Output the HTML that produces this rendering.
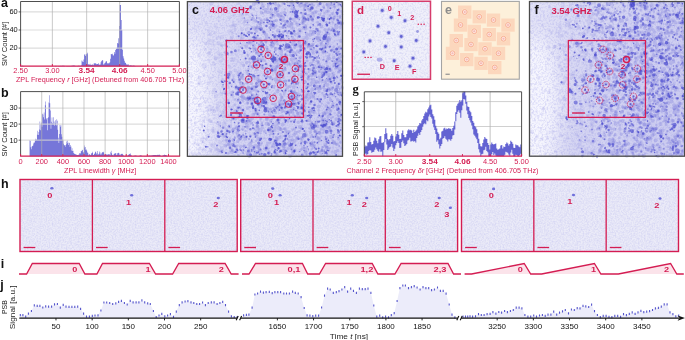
<!DOCTYPE html><html><head><meta charset="utf-8"><style>html,body{margin:0;padding:0;background:#fff;}svg{display:block;will-change:transform;}</style></head><body><svg width="685" height="340" viewBox="0 0 685 340" font-family="Liberation Sans, sans-serif"><rect width="685" height="340" fill="#fff"/><defs><filter id="grain" x="0" y="0" width="100%" height="100%"><feTurbulence type="fractalNoise" baseFrequency="0.65" numOctaves="2" seed="4" result="t"/><feColorMatrix type="matrix" values="0 0 0 0 0.35  0 0 0 0 0.35  0 0 0 0 0.8  0 0 0 -1.6 1.05"/></filter><filter id="sb" x="-5%" y="-5%" width="110%" height="110%"><feGaussianBlur stdDeviation="0.45"/></filter><filter id="sb2" x="-5%" y="-5%" width="110%" height="110%"><feGaussianBlur stdDeviation="0.7"/></filter><filter id="grain2" x="0" y="0" width="100%" height="100%"><feTurbulence type="fractalNoise" baseFrequency="0.55" numOctaves="2" seed="9"/><feColorMatrix type="matrix" values="0 0 0 0 0.32  0 0 0 0 0.32  0 0 0 0 0.8  3.2 0 0 0 -1.35"/></filter></defs><path d="M20.6 66.2v-0.09h0.64v0.09zM21.24 66.2v-0.15h0.64v0.15zM21.87 66.2v-0.38h0.64v0.38zM22.51 66.2v-0.51h0.64v0.51zM23.14 66.2v-0.28h0.64v0.28zM54.9 66.2v-0.1h0.64v0.1zM55.54 66.2v-0.41h0.64v0.41zM56.17 66.2v-0.24h0.64v0.24zM57.44 66.2v-0.06h0.64v0.06zM58.08 66.2v-0.11h0.64v0.11zM58.71 66.2v-0.13h0.64v0.13zM59.35 66.2v-0.21h0.64v0.21zM59.98 66.2v-0.23h0.64v0.23zM60.62 66.2v-0.33h0.64v0.33zM61.25 66.2v-0.27h0.64v0.27zM61.89 66.2v-0.36h0.64v0.36zM62.52 66.2v-0.49h0.64v0.49zM63.16 66.2v-0.57h0.64v0.57zM63.79 66.2v-0.4h0.64v0.4zM64.43 66.2v-0.13h0.64v0.13zM65.7 66.2v-0.05h0.64v0.05zM66.33 66.2v-0.1h0.64v0.1zM66.97 66.2v-0.1h0.64v0.1zM67.6 66.2v-0.16h0.64v0.16zM68.24 66.2v-0.16h0.64v0.16zM68.88 66.2v-0.25h0.64v0.25zM69.51 66.2v-0.25h0.64v0.25zM70.15 66.2v-0.27h0.64v0.27zM70.78 66.2v-0.25h0.64v0.25zM71.42 66.2v-0.44h0.64v0.44zM72.05 66.2v-0.47h0.64v0.47zM72.69 66.2v-0.59h0.64v0.59zM73.32 66.2v-0.75h0.64v0.75zM73.96 66.2v-0.75h0.64v0.75zM74.59 66.2v-0.36h0.64v0.36zM75.23 66.2v-0.15h0.64v0.15zM76.5 66.2v-0.21h0.64v0.21zM77.13 66.2v-0.27h0.64v0.27zM77.77 66.2v-0.42h0.64v0.42zM78.4 66.2v-0.37h0.64v0.37zM79.04 66.2v-0.34h0.64v0.34zM79.67 66.2v-0.29h0.64v0.29zM80.31 66.2v-0.46h0.64v0.46zM80.94 66.2v-0.72h0.64v0.72zM81.58 66.2v-5.61h0.64v5.61zM82.21 66.2v-4.68h0.64v4.68zM82.85 66.2v-4.08h0.64v4.08zM83.48 66.2v-6.69h0.64v6.69zM84.12 66.2v-11.75h0.64v11.75zM84.76 66.2v-11.74h0.64v11.74zM85.39 66.2v-10.09h0.64v10.09zM86.03 66.2v-12.47h0.64v12.47zM86.66 66.2v-11.95h0.64v11.95zM87.3 66.2v-13.33h0.64v13.33zM87.93 66.2v-2.24h0.64v2.24zM88.57 66.2v-1.57h0.64v1.57zM89.2 66.2v-1.64h0.64v1.64zM89.84 66.2v-2.36h0.64v2.36zM90.47 66.2v-1.29h0.64v1.29zM91.11 66.2v-1.46h0.64v1.46zM91.74 66.2v-1.31h0.64v1.31zM92.38 66.2v-2h0.64v2zM93.01 66.2v-1.02h0.64v1.02zM93.65 66.2v-2.81h0.64v2.81zM94.28 66.2v-2.83h0.64v2.83zM94.92 66.2v-2.89h0.64v2.89zM95.55 66.2v-2.68h0.64v2.68zM96.19 66.2v-1.91h0.64v1.91zM96.82 66.2v-2.12h0.64v2.12zM97.46 66.2v-2.29h0.64v2.29zM98.09 66.2v-3h0.64v3zM98.73 66.2v-1.76h0.64v1.76zM99.36 66.2v-1.33h0.64v1.33zM100 66.2v-1.77h0.64v1.77zM100.64 66.2v-4.05h0.64v4.05zM101.27 66.2v-5.25h0.64v5.25zM101.91 66.2v-6.25h0.64v6.25zM102.54 66.2v-5.62h0.64v5.62zM103.18 66.2v-1.61h0.64v1.61zM103.81 66.2v-1.94h0.64v1.94zM104.45 66.2v-3.09h0.64v3.09zM105.08 66.2v-3.67h0.64v3.67zM105.72 66.2v-5.03h0.64v5.03zM106.35 66.2v-4.88h0.64v4.88zM106.99 66.2v-3.03h0.64v3.03zM107.62 66.2v-2.7h0.64v2.7zM108.26 66.2v-2.91h0.64v2.91zM108.89 66.2v-2.9h0.64v2.9zM109.53 66.2v-4.04h0.64v4.04zM110.16 66.2v-7.42h0.64v7.42zM110.8 66.2v-12.15h0.64v12.15zM111.43 66.2v-11.86h0.64v11.86zM112.07 66.2v-12.42h0.64v12.42zM112.7 66.2v-10.89h0.64v10.89zM113.34 66.2v-10.59h0.64v10.59zM113.97 66.2v-14.14h0.64v14.14zM114.61 66.2v-12.53h0.64v12.53zM115.24 66.2v-16.13h0.64v16.13zM115.88 66.2v-17.25h0.64v17.25zM116.52 66.2v-18.38h0.64v18.38zM117.15 66.2v-23.19h0.64v23.19zM117.79 66.2v-22.7h0.64v22.7zM118.42 66.2v-28.05h0.64v28.05zM119.06 66.2v-40.19h0.64v40.19zM119.69 66.2v-61.09h0.64v61.09zM120.33 66.2v-61.09h0.64v61.09zM120.96 66.2v-46.16h0.64v46.16zM121.6 66.2v-36.2h0.64v36.2zM122.23 66.2v-16.51h0.64v16.51zM122.87 66.2v-9.84h0.64v9.84zM123.5 66.2v-7.68h0.64v7.68zM124.14 66.2v-5.39h0.64v5.39zM124.77 66.2v-3.65h0.64v3.65zM125.41 66.2v-3.18h0.64v3.18zM126.04 66.2v-2.04h0.64v2.04zM126.68 66.2v-1.34h0.64v1.34zM127.31 66.2v-1.8h0.64v1.8zM127.95 66.2v-1.95h0.64v1.95zM128.58 66.2v-0.8h0.64v0.8zM129.22 66.2v-0.55h0.64v0.55zM129.85 66.2v-1h0.64v1zM130.49 66.2v-0.68h0.64v0.68zM131.12 66.2v-0.59h0.64v0.59zM131.76 66.2v-0.5h0.64v0.5zM132.4 66.2v-0.55h0.64v0.55zM133.03 66.2v-0.58h0.64v0.58zM133.67 66.2v-0.55h0.64v0.55zM134.3 66.2v-0.45h0.64v0.45zM134.94 66.2v-0.2h0.64v0.2zM140.02 66.2v-0.12h0.64v0.12zM140.65 66.2v-0.37h0.64v0.37zM141.29 66.2v-0.16h0.64v0.16zM150.18 66.2v-0.15h0.64v0.15zM150.82 66.2v-0.32h0.64v0.32zM151.45 66.2v-0.06h0.64v0.06z" fill="#5e5ed2" fill-opacity="0.85" stroke="none"/><line x1="20.6" y1="48.1" x2="179.4" y2="48.1" stroke="#d4d4d4" stroke-width="1.2" stroke-opacity="0.8"/><line x1="20.6" y1="30" x2="179.4" y2="30" stroke="#d4d4d4" stroke-width="1.2" stroke-opacity="0.8"/><line x1="20.6" y1="11.9" x2="179.4" y2="11.9" stroke="#d4d4d4" stroke-width="1.2" stroke-opacity="0.8"/><line x1="52.36" y1="1.5" x2="52.36" y2="66.2" stroke="#b0b0b0" stroke-width="0.8" stroke-opacity="0.85"/><line x1="86.66" y1="1.5" x2="86.66" y2="66.2" stroke="#b0b0b0" stroke-width="0.8" stroke-opacity="0.85"/><line x1="119.69" y1="1.5" x2="119.69" y2="66.2" stroke="#b0b0b0" stroke-width="0.8" stroke-opacity="0.85"/><line x1="147.64" y1="1.5" x2="147.64" y2="66.2" stroke="#b0b0b0" stroke-width="0.8" stroke-opacity="0.85"/><path d="M20.6 66.2V1.5H179.4V66.2" fill="none" stroke="#3a3a3a" stroke-width="0.9"/><line x1="18.6" y1="48.1" x2="20.6" y2="48.1" stroke="#3a3a3a" stroke-width="0.8"/><text x="17.7" y="50.05" font-family="Liberation Sans" font-size="7.3" text-anchor="end" fill="#111" font-weight="normal" textLength="8.27" lengthAdjust="spacingAndGlyphs" >20</text><line x1="18.6" y1="30" x2="20.6" y2="30" stroke="#3a3a3a" stroke-width="0.8"/><text x="17.7" y="31.95" font-family="Liberation Sans" font-size="7.3" text-anchor="end" fill="#111" font-weight="normal" textLength="8.27" lengthAdjust="spacingAndGlyphs" >40</text><line x1="18.6" y1="11.9" x2="20.6" y2="11.9" stroke="#3a3a3a" stroke-width="0.8"/><text x="17.7" y="13.85" font-family="Liberation Sans" font-size="7.3" text-anchor="end" fill="#111" font-weight="normal" textLength="8.27" lengthAdjust="spacingAndGlyphs" >60</text><line x1="20.200000000000003" y1="66.2" x2="179.8" y2="66.2" stroke="#d41c52" stroke-width="1.3"/><line x1="20.6" y1="66.2" x2="20.6" y2="64.0" stroke="#d41c52" stroke-width="0.9"/><text x="20.6" y="73.4" font-family="Liberation Sans" font-size="7.3" text-anchor="middle" fill="#d41c52" font-weight="normal" textLength="14.47" lengthAdjust="spacingAndGlyphs" >2.50</text><line x1="52.36" y1="66.2" x2="52.36" y2="64.0" stroke="#d41c52" stroke-width="0.9"/><text x="52.36" y="73.4" font-family="Liberation Sans" font-size="7.3" text-anchor="middle" fill="#d41c52" font-weight="normal" textLength="14.47" lengthAdjust="spacingAndGlyphs" >3.00</text><line x1="86.66" y1="66.2" x2="86.66" y2="64.0" stroke="#d41c52" stroke-width="0.9"/><text x="86.66" y="73.4" font-family="Liberation Sans" font-size="7.3" text-anchor="middle" fill="#d41c52" font-weight="bold" textLength="16.04" lengthAdjust="spacingAndGlyphs" >3.54</text><line x1="119.69" y1="66.2" x2="119.69" y2="64.0" stroke="#d41c52" stroke-width="0.9"/><text x="119.69" y="73.4" font-family="Liberation Sans" font-size="7.3" text-anchor="middle" fill="#d41c52" font-weight="bold" textLength="16.04" lengthAdjust="spacingAndGlyphs" >4.06</text><line x1="147.64" y1="66.2" x2="147.64" y2="64.0" stroke="#d41c52" stroke-width="0.9"/><text x="147.64" y="73.4" font-family="Liberation Sans" font-size="7.3" text-anchor="middle" fill="#d41c52" font-weight="normal" textLength="14.47" lengthAdjust="spacingAndGlyphs" >4.50</text><line x1="179.4" y1="66.2" x2="179.4" y2="64.0" stroke="#d41c52" stroke-width="0.9"/><text x="179.4" y="73.4" font-family="Liberation Sans" font-size="7.3" text-anchor="middle" fill="#d41c52" font-weight="normal" textLength="14.47" lengthAdjust="spacingAndGlyphs" >5.00</text><text x="100" y="82.1" font-family="Liberation Sans" font-size="7.3" text-anchor="middle" fill="#d41c52" font-weight="normal" textLength="168.12" lengthAdjust="spacingAndGlyphs" >ZPL Frequency <tspan font-style="italic">r</tspan> [GHz] (Detuned from 406.705 THz)</text><text x="6.6" y="43.8" font-family="Liberation Sans" font-size="7.3" text-anchor="middle" fill="#222" font-weight="normal" textLength="44.33" lengthAdjust="spacingAndGlyphs" transform="rotate(-90 6.6 43.8)">SiV Count [#]</text><path d="M29.58 156.2v-16.26h0.53v16.26zM30.11 156.2v-15.43h0.53v15.43zM30.64 156.2v-8.86h0.53v8.86zM31.16 156.2v-7.04h0.53v7.04zM31.69 156.2v-9.74h0.53v9.74zM32.22 156.2v-10.11h0.53v10.11zM32.75 156.2v-10.63h0.53v10.63zM33.28 156.2v-12.72h0.53v12.72zM33.81 156.2v-13.93h0.53v13.93zM34.33 156.2v-13.41h0.53v13.41zM34.86 156.2v-15.7h0.53v15.7zM35.39 156.2v-17.35h0.53v17.35zM35.92 156.2v-16.17h0.53v16.17zM36.45 156.2v-16.84h0.53v16.84zM36.97 156.2v-21.44h0.53v21.44zM37.5 156.2v-25.44h0.53v25.44zM38.03 156.2v-21.28h0.53v21.28zM38.56 156.2v-24.24h0.53v24.24zM39.09 156.2v-26.81h0.53v26.81zM39.62 156.2v-34.7h0.53v34.7zM40.14 156.2v-25.9h0.53v25.9zM40.67 156.2v-32.35h0.53v32.35zM41.2 156.2v-33.67h0.53v33.67zM41.73 156.2v-29.56h0.53v29.56zM42.26 156.2v-42.49h0.53v42.49zM42.78 156.2v-41.79h0.53v41.79zM43.31 156.2v-38.99h0.53v38.99zM43.84 156.2v-43.79h0.53v43.79zM44.37 156.2v-36.71h0.53v36.71zM44.9 156.2v-50.93h0.53v50.93zM45.43 156.2v-54.73h0.53v54.73zM45.95 156.2v-36.65h0.53v36.65zM46.48 156.2v-37.96h0.53v37.96zM47.01 156.2v-25.88h0.53v25.88zM47.54 156.2v-38.13h0.53v38.13zM48.07 156.2v-38.97h0.53v38.97zM48.6 156.2v-53.77h0.53v53.77zM49.12 156.2v-60.99h0.53v60.99zM49.65 156.2v-52.88h0.53v52.88zM50.18 156.2v-45.82h0.53v45.82zM50.71 156.2v-27.48h0.53v27.48zM51.24 156.2v-34.43h0.53v34.43zM51.76 156.2v-38.75h0.53v38.75zM52.29 156.2v-33.06h0.53v33.06zM52.82 156.2v-31.63h0.53v31.63zM53.35 156.2v-38.94h0.53v38.94zM53.88 156.2v-34.75h0.53v34.75zM54.41 156.2v-30.55h0.53v30.55zM54.93 156.2v-32.92h0.53v32.92zM55.46 156.2v-35.92h0.53v35.92zM55.99 156.2v-30.76h0.53v30.76zM56.52 156.2v-36.95h0.53v36.95zM57.05 156.2v-35.34h0.53v35.34zM57.57 156.2v-26.5h0.53v26.5zM58.1 156.2v-18.33h0.53v18.33zM58.63 156.2v-13.31h0.53v13.31zM59.16 156.2v-22.13h0.53v22.13zM59.69 156.2v-31.11h0.53v31.11zM60.22 156.2v-29.57h0.53v29.57zM60.74 156.2v-30.96h0.53v30.96zM61.27 156.2v-21.88h0.53v21.88zM61.8 156.2v-19.46h0.53v19.46zM62.33 156.2v-16.55h0.53v16.55zM62.86 156.2v-16.04h0.53v16.04zM63.39 156.2v-12.43h0.53v12.43zM63.91 156.2v-11.07h0.53v11.07zM64.44 156.2v-11.01h0.53v11.01zM64.97 156.2v-9.54h0.53v9.54zM65.5 156.2v-11.16h0.53v11.16zM66.03 156.2v-14.74h0.53v14.74zM66.55 156.2v-11.99h0.53v11.99zM67.08 156.2v-15.74h0.53v15.74zM67.61 156.2v-13.22h0.53v13.22zM68.14 156.2v-11.24h0.53v11.24zM68.67 156.2v-13.67h0.53v13.67zM69.2 156.2v-13.22h0.53v13.22zM69.72 156.2v-9.31h0.53v9.31zM70.25 156.2v-11.12h0.53v11.12zM70.78 156.2v-9.61h0.53v9.61zM71.31 156.2v-5.81h0.53v5.81zM71.84 156.2v-7.86h0.53v7.86zM72.36 156.2v-5.31h0.53v5.31zM72.89 156.2v-5.46h0.53v5.46zM73.42 156.2v-3.25h0.53v3.25zM73.95 156.2v-2.08h0.53v2.08zM74.48 156.2v-2.66h0.53v2.66zM75.01 156.2v-1.96h0.53v1.96zM75.53 156.2v-1.91h0.53v1.91zM76.06 156.2v-1.59h0.53v1.59zM76.59 156.2v-1.3h0.53v1.3zM77.12 156.2v-1.27h0.53v1.27zM77.65 156.2v-1.3h0.53v1.3zM78.18 156.2v-1.41h0.53v1.41zM78.7 156.2v-1.46h0.53v1.46zM79.23 156.2v-3.1h0.53v3.1zM79.76 156.2v-2.36h0.53v2.36zM80.29 156.2v-2.95h0.53v2.95zM80.82 156.2v-5.08h0.53v5.08zM81.34 156.2v-4.98h0.53v4.98zM81.87 156.2v-6.52h0.53v6.52zM82.4 156.2v-5.96h0.53v5.96zM82.93 156.2v-3.71h0.53v3.71zM83.46 156.2v-4h0.53v4zM83.99 156.2v-10.61h0.53v10.61zM84.51 156.2v-8.58h0.53v8.58zM85.04 156.2v-9.21h0.53v9.21zM85.57 156.2v-6.46h0.53v6.46zM86.1 156.2v-6.58h0.53v6.58zM86.63 156.2v-5.38h0.53v5.38zM87.15 156.2v-3.65h0.53v3.65zM87.68 156.2v-3.38h0.53v3.38zM88.21 156.2v-0.76h0.53v0.76zM88.74 156.2v-1.72h0.53v1.72zM89.27 156.2v-2.13h0.53v2.13zM89.8 156.2v-1.09h0.53v1.09zM90.32 156.2v-1.03h0.53v1.03zM90.85 156.2v-1.93h0.53v1.93zM91.38 156.2v-3.15h0.53v3.15zM91.91 156.2v-3.1h0.53v3.1zM92.44 156.2v-4.46h0.53v4.46zM92.97 156.2v-1.11h0.53v1.11zM93.49 156.2v-1.52h0.53v1.52zM94.02 156.2v-2.22h0.53v2.22zM94.55 156.2v-3.07h0.53v3.07zM95.08 156.2v-4.36h0.53v4.36zM95.61 156.2v-4.35h0.53v4.35zM96.13 156.2v-1.91h0.53v1.91zM96.66 156.2v-3.21h0.53v3.21zM97.19 156.2v-5.22h0.53v5.22zM97.72 156.2v-1.47h0.53v1.47zM98.25 156.2v-1.86h0.53v1.86zM98.78 156.2v-2.44h0.53v2.44zM99.3 156.2v-4.66h0.53v4.66zM99.83 156.2v-3.59h0.53v3.59zM100.36 156.2v-1.68h0.53v1.68zM100.89 156.2v-1.69h0.53v1.69zM101.42 156.2v-3.02h0.53v3.02zM101.94 156.2v-4.29h0.53v4.29zM102.47 156.2v-3.7h0.53v3.7zM103 156.2v-4.55h0.53v4.55zM103.53 156.2v-3.76h0.53v3.76zM104.06 156.2v-1.36h0.53v1.36zM104.59 156.2v-1.15h0.53v1.15zM105.11 156.2v-2.05h0.53v2.05zM105.64 156.2v-2.21h0.53v2.21zM106.17 156.2v-1.8h0.53v1.8zM106.7 156.2v-1.4h0.53v1.4zM107.23 156.2v-1.59h0.53v1.59zM107.76 156.2v-1.69h0.53v1.69zM108.28 156.2v-1.91h0.53v1.91zM108.81 156.2v-2.28h0.53v2.28zM109.34 156.2v-1.76h0.53v1.76zM109.87 156.2v-0.64h0.53v0.64zM110.4 156.2v-4.06h0.53v4.06zM110.92 156.2v-5.53h0.53v5.53zM111.45 156.2v-2.95h0.53v2.95zM111.98 156.2v-1.53h0.53v1.53zM112.51 156.2v-0.98h0.53v0.98zM113.04 156.2v-0.73h0.53v0.73zM113.57 156.2v-1.97h0.53v1.97zM114.09 156.2v-2.74h0.53v2.74zM114.62 156.2v-2.51h0.53v2.51zM115.15 156.2v-2.92h0.53v2.92zM115.68 156.2v-3.15h0.53v3.15zM116.21 156.2v-0.93h0.53v0.93zM116.73 156.2v-1.57h0.53v1.57zM117.26 156.2v-2.84h0.53v2.84zM117.79 156.2v-3.24h0.53v3.24zM118.32 156.2v-3.33h0.53v3.33zM118.85 156.2v-2.92h0.53v2.92zM119.38 156.2v-1.36h0.53v1.36zM119.9 156.2v-0.79h0.53v0.79zM120.43 156.2v-1.89h0.53v1.89zM120.96 156.2v-2.52h0.53v2.52zM121.49 156.2v-2.28h0.53v2.28zM122.02 156.2v-2.48h0.53v2.48zM122.55 156.2v-1.89h0.53v1.89zM123.07 156.2v-1.28h0.53v1.28zM123.6 156.2v-0.28h0.53v0.28zM124.13 156.2v-0.14h0.53v0.14zM124.66 156.2v-0.28h0.53v0.28zM125.19 156.2v-0.53h0.53v0.53zM125.71 156.2v-0.24h0.53v0.24zM126.24 156.2v-0.16h0.53v0.16zM127.3 156.2v-0.41h0.53v0.41zM127.83 156.2v-1.02h0.53v1.02zM128.36 156.2v-1.34h0.53v1.34zM128.88 156.2v-1.89h0.53v1.89zM129.41 156.2v-2.24h0.53v2.24zM129.94 156.2v-3.05h0.53v3.05zM130.47 156.2v-1.81h0.53v1.81zM131 156.2v-1.28h0.53v1.28zM131.52 156.2v-0.31h0.53v0.31zM132.58 156.2v-0.17h0.53v0.17zM133.11 156.2v-0.27h0.53v0.27zM133.64 156.2v-0.46h0.53v0.46zM134.17 156.2v-0.57h0.53v0.57zM134.69 156.2v-0.72h0.53v0.72zM135.22 156.2v-0.73h0.53v0.73zM135.75 156.2v-0.79h0.53v0.79zM136.28 156.2v-0.34h0.53v0.34zM137.34 156.2v-0.12h0.53v0.12zM137.86 156.2v-0.22h0.53v0.22zM138.39 156.2v-0.27h0.53v0.27zM138.92 156.2v-0.39h0.53v0.39zM139.45 156.2v-0.48h0.53v0.48zM139.98 156.2v-0.7h0.53v0.7zM140.5 156.2v-0.88h0.53v0.88zM141.03 156.2v-0.79h0.53v0.79zM141.56 156.2v-0.54h0.53v0.54zM142.09 156.2v-0.09h0.53v0.09zM143.67 156.2v-0.11h0.53v0.11zM144.2 156.2v-0.18h0.53v0.18zM144.73 156.2v-0.17h0.53v0.17zM145.26 156.2v-0.25h0.53v0.25zM145.79 156.2v-0.31h0.53v0.31zM146.31 156.2v-0.3h0.53v0.3zM146.84 156.2v-0.43h0.53v0.43zM147.37 156.2v-0.5h0.53v0.5zM147.9 156.2v-0.4h0.53v0.4zM148.43 156.2v-0.44h0.53v0.44zM148.96 156.2v-0.62h0.53v0.62zM149.48 156.2v-0.62h0.53v0.62zM150.01 156.2v-0.57h0.53v0.57zM150.54 156.2v-0.69h0.53v0.69zM151.07 156.2v-0.75h0.53v0.75zM151.6 156.2v-0.79h0.53v0.79zM152.13 156.2v-0.93h0.53v0.93zM152.65 156.2v-0.93h0.53v0.93zM153.18 156.2v-1.14h0.53v1.14zM153.71 156.2v-1.14h0.53v1.14zM154.24 156.2v-1.11h0.53v1.11zM154.77 156.2v-1.21h0.53v1.21zM155.29 156.2v-1.3h0.53v1.3zM155.82 156.2v-1.26h0.53v1.26zM156.35 156.2v-1.03h0.53v1.03zM156.88 156.2v-1.38h0.53v1.38zM157.41 156.2v-1.3h0.53v1.3zM157.94 156.2v-1.53h0.53v1.53zM158.46 156.2v-1.3h0.53v1.3zM158.99 156.2v-1.37h0.53v1.37zM159.52 156.2v-1.33h0.53v1.33zM160.05 156.2v-1.06h0.53v1.06zM160.58 156.2v-0.21h0.53v0.21zM161.1 156.2v-0.12h0.53v0.12zM161.63 156.2v-0.32h0.53v0.32zM162.16 156.2v-0.47h0.53v0.47zM162.69 156.2v-0.69h0.53v0.69zM163.22 156.2v-0.86h0.53v0.86zM163.75 156.2v-1.08h0.53v1.08zM164.27 156.2v-1.58h0.53v1.58zM164.8 156.2v-1.22h0.53v1.22zM165.33 156.2v-1.29h0.53v1.29zM165.86 156.2v-1.25h0.53v1.25zM166.39 156.2v-0.69h0.53v0.69z" fill="#5e5ed2" fill-opacity="0.85" stroke="none"/><line x1="20.6" y1="140.15" x2="179.7" y2="140.15" stroke="#d4d4d4" stroke-width="1.2" stroke-opacity="0.8"/><line x1="20.6" y1="124.1" x2="179.7" y2="124.1" stroke="#d4d4d4" stroke-width="1.2" stroke-opacity="0.8"/><line x1="20.6" y1="108.05" x2="179.7" y2="108.05" stroke="#d4d4d4" stroke-width="1.2" stroke-opacity="0.8"/><line x1="41.73" y1="91.6" x2="41.73" y2="156.2" stroke="#b0b0b0" stroke-width="0.8" stroke-opacity="0.85"/><line x1="62.86" y1="91.6" x2="62.86" y2="156.2" stroke="#b0b0b0" stroke-width="0.8" stroke-opacity="0.85"/><line x1="83.99" y1="91.6" x2="83.99" y2="156.2" stroke="#b0b0b0" stroke-width="0.8" stroke-opacity="0.85"/><line x1="105.11" y1="91.6" x2="105.11" y2="156.2" stroke="#b0b0b0" stroke-width="0.8" stroke-opacity="0.85"/><line x1="126.24" y1="91.6" x2="126.24" y2="156.2" stroke="#b0b0b0" stroke-width="0.8" stroke-opacity="0.85"/><line x1="147.37" y1="91.6" x2="147.37" y2="156.2" stroke="#b0b0b0" stroke-width="0.8" stroke-opacity="0.85"/><line x1="168.5" y1="91.6" x2="168.5" y2="156.2" stroke="#b0b0b0" stroke-width="0.8" stroke-opacity="0.85"/><path d="M20.6 156.2V91.6H179.7V156.2" fill="none" stroke="#3a3a3a" stroke-width="0.9"/><line x1="18.6" y1="140.15" x2="20.6" y2="140.15" stroke="#3a3a3a" stroke-width="0.8"/><text x="17.7" y="142.55" font-family="Liberation Sans" font-size="7.3" text-anchor="end" fill="#111" font-weight="normal" textLength="8.27" lengthAdjust="spacingAndGlyphs" >10</text><line x1="18.6" y1="124.1" x2="20.6" y2="124.1" stroke="#3a3a3a" stroke-width="0.8"/><text x="17.7" y="126.5" font-family="Liberation Sans" font-size="7.3" text-anchor="end" fill="#111" font-weight="normal" textLength="8.27" lengthAdjust="spacingAndGlyphs" >20</text><line x1="18.6" y1="108.05" x2="20.6" y2="108.05" stroke="#3a3a3a" stroke-width="0.8"/><text x="17.7" y="110.45" font-family="Liberation Sans" font-size="7.3" text-anchor="end" fill="#111" font-weight="normal" textLength="8.27" lengthAdjust="spacingAndGlyphs" >30</text><line x1="20.200000000000003" y1="156.2" x2="180.1" y2="156.2" stroke="#d41c52" stroke-width="1.3"/><line x1="20.6" y1="156.2" x2="20.6" y2="154.0" stroke="#d41c52" stroke-width="0.9"/><text x="20.6" y="163.6" font-family="Liberation Sans" font-size="7.3" text-anchor="middle" fill="#d41c52" font-weight="normal" textLength="4.14" lengthAdjust="spacingAndGlyphs" >0</text><line x1="41.73" y1="156.2" x2="41.73" y2="154.0" stroke="#d41c52" stroke-width="0.9"/><text x="41.73" y="163.6" font-family="Liberation Sans" font-size="7.3" text-anchor="middle" fill="#d41c52" font-weight="normal" textLength="12.41" lengthAdjust="spacingAndGlyphs" >200</text><line x1="62.86" y1="156.2" x2="62.86" y2="154.0" stroke="#d41c52" stroke-width="0.9"/><text x="62.86" y="163.6" font-family="Liberation Sans" font-size="7.3" text-anchor="middle" fill="#d41c52" font-weight="normal" textLength="12.41" lengthAdjust="spacingAndGlyphs" >400</text><line x1="83.99" y1="156.2" x2="83.99" y2="154.0" stroke="#d41c52" stroke-width="0.9"/><text x="83.99" y="163.6" font-family="Liberation Sans" font-size="7.3" text-anchor="middle" fill="#d41c52" font-weight="normal" textLength="12.41" lengthAdjust="spacingAndGlyphs" >600</text><line x1="105.11" y1="156.2" x2="105.11" y2="154.0" stroke="#d41c52" stroke-width="0.9"/><text x="105.11" y="163.6" font-family="Liberation Sans" font-size="7.3" text-anchor="middle" fill="#d41c52" font-weight="normal" textLength="12.41" lengthAdjust="spacingAndGlyphs" >800</text><line x1="126.24" y1="156.2" x2="126.24" y2="154.0" stroke="#d41c52" stroke-width="0.9"/><text x="126.24" y="163.6" font-family="Liberation Sans" font-size="7.3" text-anchor="middle" fill="#d41c52" font-weight="normal" textLength="16.54" lengthAdjust="spacingAndGlyphs" >1000</text><line x1="147.37" y1="156.2" x2="147.37" y2="154.0" stroke="#d41c52" stroke-width="0.9"/><text x="147.37" y="163.6" font-family="Liberation Sans" font-size="7.3" text-anchor="middle" fill="#d41c52" font-weight="normal" textLength="16.54" lengthAdjust="spacingAndGlyphs" >1200</text><line x1="168.5" y1="156.2" x2="168.5" y2="154.0" stroke="#d41c52" stroke-width="0.9"/><text x="168.5" y="163.6" font-family="Liberation Sans" font-size="7.3" text-anchor="middle" fill="#d41c52" font-weight="normal" textLength="16.54" lengthAdjust="spacingAndGlyphs" >1400</text><text x="100.2" y="172.7" font-family="Liberation Sans" font-size="7.3" text-anchor="middle" fill="#d41c52" font-weight="normal" textLength="72.26" lengthAdjust="spacingAndGlyphs" >ZPL Linewidth <tspan font-style="italic">γ</tspan> [MHz]</text><text x="6.6" y="134.4" font-family="Liberation Sans" font-size="7.3" text-anchor="middle" fill="#222" font-weight="normal" textLength="44.33" lengthAdjust="spacingAndGlyphs" transform="rotate(-90 6.6 134.4)">SiV Count [#]</text><line x1="364.3" y1="101.6" x2="521.6" y2="101.6" stroke="#d0d0d0" stroke-width="1"/><line x1="364.3" y1="126.5" x2="521.6" y2="126.5" stroke="#d0d0d0" stroke-width="1"/><line x1="364.3" y1="151.3" x2="521.6" y2="151.3" stroke="#d0d0d0" stroke-width="1"/><line x1="395.76" y1="91.8" x2="395.76" y2="156.2" stroke="#b4b4b4" stroke-width="0.8"/><line x1="429.74" y1="91.8" x2="429.74" y2="156.2" stroke="#b4b4b4" stroke-width="0.8"/><line x1="462.46" y1="91.8" x2="462.46" y2="156.2" stroke="#b4b4b4" stroke-width="0.8"/><line x1="490.14" y1="91.8" x2="490.14" y2="156.2" stroke="#b4b4b4" stroke-width="0.8"/><polygon points="364.3,156.2 364.3,150.72 364.8,150.72 365.8,149.41 366.8,150.48 367.8,148.25 368.8,146.6 369.8,143.68 370.8,146.32 371.8,148.7 372.8,147.96 373.8,146.23 374.8,143.63 375.8,142.91 376.8,145.01 377.8,146.98 378.8,145.54 379.8,142.88 380.8,143.81 381.8,147.18 382.8,149.45 383.8,146.02 384.8,138.01 385.8,133.59 386.8,138.89 387.8,144.5 388.8,144.42 389.8,143.04 390.8,141.1 391.8,139.04 392.8,141.59 393.8,146.16 394.8,144.84 395.8,140.9 396.8,138.51 397.8,136.05 398.8,138.87 399.8,143.54 400.8,143.25 401.8,137.6 402.8,135.48 403.8,139.2 404.8,141.54 405.8,141.3 406.8,138.93 407.8,135.43 408.8,134.62 409.8,134 410.8,135.71 411.8,135.94 412.8,136.78 413.8,135.72 414.8,136.52 415.8,136.6 416.8,133.69 417.8,131.1 418.8,129.21 419.8,128.93 420.8,127.68 421.8,125.21 422.8,122.76 423.8,120.12 424.8,118.38 425.8,118 426.8,116.28 427.8,115.24 428.8,112.04 429.8,110.05 430.8,110.92 431.8,114.02 432.8,118.98 433.8,121.79 434.8,124.92 435.8,129.89 436.8,135.18 437.8,136.23 438.8,139.06 439.8,143.81 440.8,141.9 441.8,137.72 442.8,134.73 443.8,133.34 444.8,132.02 445.8,134.05 446.8,134.18 447.8,135.27 448.8,133.64 449.8,134.07 450.8,134.7 451.8,134.84 452.8,131.76 453.8,130.44 454.8,125.48 455.8,116.86 456.8,109.93 457.8,107.79 458.8,106.29 459.8,106.31 460.8,109.65 461.8,105.22 462.8,99.43 463.8,94.8 464.8,94.8 465.8,99.56 466.8,106.28 467.8,110.47 468.8,112.5 469.8,115.55 470.8,117.35 471.8,120.74 472.8,125.13 473.8,128.65 474.8,130.89 475.8,132.27 476.8,134.24 477.8,138.2 478.8,144.03 479.8,148.14 480.8,151.26 481.8,150.36 482.8,148.4 483.8,144.91 484.8,143.27 485.8,142.59 486.8,144.98 487.8,147.67 488.8,151.89 489.8,153.35 490.8,150.48 491.8,148.33 492.8,148.06 493.8,149.77 494.8,148.7 495.8,149.46 496.8,152.62 497.8,154.99 498.8,155.2 499.8,153.12 500.8,151.62 501.8,150.89 502.8,153.02 503.8,152.92 504.8,150.88 505.8,147.89 506.8,147.31 507.8,148.07 508.8,150.11 509.8,149.91 510.8,146.68 511.8,145.8 512.8,148.82 513.8,152.55 514.8,152.27 515.8,149.56 516.8,150.12 517.8,150.83 518.8,151.71 519.8,151.07 520.8,149.14 521.6,149.14 521.6,156.2" fill="#ededfa"/><path d="M364.8 146.83V154.61M365.8 145.41V153.4M366.8 146.16V154.81M367.8 142.56V153.94M368.8 142.13V151.06M369.8 137.31V150.04M370.8 142.05V150.6M371.8 144.61V152.78M372.8 143.96V151.97M373.8 140.63V151.82M374.8 137.5V149.76M375.8 138.34V147.48M376.8 140.72V149.29M377.8 143.15V150.81M378.8 139.32V151.75M379.8 136.6V149.17M380.8 135.95V151.67M381.8 142.87V151.49M382.8 142.72V156.18M383.8 142V150.04M384.8 133.88V142.13M385.8 128.14V139.04M386.8 133.19V144.6M387.8 138.89V150.11M388.8 140.26V148.57M389.8 139.05V147.03M390.8 135.83V146.38M391.8 133.99V144.08M392.8 135.81V147.38M393.8 141.4V150.92M394.8 141V148.68M395.8 136.52V145.28M396.8 134.05V142.96M397.8 130.96V141.14M398.8 134.66V143.08M399.8 138.98V148.09M400.8 138.72V147.77M401.8 133.29V141.91M402.8 130.54V140.41M403.8 135.1V143.31M404.8 137.17V145.91M405.8 137.37V145.22M406.8 133.95V143.91M407.8 130.42V140.44M408.8 129.36V139.87M409.8 130.19V137.81M410.8 129.83V141.6M411.8 130.61V141.27M412.8 132.9V140.65M413.8 129.7V141.74M414.8 132.01V141.03M415.8 130.71V142.49M416.8 129.39V138M417.8 126.54V135.65M418.8 125.23V133.2M419.8 122.92V134.95M420.8 123.49V131.88M421.8 120.48V129.93M422.8 118.89V126.63M423.8 115.98V124.27M424.8 113.41V123.35M425.8 111.68V124.33M426.8 112.38V120.17M427.8 109.16V121.32M428.8 107.57V116.5M429.8 105.51V114.6M430.8 104.82V117.03M431.8 109.61V118.42M432.8 114.32V123.65M433.8 116.29V127.29M434.8 119.78V130.07M435.8 125.75V134.04M436.8 128.58V141.78M437.8 132.14V140.32M438.8 133.81V144.3M439.8 139.16V148.46M440.8 137.79V146.01M441.8 131.52V143.91M442.8 130.75V138.71M443.8 128.56V138.12M444.8 127.77V136.27M445.8 129.41V138.69M446.8 128.58V139.79M447.8 129.09V141.45M448.8 128.04V139.24M449.8 128.73V139.4M450.8 128.74V140.66M451.8 130.75V138.93M452.8 127.93V135.6M453.8 125.87V135M454.8 121.39V129.57M455.8 112.36V121.36M456.8 105.86V114M457.8 103.77V111.81M458.8 102.42V110.16M459.8 99.92V112.7M460.8 101.65V117.64M461.8 100.32V110.13M462.8 93.34V105.51M463.8 91.8V98.95M464.8 91.8V99.6M465.8 95.39V103.73M466.8 101.96V110.6M467.8 106.57V114.37M468.8 107.06V117.93M469.8 110.73V120.37M470.8 112.25V122.44M471.8 115.95V125.53M472.8 120.96V129.29M473.8 122.81V134.48M474.8 126.09V135.7M475.8 127.15V137.39M476.8 129.14V139.34M477.8 133.32V143.07M478.8 138.74V149.31M479.8 143.72V152.57M480.8 146.14V156.2M481.8 146.49V154.23M482.8 143.01V153.79M483.8 139.62V150.21M484.8 136.9V149.64M485.8 138.47V146.71M486.8 138.88V151.09M487.8 143.09V152.26M488.8 145.05V156.2M489.8 149.41V156.2M490.8 144.48V156.2M491.8 142.44V154.22M492.8 144.08V152.03M493.8 144.52V155.02M494.8 143.98V153.42M495.8 143.39V155.54M496.8 148.58V156.2M497.8 149.69V156.2M498.8 149.32V156.2M499.8 148.39V156.2M500.8 145.5V156.2M501.8 144.97V156.2M502.8 148.42V156.2M503.8 146.43V156.2M504.8 146.92V154.83M505.8 144.03V151.75M506.8 142.42V152.19M507.8 143.51V152.64M508.8 145.61V154.61M509.8 144.12V155.7M510.8 140.78V152.57M511.8 141.96V149.65M512.8 143.82V153.82M513.8 147.71V156.2M514.8 147.9V156.2M515.8 144.41V154.7M516.8 145.3V154.94M517.8 145.3V156.2M518.8 146.56V156.2M519.8 147.26V154.88M520.8 144.56V153.72" stroke="#6262d2" stroke-width="1.05" fill="none"/><path d="M364.3 156.2V91.8H521.6V156.2" fill="none" stroke="#3a3a3a" stroke-width="0.9"/><line x1="362.3" y1="101.6" x2="364.3" y2="101.6" stroke="#3a3a3a" stroke-width="0.8"/><line x1="362.3" y1="126.7" x2="364.3" y2="126.7" stroke="#3a3a3a" stroke-width="0.8"/><line x1="363.90000000000003" y1="156.2" x2="522.0" y2="156.2" stroke="#d41c52" stroke-width="1.3"/><line x1="364.3" y1="156.2" x2="364.3" y2="154.0" stroke="#d41c52" stroke-width="0.9"/><text x="364.3" y="163.8" font-family="Liberation Sans" font-size="7.3" text-anchor="middle" fill="#d41c52" font-weight="normal" textLength="14.47" lengthAdjust="spacingAndGlyphs" >2.50</text><line x1="395.76" y1="156.2" x2="395.76" y2="154.0" stroke="#d41c52" stroke-width="0.9"/><text x="395.76" y="163.8" font-family="Liberation Sans" font-size="7.3" text-anchor="middle" fill="#d41c52" font-weight="normal" textLength="14.47" lengthAdjust="spacingAndGlyphs" >3.00</text><line x1="429.74" y1="156.2" x2="429.74" y2="154.0" stroke="#d41c52" stroke-width="0.9"/><text x="429.74" y="163.8" font-family="Liberation Sans" font-size="7.3" text-anchor="middle" fill="#d41c52" font-weight="bold" textLength="16.04" lengthAdjust="spacingAndGlyphs" >3.54</text><line x1="462.46" y1="156.2" x2="462.46" y2="154.0" stroke="#d41c52" stroke-width="0.9"/><text x="462.46" y="163.8" font-family="Liberation Sans" font-size="7.3" text-anchor="middle" fill="#d41c52" font-weight="bold" textLength="16.04" lengthAdjust="spacingAndGlyphs" >4.06</text><line x1="490.14" y1="156.2" x2="490.14" y2="154.0" stroke="#d41c52" stroke-width="0.9"/><text x="490.14" y="163.8" font-family="Liberation Sans" font-size="7.3" text-anchor="middle" fill="#d41c52" font-weight="normal" textLength="14.47" lengthAdjust="spacingAndGlyphs" >4.50</text><line x1="521.6" y1="156.2" x2="521.6" y2="154.0" stroke="#d41c52" stroke-width="0.9"/><text x="521.6" y="163.8" font-family="Liberation Sans" font-size="7.3" text-anchor="middle" fill="#d41c52" font-weight="normal" textLength="14.47" lengthAdjust="spacingAndGlyphs" >5.00</text><text x="442.5" y="172.9" font-family="Liberation Sans" font-size="7.3" text-anchor="middle" fill="#d41c52" font-weight="normal" textLength="192.06" lengthAdjust="spacingAndGlyphs" >Channel 2 Frequency <tspan font-style="italic">δr</tspan> [GHz] (Detuned from 406.705 THz)</text><text x="357.7" y="129.15" font-family="Liberation Sans" font-size="7.3" text-anchor="middle" fill="#222" font-weight="normal" textLength="53.5" lengthAdjust="spacingAndGlyphs" transform="rotate(-90 357.7 129.15)">PSB Signal [a.u.]</text><defs><linearGradient id="mg11" x1="0" y1="0" x2="1" y2="0.3"><stop offset="0" stop-color="#e4e4f7"/><stop offset="0.45" stop-color="#d6d6f2"/><stop offset="1" stop-color="#cdcdf0"/></linearGradient><clipPath id="cp11"><rect x="187.3" y="1.4" width="155.2" height="154.8"/></clipPath><filter id="bl11" x="-50%" y="-50%" width="200%" height="200%"><feGaussianBlur stdDeviation="9"/></filter></defs><rect x="187.3" y="1.4" width="155.2" height="154.8" fill="url(#mg11)"/><g clip-path="url(#cp11)"><ellipse cx="187.3" cy="106.4" rx="22" ry="72" fill="#fafaff" opacity="0.85" filter="url(#bl11)"/></g><g filter="url(#sb)"><path d="M317.36 0.7h0" stroke="#4c4cce" stroke-width="0.5" stroke-opacity="0.8" stroke-linecap="round" fill="none"/><path d="M335.7 24.54h0M282.94 25.49h0M308.39 149.95h0M339.99 54.63h0M313.23 124.16h0M312.03 122.84h0M300.27 50.16h0M300.9 49.8h0M299.83 49.97h0M257.6 21.84h0M252.54 37.26h0M253.35 37.5h0M252.7 37.8h0M306 103.33h0M334.61 134.58h0M256.31 16.03h0M256.06 15.4h0M253.26 149.54h0M301.93 95.76h0M301.53 96.18h0M323.95 59.63h0M294.22 6.27h0M314.81 108.42h0" stroke="#4c4cce" stroke-width="1" stroke-opacity="0.5" stroke-linecap="round" fill="none"/><path d="M318.47 55.68h0M318.35 56.26h0M330.02 113.49h0M338.67 65.62h0M332.63 61.35h0M247.17 33.28h0M202.74 141.97h0M251.91 80.86h0M272.87 113.23h0M279.69 109.47h0M278.91 110.13h0M293.9 65h0M280.46 151.66h0M304.32 83.34h0M283.85 3.77h0M304.42 27.35h0M294.68 120.67h0M334.91 65.27h0M335.4 64.71h0M234.61 140.58h0M337.02 14.71h0M314.19 60.22h0M279 152.01h0M251.77 141.37h0M254.19 129.21h0M254.13 128.35h0M320.73 40.52h0M327.3 52.32h0M333.79 124.24h0M239.03 122.88h0M238.4 123.51h0M238.94 122.31h0M316.03 32.08h0M314.88 31.24h0" stroke="#4c4cce" stroke-width="1" stroke-opacity="0.6" stroke-linecap="round" fill="none"/><path d="M299.72 65.73h0M307.45 87.23h0M284.14 14.54h0M284.66 14.38h0M252.76 95.27h0M251.3 95.94h0M304.8 63.1h0M271.27 21.04h0M253.24 16.07h0M337.94 21.11h0M337.27 20.09h0M321.53 99.57h0M320.9 99.91h0M240.53 59.73h0M273.29 14.8h0M272.8 15.83h0M310.31 117.2h0M316.42 46.04h0M315.71 46.19h0M285.26 67.81h0M291.14 99.74h0M299.37 19.7h0M275.65 149.43h0M266.67 22.52h0M288.1 134.37h0M323.2 120.06h0M315.38 136.33h0M285.31 24.84h0M271.74 87.77h0M294.95 103.52h0" stroke="#4c4cce" stroke-width="1" stroke-opacity="0.7" stroke-linecap="round" fill="none"/><path d="M338.86 10.37h0M246.72 147.34h0M313.37 110.46h0M313.13 57.16h0M312.9 56.7h0M312.76 56.67h0M312.96 24.33h0M229.13 126.98h0M229.5 126.64h0M326.69 78.42h0M305.76 73.25h0M338.98 51.28h0M255.98 109.86h0M297.26 63.19h0M297.92 3.03h0M297.46 3.23h0M298.28 2.61h0M257.86 96.97h0M256.67 97.72h0M268.25 84.14h0M317.98 142.14h0M317.13 1.53h0M316.59 1.25h0M317.27 51.86h0M317 51.38h0M338.26 107.99h0M310.24 118.29h0M322.77 153.23h0M286.49 113.64h0M337.99 125.75h0M338.16 124.28h0" stroke="#4c4cce" stroke-width="1" stroke-opacity="0.8" stroke-linecap="round" fill="none"/><path d="M252.9 102.84h0M251.71 103.13h0M282.79 91.16h0M281.68 90.31h0M305.33 41.62h0M305.68 41.2h0M285.39 152.79h0M324.97 51.96h0M325.5 50.92h0M307.76 121.01h0" stroke="#4c4cce" stroke-width="1" stroke-opacity="0.9" stroke-linecap="round" fill="none"/><path d="M239.53 130.45h0M329.75 126.98h0M300.11 101.69h0M308.38 148.92h0M265.92 133.16h0M272.45 112.42h0M271.51 111.66h0M272.38 111.05h0M272.47 79.68h0M340.32 53.82h0M339.15 53.99h0M312.36 123.72h0M283.08 104.03h0M291.56 36.47h0M258.6 21.87h0M258.41 22.46h0M294.9 69.56h0M254.69 37.79h0M254.62 37.56h0M330.7 70.95h0M269.23 70.01h0M270.89 44.97h0M313.28 64.99h0M290.63 21.23h0M333.4 135.1h0M309.94 155.15h0M309.22 153.46h0M217.71 121.92h0M316.36 134.68h0M266.93 18.33h0M289.38 114.99h0M300.83 95.27h0M323.03 60.07h0M339.73 88.92h0M293.91 7.4h0M271.27 122.06h0M295.71 45.87h0M287.13 104.12h0M338.06 94.51h0M324.88 153.43h0M341.58 61.98h0M226.09 134.9h0M226.3 133.65h0M226.66 133.77h0M302.47 137.17h0M261.49 125.45h0M227.64 81.44h0M233.31 92.28h0M272.24 85.42h0M272.59 41.52h0M311.85 57.04h0M257.32 75.62h0M265.16 91.56h0M298.2 71.38h0M313.86 108.33h0M315.38 121.65h0M255.64 50.22h0M308.88 52.47h0M270.33 8.88h0" stroke="#4c4cce" stroke-width="1.5" stroke-opacity="0.5" stroke-linecap="round" fill="none"/><path d="M278.16 87.51h0M331.05 30.13h0M270.04 17.81h0M338.11 121.48h0M339.15 121.93h0M338.68 120.68h0M324 7.95h0M316.68 53.12h0M316.48 52.43h0M317.62 52.43h0M331.06 114.81h0M258.36 151.9h0M256.38 152.72h0M294.52 151.48h0M256.17 123.05h0M338.91 64.88h0M337.78 65.4h0M277.67 106.71h0M300.29 50.64h0M300.11 51.34h0M291.47 18.9h0M332.01 60.92h0M245.76 133.81h0M330.47 46.52h0M329.48 46.77h0M329.66 47.34h0M310.97 125.72h0M207.73 146.84h0M282.37 132.11h0M260.34 81.6h0M313.3 41.18h0M231.63 86.42h0M317.01 57.09h0M284.19 118.89h0M338.16 108.78h0M338.96 109.74h0M338.7 108.22h0M311.11 49.23h0M337.35 43.92h0M247.39 22.49h0M274.51 141.23h0M335.52 96.64h0M325 34.84h0M290.06 50.16h0M305.77 18.58h0M305.72 18.97h0M313.12 19.19h0M329.62 23.34h0M328.99 22.91h0M329.65 22.46h0M279.69 110.27h0M324 86.61h0M299.35 65.73h0M300.85 3.25h0M301.75 3.2h0M296.62 55.13h0M294.69 64.19h0M281.19 151.57h0M281.63 151.1h0M312.88 39.52h0M254.84 76.92h0M254.65 76.07h0M254.48 76.38h0M295.3 119.6h0M304.45 69.6h0M304.7 68.81h0M300.99 121.6h0M265.66 87.96h0M314.71 147.83h0M316.38 149.34h0M335.58 65.72h0M251.79 150.99h0M251.74 149.77h0M252.16 123.01h0M304.02 150.56h0M336.87 76.62h0M337.25 77.51h0M337.68 12.65h0M322.37 116.87h0M313.11 59.68h0M243.11 153.01h0M301.53 89.47h0M332.29 124.49h0M279.63 152.1h0M280.24 151.38h0M319.75 17.42h0M251.6 140h0M288.83 38.65h0M310.5 65.84h0M334.72 93.36h0M332.94 87.73h0M342.47 14.5h0M286.9 151.33h0M238.58 77.67h0M320.17 39.97h0M299.34 95.77h0M299.73 151.62h0M220.07 136.28h0M285.75 27.79h0M291.71 92.61h0M259.67 154.16h0M253.08 45.56h0M312.18 73.25h0M278.09 55.64h0M294.9 116.26h0M304.51 63.96h0M233.78 144.49h0M341.27 2.11h0M243.52 88.48h0M253.56 106.61h0M252.87 98.53h0M307.38 146.81h0M253.23 105.41h0M303.97 145.39h0M244.36 18.12h0M262.24 50.86h0M262.48 51.59h0M315.23 33.31h0M339.15 146.1h0M338.96 121.1h0M317.19 46.55h0M243.53 149.9h0M315.65 31.32h0" stroke="#4c4cce" stroke-width="1.5" stroke-opacity="0.6" stroke-linecap="round" fill="none"/><path d="M338.41 32.2h0M339.57 31.76h0M337.33 31.86h0M307.97 86.98h0M251.4 51.83h0M301.94 154.9h0M277.38 40.08h0M319.29 58.09h0M291.98 144.91h0M328.73 150.68h0M307.14 88.2h0M306.18 88.61h0M298.91 60.71h0M242.7 82.96h0M285.87 30.8h0M223.63 89.41h0M238.41 88.75h0M334.38 33.7h0M314.6 93.94h0M314.25 92.79h0M317.98 24.93h0M283.32 75.09h0M282.31 75.4h0M325.77 120.77h0M237.75 150.18h0M220.36 125.92h0M298.33 10.74h0M297.57 11.72h0M331.18 2.77h0M249 139.11h0M292.86 143.2h0M251.74 95.06h0M292.21 98.87h0M299.87 30.88h0M305.33 62.71h0M293.65 109.47h0M287.61 139.05h0M329.37 119.84h0M257.81 132.41h0M258.42 133.08h0M256.94 132.77h0M234.27 152.25h0M327.49 150.6h0M294.22 81.82h0M271.98 21.8h0M272.57 21.97h0M232 109.53h0M252.36 15.3h0M338.17 137.56h0M332.39 94.47h0M310.27 53.67h0M296.14 58.42h0M338.31 20.38h0M217.9 131.88h0M321.19 98.94h0M296.38 12.46h0M295.84 10.5h0M262.23 81.4h0M216.06 91.81h0M254.51 151.81h0M327.8 97.35h0M264.51 76.11h0M272.64 14.8h0M239.26 107.34h0M277.26 150.14h0M309.69 117.17h0M301.21 142.95h0M301.05 143.64h0M316.23 45.44h0M294.62 45.22h0M327.74 142.37h0M338.04 131.04h0M318.85 17.03h0M262.86 56.41h0M290.26 12.08h0M295.88 110.75h0M326.58 123.7h0M296.84 2.51h0M248.57 76.22h0M256.54 94.17h0M290.27 99.06h0M291.11 99.7h0M334.97 35.06h0M219.83 116.21h0M257.8 86.01h0M274.93 150.05h0M274.48 150.69h0M279.87 45.57h0M282.41 46.13h0M304.82 143.2h0M305.17 144.11h0M258.46 75.42h0M321.94 9.74h0M321.51 10.98h0M271.58 154.09h0M331.35 107.22h0M324.17 85.04h0M267.65 22.55h0M288.37 133.4h0M305.48 56.82h0M305.48 32.54h0M323.13 120.71h0M286.23 35.65h0M321.01 69.23h0M315.18 136.9h0M287.44 112.41h0M286.89 111.54h0M331.06 133.17h0M321.53 140.62h0M223.04 84.74h0M271.73 87.21h0M226.39 152.99h0M225.71 152.74h0M225.64 153.34h0M248.13 115.75h0M248.35 116h0M297.34 1.87h0M332.28 101.59h0M309.07 139.58h0M308.52 140.38h0M308.45 140.3h0M313.15 71.29h0M241.11 150.56h0M240.36 43.23h0M284.46 102.91h0M267.65 3.78h0M327.09 150.46h0M285.43 105.91h0M310.83 116.15h0M311.1 117.36h0M311.79 115.83h0M310.23 9.44h0M297.38 87.43h0M341.61 95.8h0M297.6 95.32h0M293.92 103.41h0M269.88 94.8h0M313.69 92.68h0" stroke="#4c4cce" stroke-width="1.5" stroke-opacity="0.7" stroke-linecap="round" fill="none"/><path d="M337.08 66.42h0M338.74 9.16h0M245.7 147.45h0M224.86 75.08h0M314.34 110.17h0M298.79 102.97h0M298.25 102.57h0M313.29 25.03h0M286.13 136.14h0M293.33 80.61h0M229.03 126.05h0M307.38 115.8h0M309.63 115.5h0M243.09 134.92h0M246.93 42.69h0M280.54 73.76h0M306.78 54.06h0M321.63 17.87h0M263.21 45.41h0M263.12 43.81h0M327.24 95.11h0M255.68 110.55h0M245.81 35.16h0M247.21 36.62h0M236.66 110.77h0M236.96 111.61h0M257.71 97.55h0M242.82 13.78h0M318.61 151.08h0M277.54 35.68h0M259.21 110.2h0M240.31 102.15h0M311.57 115.56h0M262.78 125.17h0M250.67 48.78h0M249.25 73.81h0M251.64 74.47h0M267.7 83.28h0M283.47 35.61h0M256.83 98.61h0M287.88 5.5h0M248.42 66.39h0M290.85 31.84h0M315.03 89.45h0M315.17 88.31h0M313.85 47.69h0M290.59 143.31h0M290.27 143.89h0M317.4 142.7h0M315.9 154.68h0M301.44 106.98h0M295.74 145.37h0M272.88 123.41h0M285.72 83.76h0M261.23 138.45h0M259.95 140.61h0M289.52 5.71h0M273.58 133.75h0M223.09 82.46h0M342.05 78.7h0M234.51 122.52h0M250.69 29.44h0M336.85 2.18h0M338.88 108.83h0M227.34 137.41h0M326.18 36.99h0M255.36 136.93h0M250.65 76.59h0M326.07 24.42h0M326.84 23.93h0M287.44 60.41h0M287.45 61.13h0M276.66 108.08h0M320.87 99.3h0M221.42 151.85h0M222.16 152.6h0M221.98 151.01h0M289.65 118.45h0M283.53 45.02h0M285.38 138.37h0M285.78 139.1h0M256.83 43.08h0M276.09 107.47h0M232.64 131.76h0M233.11 131.2h0M253.05 124.91h0M299.81 24.38h0M340.43 4.83h0M275.92 140.51h0M275.03 140.44h0M303.25 48.3h0M266.16 93.69h0M339.87 104.32h0M333.1 105.52h0M271.21 155.68h0M286.15 135.48h0M284.15 135.89h0M301.22 77.38h0M238.91 126.28h0M314.47 38.49h0M314.21 39.07h0M286 113.85h0M337.87 124.87h0M309.98 4.69h0M325.27 136.99h0" stroke="#4c4cce" stroke-width="1.5" stroke-opacity="0.8" stroke-linecap="round" fill="none"/><path d="M332.45 124.51h0M252.23 103.66h0M270.34 30.03h0M238.51 89.82h0M282.21 90.79h0M323.16 124.48h0M308.17 68.96h0M271.65 139.12h0M285.22 122.33h0M285.5 121.75h0M256.74 17.91h0M329.7 18.68h0M329.55 19.54h0M340.79 130.01h0M308.85 107.37h0M325.86 152.84h0M326.52 151.91h0M328.51 140.31h0M285.8 153.4h0M285.36 152.87h0M326.05 36.24h0M274.46 51.99h0M291.55 83.65h0M239.99 113.7h0M260.59 64.83h0M338.74 124.77h0M270.06 2.55h0M269.52 3.62h0M248.11 70.77h0M297.82 108.23h0M297.02 106.54h0M325.52 51.56h0M316.72 77.33h0M307.85 91.5h0M263.06 91.49h0M337.12 13.68h0M204.61 126.21h0M341.18 94.99h0M316.94 133.48h0M241.49 136.2h0M240.94 137.1h0M293.47 5.28h0M273.07 3.18h0M272.41 127.65h0M271.78 125.93h0M257.81 35.51h0M325.55 47.35h0M263.93 22.31h0" stroke="#4c4cce" stroke-width="1.5" stroke-opacity="0.9" stroke-linecap="round" fill="none"/><path d="M207.28 88.13h0M214.1 109.67h0M199.51 83.74h0M236.22 34.3h0M224.52 113.45h0M226.94 120.87h0M205.52 132.64h0M220.36 102.47h0M222.06 87.02h0M230.88 60.99h0M226.7 129.45h0M231.61 84.4h0M211.96 77.54h0M198.77 79.07h0M221.53 76.04h0M243.77 14.91h0M234.75 65.86h0M252.08 6.47h0M221.15 10.53h0M229.42 77.7h0M228.82 86.13h0M191.8 75.38h0M234.08 29.22h0M218.4 103.82h0M225.41 135.94h0M234.85 26.91h0M228.36 65.44h0M223.99 59.45h0M228.01 100.03h0M224.15 105.23h0M223.9 135.86h0M228.49 106.71h0M219.64 151.72h0M226.46 25.44h0M207.52 98.86h0M210.75 144.3h0M218.01 145.18h0M199.16 93.38h0M233.07 24.96h0M236.74 10.36h0M205.22 82.55h0M233.86 21.73h0M219.3 61.05h0M199.28 104.58h0M201.07 98.31h0M246.65 14.65h0M226.41 20.4h0M233.6 61.25h0M213.95 118.36h0M240.83 47.16h0M205.09 92.04h0M219.18 21.51h0M224.34 52.04h0M229.17 71.92h0M191.77 137.07h0M193.1 155.04h0M224.92 115.79h0M223.05 19.57h0M238.47 33.21h0M190.56 120.62h0" stroke="#4c4cce" stroke-width="2" stroke-opacity="0.1" stroke-linecap="round" fill="none"/><path d="M309.6 52.36h0M230.31 146.66h0M318.58 14.28h0M235.21 128.2h0M302.03 154.37h0M280.17 127.74h0M263.84 23.39h0M308.52 72.04h0M256.07 140.95h0M243.08 126.65h0M286.06 81.11h0M273.48 136.9h0M248.65 48.03h0M336.82 35.14h0M312.45 20.42h0M298.83 36.04h0M242.75 87.59h0M311.27 92.28h0M308.95 128.35h0M287.38 26.21h0M274.15 140.09h0M256.81 124.19h0M311.95 148.95h0M283.42 62.95h0M306.22 19.23h0M250.24 58.84h0M337.96 116.19h0M244 122.88h0M279.49 36.16h0M279.5 70.21h0M249.22 61.83h0M249.31 74.2h0M298.71 40.9h0M269.63 90.04h0M247.42 54.18h0M333.62 18.81h0M229.94 151.21h0M293.13 10.37h0M332.58 124.78h0M257.31 25.65h0M287.01 50.93h0M279.61 103.61h0M333.43 19.85h0M299.42 23.96h0M260.94 133.23h0M327.84 18.87h0M332.15 74.02h0M257.84 65.29h0M285.66 40.5h0M279.43 60.23h0M330.34 18.76h0M323.36 40.9h0M297.7 102.98h0M337.94 10.25h0M335.47 155.51h0M293.84 107.64h0M283.42 144.06h0M332.52 81.2h0M340.86 136.33h0M273.09 3.64h0M319.12 71.79h0M281.48 59.51h0M261.96 124.12h0M293.21 70.89h0M275.04 50.61h0M339.41 102.69h0M305.08 3.72h0M243.01 75.95h0M298.59 138.86h0M280.76 16.28h0M332.23 151.47h0M271.16 70.42h0M241.15 116.86h0M241.54 77.46h0M338.15 135.9h0M295.33 145.46h0M321.7 103.74h0M285.54 85.14h0M318.83 113.58h0M303.08 94.7h0M329.18 68.76h0M311.39 78.98h0M324.43 149.95h0M300.12 61.55h0M312.37 141.73h0M277.67 11.83h0M314.88 111.24h0M231.05 120.39h0M302.43 91.08h0M260.47 20.15h0M277.87 106.86h0M311.45 46.03h0M277.06 57.61h0M328.54 87.87h0M272.75 32h0M286.87 132.67h0M279.76 61.51h0M321.4 120.6h0M311.26 85.34h0M285.23 64.29h0M291.38 116.61h0M305.44 132.39h0M323.01 147.07h0M272.01 119.16h0M303.51 94.64h0M304.2 63.44h0M293.18 92.28h0M247.05 79.92h0M263.06 84.36h0M318.16 117.31h0M341.74 23.31h0M259.53 110.52h0M265.79 150.5h0M286.01 60.6h0M240.52 77.61h0M243.28 101.53h0M307.95 91.7h0M332.5 28.11h0M250.47 62.94h0M285.01 24.01h0M332.95 116.89h0M247.02 126.86h0M248.49 71.51h0M288.92 6.4h0M252.41 17.63h0M305.43 62.49h0M261.1 29.2h0M306.56 154.4h0M263.11 9.15h0M339.14 95.33h0M307.83 8.76h0M328.11 88.48h0M234.69 137.37h0M320.04 138.43h0M289.28 98.82h0M264.88 39.97h0M231.54 148.59h0M303.27 154.78h0M242.37 129.75h0M295.56 116.28h0M302.34 23.07h0M321.75 154.08h0M332.54 106.56h0M240.43 96.63h0M331.73 105.52h0M316.7 67.85h0M285.3 154.09h0M338.62 47.53h0M288.77 90.92h0M278.33 74.49h0M249.8 153.06h0M307.55 47.46h0M291.85 93.64h0M288.7 80.87h0M300.89 143.54h0M255.65 111.13h0M255.91 52.64h0M285.83 120.45h0M226.83 152.89h0M252.39 106.21h0M282.13 62.17h0M310.52 49.42h0M327.31 137.5h0M337.58 16.14h0M277.29 65.84h0M314.99 99.04h0M319.46 79.5h0M309.34 54.12h0M281.08 107.2h0M283.53 77.68h0M306.43 66.01h0M326.46 143.75h0M321.62 136.53h0M298.5 74.77h0M284.37 67.27h0M267.6 93.58h0M320.19 15.29h0M310.9 144.84h0M337.56 2.24h0M282.9 44.46h0M313.18 73.38h0M264.01 102.82h0M311.6 121.84h0M256.61 152.92h0M317.49 120.85h0M289.92 45.98h0M333.3 66.19h0M259.49 75.16h0M253.22 41.86h0M314.33 48.73h0M305.96 44.75h0M328.82 122.42h0M332.38 14.45h0M251.7 66.56h0M250.27 42.61h0M249.08 40.04h0M310.6 137.35h0M267.54 99.79h0M340.63 105.49h0M324.9 48.19h0M289.77 63.68h0M317.35 63.63h0M329.55 54.8h0M340.94 110.28h0M314.29 155.69h0M315.05 131.41h0M265.97 102.68h0M314.1 5.36h0M340.31 70.46h0M275.84 136.98h0M324.04 156h0M313.89 59.65h0M267.2 49.22h0M324.84 145.86h0M272.4 56.02h0M291.96 136.65h0M317.26 143.34h0M275.98 35.4h0M320.6 13.49h0M263.47 6.86h0M287.42 55.48h0M318.3 62.74h0M309.57 124.16h0M336.84 55.21h0M276.04 149.49h0M264.39 138.37h0M304.8 80.7h0M245.82 70.55h0M226.47 145.67h0M293.84 84.01h0M304.18 8.23h0M269.79 129.91h0M290.28 105.19h0M285.11 147.45h0M280.57 135.7h0M275.68 2.22h0M258.94 103.32h0M286.08 43.53h0M312.27 32.98h0M329.9 97.69h0M261.41 41.09h0M262.37 82.48h0M292.93 78.46h0M270.47 83.51h0M279.85 26.95h0M276.21 153.67h0M305.27 143.06h0M284.63 67.2h0M307.32 19.57h0M250.66 123.69h0M288.07 51.62h0M259.32 144.9h0M308.87 68.97h0M306.64 14.83h0M294.09 8.71h0M260.06 45.66h0M253.03 68.01h0M301.69 68.27h0M253.38 51.42h0M254.78 78.97h0M269.9 135.09h0M251.59 14.29h0M328.14 66.55h0M240.27 149.04h0M298.28 136.42h0M312.74 74.8h0M302.82 99h0M331.25 3.74h0M325.24 126.37h0M274.44 109.64h0" stroke="#4c4cce" stroke-width="2" stroke-opacity="0.2" stroke-linecap="round" fill="none"/><path d="M253.09 106.48h0M294.88 81.69h0M238.69 129.91h0M238.28 130.82h0M297.37 99.45h0M291.45 149.39h0M251.49 19.75h0M258.59 62.82h0M255.76 37.85h0M283.22 131.93h0M242.81 74.43h0M290.75 47.67h0M309.95 154.2h0M271.18 39.46h0M268.12 19.97h0M314.49 142.22h0M238 99.85h0M257.95 60.6h0M341.65 6.22h0M278.25 133.88h0M266.02 68.2h0M303.97 110.33h0M303.94 109.7h0M324.43 151.59h0M264.4 114.6h0M278.89 122.67h0M295.95 83.69h0M271.66 86.51h0M310.52 56.19h0M309.61 56.69h0M291.02 121.59h0M240.25 149.84h0" stroke="#4c4cce" stroke-width="2" stroke-opacity="0.5" stroke-linecap="round" fill="none"/><path d="M322.53 79.93h0M337.33 92.56h0M259.52 28.75h0M330.16 114.55h0M229.56 132.27h0M257.68 152.65h0M333.08 137.2h0M257.14 122.46h0M257.81 121.64h0M261.95 105.72h0M301.38 50.3h0M290.38 18.58h0M289.99 19.5h0M239.16 126h0M275.85 54.28h0M238.59 36.29h0M325.31 36.95h0M304.36 131h0M268.28 111.55h0M261.78 153.64h0M315.28 72.73h0M222.23 134.14h0M261.75 81.52h0M334.17 52.01h0M336.1 53.42h0M326.02 35.02h0M306.15 19.68h0M308.91 112.12h0M249.83 48.21h0M224.96 81.13h0M270.95 65.98h0M284.68 3.89h0M337.21 55.06h0M302.06 120.12h0M303.94 27.18h0M315.88 148.67h0M240.21 115.25h0M316.67 46.1h0M234.19 139.71h0M269.18 37.83h0M301.03 12.84h0M337.43 13.77h0M258.32 91.6h0M283.36 61.06h0M279.6 31.66h0M280.48 38.82h0M227.21 46.52h0M320.02 101.73h0M232.41 80.25h0M326.61 141.57h0M292.35 100.81h0M239.6 91.9h0M313.17 137.01h0M281.12 23.85h0M334.04 80.51h0M272.9 131.21h0M273.49 56.53h0M241.27 115.08h0M310.23 143.18h0M231.53 95.09h0M217 145.6h0M332.41 123.67h0M331.97 122.59h0M302.44 76.73h0M308.35 19.12h0M308.35 20.18h0M234.93 146.29h0M245.02 126.85h0M317.79 30.7h0M315.92 126.04h0M254.11 98.62h0M289.76 106.08h0M336.92 104.49h0M341.89 115.01h0M312.02 64.68h0M260.59 149.4h0M225.49 93.83h0M337.98 121.7h0M237.42 129.64h0" stroke="#4c4cce" stroke-width="2" stroke-opacity="0.6" stroke-linecap="round" fill="none"/><path d="M317.3 98.9h0M302.6 129.03h0M330.43 8.26h0M260.59 30.09h0M284.95 31.34h0M285.33 15.2h0M239.2 87.75h0M238.18 87.94h0M335.1 34.5h0M285.53 90.4h0M315.29 92.91h0M298.05 69.99h0M238.23 94.8h0M236.88 149.46h0M305.23 10.01h0M285.4 54.32h0M336.22 154.89h0M336.25 155.89h0M328.4 143.06h0M288.59 94.68h0M310.24 54.8h0M318.72 67.1h0M331.93 142.89h0M308.09 139.19h0M296.75 11.59h0M326.31 61.19h0M239.71 73.86h0M240.84 72.96h0M283.56 141.3h0M238.2 107.86h0M290.42 42.25h0M219.08 137.07h0M279.25 36.51h0M337.93 129.88h0M338.76 130.97h0M254.15 40.38h0M317.72 17.62h0M318.18 121.85h0M319.35 121.41h0M325.03 125.55h0M331.12 120.66h0M326.98 121.7h0M221.02 115.53h0M208.61 136.75h0M273.94 24.43h0M327.8 107.52h0M295.99 127.48h0M336.37 125.98h0M257.58 114.32h0M320.78 9.97h0M292.48 33.62h0M288.99 31.09h0M324.15 73.21h0M326.75 153.24h0M325.96 43.56h0M284.09 25.33h0M337.36 66.52h0M335.78 66.58h0M247.14 115.75h0M241.67 117.29h0M312.63 70.33h0M270.41 65.41h0M280.29 150.63h0M285.35 54.79h0M289 97.18h0M289.39 97.93h0M285.64 107.11h0M284.73 107.5h0M246.59 121.1h0M334.84 82.9h0M266.08 102.27h0M334.23 4.18h0M244.08 50.98h0M319.07 67.14h0" stroke="#4c4cce" stroke-width="2" stroke-opacity="0.7" stroke-linecap="round" fill="none"/><path d="M233.72 82.02h0M337.44 9.88h0M298.66 103.78h0M324.16 74.72h0M313.86 125.13h0M293.65 80.76h0M280.49 59.97h0M308.35 115.85h0M250.27 136.53h0M322.6 48.5h0M321.59 49.54h0M263.95 44.93h0M326.06 139.03h0M294.34 151.42h0M246.13 35.94h0M254.87 33.52h0M326.72 109.62h0M279.63 104.96h0M321.47 67.51h0M327.37 89.46h0M272.81 35.12h0M222.99 134.06h0M341.31 48.55h0M258.93 2.8h0M257.02 -0.03h0M341.17 114.77h0M317.73 151.93h0M279.12 34.56h0M255.42 108.68h0M249.98 74.58h0M281.81 36.9h0M269.53 20.92h0M307.99 84.01h0M244.19 34.85h0M310.44 27.57h0M239.32 116.78h0M301.47 107.88h0M327.47 32.52h0M326.36 94.08h0M231.3 109.52h0M260.44 139.24h0M261.27 61.26h0M222.24 82.05h0M221.71 81.47h0M308.15 6.14h0M251.11 28.86h0M259.26 56.05h0M233.4 118.52h0M294.14 122.11h0M282.95 35.14h0M341.76 76.19h0M312.29 108.4h0M313.57 107.83h0M292.54 11.87h0M329.89 68.97h0M290.87 145.25h0M318.68 148.44h0M284.98 139.77h0M262.58 65.51h0M252.93 128.31h0M322.02 77.17h0M267.3 92.71h0M265.63 92.64h0M285.49 136h0M335.69 63.78h0M314.21 152.75h0M226.18 40.45h0" stroke="#4c4cce" stroke-width="2" stroke-opacity="0.8" stroke-linecap="round" fill="none"/><path d="M322.96 20.06h0M324.15 18.78h0M273.17 61.68h0M296.27 44.45h0M319.28 115.58h0M303.51 106.01h0M270.89 139.83h0M246.55 136.87h0M325.24 69.52h0M249 34.71h0M339.78 135.6h0M235.71 151.9h0M231.01 115.1h0M341.12 75.81h0M203.78 130.6h0M262.46 99.24h0M226.46 136.7h0M260.76 8.34h0M280.63 48.81h0M280.18 47.31h0M242.29 48.28h0M321.14 125.22h0M324.69 124.92h0M330.98 81.71h0M245.66 58.59h0M322.41 19.45h0M302.01 79.82h0M339.41 123.56h0M270.8 3.7h0M298.16 107.33h0M308.8 91.27h0M336.54 12.48h0M338.85 83.95h0M241.71 33.21h0M265.99 78.39h0M253.31 40.72h0M306.45 120.82h0M302.86 128.81h0M281.68 37.33h0M241.33 91.92h0M271.35 126.69h0M272.02 70.66h0M272.47 70.6h0M249.9 98.35h0M205.91 146.7h0M224.2 88.7h0" stroke="#4c4cce" stroke-width="2" stroke-opacity="0.9" stroke-linecap="round" fill="none"/><path d="M219.04 36.99h0M207.04 107.16h0M221.01 132.09h0M225.34 122.44h0M211.08 110.12h0M208.12 114.48h0M215.72 140.01h0M213.08 110.25h0M242.36 34.22h0M225.68 106.94h0M216.22 122.88h0M237.5 19.46h0M190.62 82.14h0M228.28 115.17h0M243.34 9.51h0M209.07 59.89h0M203.13 97.83h0M230.4 72.14h0M194.35 28.6h0M209.74 105.7h0M228.32 55.01h0M192.43 136.13h0M241.75 38.4h0M228.21 101.68h0M221.66 150.56h0M223.33 7.3h0M233.39 16.27h0M199.98 129.88h0M222.9 87.06h0M204.37 117.42h0M233.5 25.75h0M237.68 60.75h0M228.12 100.7h0M238.55 49.55h0M245.31 20.69h0M251.58 8.77h0M194.36 143.22h0M228.56 65.78h0M210.82 49.23h0M230.01 25.94h0M208.29 119.38h0M230.59 67.6h0M209.97 151.32h0M225.64 71.94h0M217.96 130.73h0M240.66 7.94h0M223.42 110.97h0M226.4 102.15h0M232.19 26.25h0M245.26 19.31h0M218.7 17.4h0M218.07 7.41h0M244.19 24.76h0M227.1 43.14h0M231.61 60.54h0M240.64 63.58h0M218.58 57.77h0M202.61 137.54h0M199.9 120.81h0M227.14 41.69h0M211.06 11.64h0M231.91 58.08h0M197.47 140.12h0M237.66 44.08h0M221.12 60.89h0M211.07 81.58h0" stroke="#4c4cce" stroke-width="2.5" stroke-opacity="0.1" stroke-linecap="round" fill="none"/><path d="M331.36 124.07h0M326.35 22.23h0M254.03 100.65h0M327.2 155.12h0M294.55 45.05h0M319.67 64.32h0M331.25 69.89h0M309.33 85.46h0M322.38 147.16h0M286.16 85.13h0M287.16 1.78h0M312.18 123.73h0M228.78 153.25h0M309.87 114.31h0M280.81 13.3h0M301.32 47.48h0M240.08 101.85h0M294.45 74.95h0M273.45 134.29h0M253.78 9.13h0M258.66 128.48h0M301.76 66.34h0M323.08 132.64h0M331.5 83.16h0M250.41 107.02h0M327.37 33.99h0M322.38 93.34h0M256.98 126.72h0M337.48 31.47h0M262.91 13.33h0M248.03 99.8h0M267.82 76.58h0M326.98 4.53h0M268.59 123.18h0M248.96 42.62h0M259.7 154.02h0M321.68 41.49h0M280.2 57.52h0M239.62 107.93h0M274.8 21.12h0M236.54 148.69h0M303.62 41.09h0M289.16 132.76h0M255.9 111.92h0M303.06 43.33h0M292.57 79.88h0M299.4 131.37h0M313.12 97.52h0M338.46 72.33h0M328.45 79.44h0M298.22 18.26h0M308.32 139.54h0M276.75 67.25h0M297.33 96.41h0M331.14 111.03h0M312.83 45.62h0M284.94 111.46h0M266.83 51.16h0M237.72 136.52h0M325.55 52.14h0M322.07 148.75h0M339.48 21.82h0M297.31 60.9h0M285.77 89.46h0M246.74 92.82h0M330.08 81.23h0M267.83 8.83h0M311.03 56.91h0M277.64 76.83h0M327.32 146.97h0M269.57 27.44h0M318.69 110.25h0M261.84 142.73h0M259.98 59.13h0M336.18 144.22h0M303.61 19.47h0M301.2 45.48h0M259.32 84.48h0M234.89 99.55h0M240.95 119.88h0M297 137.64h0M298.49 131.67h0M254.93 109.53h0M243.73 119.12h0M280.78 150.78h0M322.9 52.67h0M229.8 138.41h0M297.07 110.67h0M277.25 41.26h0M247.83 82.65h0M265.18 56.58h0M328.84 4.14h0M313.62 97.6h0M270.9 78.4h0M245.57 130.93h0M274.98 48.12h0M285.9 55.8h0M230.34 148.72h0M272.11 147.02h0M270.89 77.04h0M290.07 18.51h0M276.82 124.66h0M284.71 49.49h0M261.64 102.31h0M256.81 21.5h0M236.74 94.36h0M281.56 49.52h0M255.03 35.79h0M269.17 151.51h0M339.35 4.19h0M250.47 154.26h0M250.43 120.72h0M333.49 134.96h0M329.67 5.21h0M292.41 39.4h0M300.91 138.69h0M337.51 114.77h0M334.16 29.65h0M272.79 71.27h0M240.25 81.98h0M313.42 31.22h0M276.21 121.8h0M251.98 102.93h0M333.79 46.64h0M316.28 152.8h0M235.06 137.69h0M272.59 103.96h0M328.4 102.9h0M324.57 72.59h0M300.05 117.33h0M293.78 6.82h0M277.67 80.57h0M292.72 3.56h0M258.41 113.84h0M268.72 124.63h0M303.91 38.73h0M249.49 65.59h0M246.67 72.38h0M334.69 16.02h0M313.72 16.29h0M310.65 10.69h0M299.39 58.2h0M320.73 43.47h0M308.64 15.32h0M282.67 72.78h0M292.43 129.71h0M333.99 75.28h0M296.22 54.03h0M231.99 150.06h0M286.48 45.8h0M329.7 39.32h0M288.47 118.79h0M283.91 39.49h0M341.9 24.53h0M272.81 116.04h0M278.72 109.41h0M324.81 123.7h0M324.51 13.36h0M305.74 5.61h0M302.23 3.43h0M241.46 96.45h0M335.94 35.65h0M304.3 147.73h0M312.91 61.27h0M329.95 148.03h0M271.51 14.71h0M285.77 101.91h0M291.51 103.57h0M234.09 143.07h0M334.34 61.26h0M339.77 17.45h0M262.18 29.49h0M244.87 88.11h0M254.94 134.49h0M272.5 78.63h0M292.06 71.53h0M252.96 48.21h0M328.36 18.87h0M316.58 60.93h0M257.93 97.95h0M305.14 50.38h0M310.8 97.61h0M329.17 33.73h0M260.95 28h0M249.35 58.96h0M320.84 88.41h0M312.41 4.34h0M303.18 22.36h0M255.57 65.04h0M248.75 150.78h0M322.7 126.61h0M299.97 61.77h0M262.35 67.79h0M256.64 67.25h0M278.24 89.79h0M270.79 18.22h0M307.59 78.42h0M288.6 51.12h0M260.67 23.57h0M329.55 89.47h0M231.86 113.19h0M238.44 123.56h0M299.05 52.54h0M261.54 19.94h0M318.17 61.61h0M315.11 32.15h0M266.42 51.39h0M275.92 125.46h0M274.49 147.51h0M278.86 80.55h0M257.25 61.45h0M276.35 82.68h0M331.26 117.9h0M270.48 129.57h0M285.86 13.02h0M257.53 127.15h0M292.02 92.96h0M328.59 95.28h0M237.17 145.87h0M338.1 58.37h0M284.85 9.18h0M248.46 69.23h0M277.05 109.26h0M254.41 86.8h0M254.54 113.43h0M301.81 2.98h0M299.17 18.13h0M265.96 42.39h0M238.55 155.14h0M342.29 82.2h0M300.54 31.44h0M341.23 116.14h0M256.57 112.98h0M308.2 84.85h0M329.28 108.23h0M229.37 130.96h0M326.93 142.48h0M281.75 15.4h0M332.34 49.54h0M293.64 115.09h0M251.42 104.09h0M319.86 152.34h0M268.36 151.92h0M257.15 52.38h0M312.47 143.47h0M275.18 71.73h0M314.46 73.21h0M332.66 140.6h0M261.88 122.6h0M258.2 58.11h0M341.68 148.13h0M305.18 42.42h0M307.75 100.34h0M277.48 44.26h0M251.18 155.66h0M273.93 36.33h0M297.82 36.96h0M292.15 98.42h0M259.19 154.08h0M327.56 41.29h0M329.23 28.95h0M247.89 55.66h0M243.23 129.4h0M236.7 148.35h0M297.74 16.55h0M273.21 108.36h0M332.64 22.16h0M307.83 90.66h0M286.82 58.23h0M303.35 76.19h0M306.75 94.4h0M267.48 73.97h0M329.33 37.01h0M256.4 109.63h0M306.77 142.42h0M280.8 40.28h0M293.27 3.49h0M267.23 108.36h0M338.14 72.21h0M258.97 44.45h0M340.79 4.77h0M249.37 120.67h0M295.26 149.86h0M242.24 128.72h0M333.6 18.86h0M273.17 59.5h0M260.02 47.05h0M258.95 115.72h0M292.32 82.05h0M340.93 23.36h0M334.66 7.19h0M328.17 43.82h0M247.93 102.89h0M322.17 150.22h0M259.11 18.32h0M239.07 80.27h0" stroke="#4c4cce" stroke-width="2.5" stroke-opacity="0.2" stroke-linecap="round" fill="none"/><path d="M289.1 47.36h0M289.54 145.52h0M313.55 126.62h0M284.24 100.56h0M305.15 43.32h0M271.34 42.45h0M239.29 135.35h0M308.58 76.44h0M266.93 20.37h0M251.63 33.1h0M289.12 80.43h0M304.66 110.93h0M337.42 19.78h0M325.61 152.6h0M223.1 127.77h0M266.36 147.78h0" stroke="#4c4cce" stroke-width="2.5" stroke-opacity="0.5" stroke-linecap="round" fill="none"/><path d="M301.94 99.23h0M298.54 138.65h0M221.51 131.62h0M320.03 86.37h0M331.16 50.51h0M266.05 63.96h0M231.45 51.99h0M247.77 98.06h0M326.28 124.43h0M239.64 79.61h0M263.65 31.63h0M302.15 121.14h0M239.98 114.06h0M238.92 113.14h0M250.34 129.33h0M340.41 120.24h0M338.91 119.04h0M339.2 119.26h0M285.72 150.83h0M253.35 75.42h0M330.07 79.01h0M305.08 65.94h0M338.21 34.31h0M254.25 65.69h0M233.56 145.82h0M274.68 36.74h0M317.33 29.57h0M316.53 28.95h0M314.36 126.89h0M252 104.26h0M241.54 87.36h0M313.53 68.08h0M313.04 73.55h0M299.68 66.52h0M254.68 133.4h0M337.33 109.63h0" stroke="#4c4cce" stroke-width="2.5" stroke-opacity="0.6" stroke-linecap="round" fill="none"/><path d="M318.11 17.56h0M320.33 48.96h0M253.88 147.62h0M238.18 92.6h0M242.97 110.01h0M257.88 123h0M299.58 36.6h0M331.09 18.09h0M218.17 133.22h0M287.44 21.37h0M289.02 73.06h0M280.14 35.55h0M281.18 34.5h0M266.2 148.16h0M322.81 115.71h0M268.5 153.33h0M266.39 25.99h0M291.35 49.93h0M280.83 46.12h0M272.65 24.24h0M273.21 25.44h0M287.69 112.54h0M261.2 54.33h0M313.23 152.27h0M306.89 57.49h0M314.53 104.89h0M253.86 37.29h0M229.95 147.78h0M229.74 83.07h0M280.44 19.68h0" stroke="#4c4cce" stroke-width="2.5" stroke-opacity="0.7" stroke-linecap="round" fill="none"/><path d="M308.86 44.33h0M294.13 31.3h0M336.77 59.52h0M292.62 82.3h0M279.62 58.74h0M302.49 113.5h0M250.63 6.74h0M250.38 7.68h0M314.61 58.12h0M326.74 90.91h0M258.32 1.53h0M279.06 36.19h0M282.85 36.66h0M228.13 77.4h0M302.41 108.17h0M240.27 102.91h0M310.72 16.52h0M294.35 150.75h0M324.05 36.25h0M238.75 75.59h0M263.85 106.18h0M291.87 144.26h0M251.75 88.69h0M304.34 48.45h0M305.39 13.79h0M281.68 107.8h0M290.21 51.91h0M227.4 131.02h0" stroke="#4c4cce" stroke-width="2.5" stroke-opacity="0.8" stroke-linecap="round" fill="none"/><path d="M322.73 18.67h0M272.53 60.38h0M271.49 59.1h0M326.4 72h0M285.67 120.57h0M278.51 148.18h0M327.02 25.22h0M244.47 52.87h0M269.09 84.23h0M276.14 142.86h0M279.58 48.62h0M268.19 129.95h0M311.15 101.4h0M323.59 20.55h0M247.32 117.55h0M291.24 33.13h0M228.76 102.89h0M274.73 152.23h0M291.24 91.53h0M253.05 107.85h0M271.7 69.71h0" stroke="#4c4cce" stroke-width="2.5" stroke-opacity="0.9" stroke-linecap="round" fill="none"/><path d="M250.01 17.33h0M231.99 31.8h0M198.38 84.34h0M243.96 22.56h0M232.57 94.45h0M210.82 149.27h0M212.04 144.34h0M221.97 130.48h0M221.25 151.12h0M206.26 22.51h0M221.79 93.89h0M235.61 29.28h0M242.32 45.07h0M234.29 14.73h0M227.16 129.29h0M207.89 130.64h0M216.82 38.58h0M196.36 110h0M206.22 23.36h0M224.94 44.89h0M192.36 129.92h0M221.59 45.53h0M239.71 21.47h0M241.8 47.1h0M222.82 150.84h0M236.63 55.09h0M247.43 25.12h0M207.79 110.15h0M214.02 45.19h0M208.17 83.75h0M232.31 91.95h0M228.38 87.76h0M239.14 46.64h0M244.39 44.27h0M225 128.07h0M209.53 78.06h0M201.9 125.61h0M223.4 140.7h0M221.33 93.54h0M227.11 94.22h0M219.11 124.87h0M234.13 41.34h0M205.11 49.13h0M212.65 107.52h0" stroke="#4c4cce" stroke-width="3" stroke-opacity="0.1" stroke-linecap="round" fill="none"/><path d="M280.65 81.06h0M314.06 71.16h0M339.54 91.97h0M273.24 69.18h0M242.13 96.75h0M311.8 135.59h0M240.96 75.34h0M327.93 41.61h0M341.95 86.83h0M258.65 150.44h0M326.32 32.43h0M232.77 144.4h0M300.15 46.78h0M254.97 48.16h0M318.48 5.04h0M302.43 20.74h0M294.74 9.61h0M264.63 19.47h0M237.71 107.14h0M295.98 103.71h0M293.36 77.23h0M283.92 148.6h0M273.16 59.15h0M272.52 43.08h0M327.26 38.8h0M275.11 104.06h0M313.73 96h0M323.21 87.42h0M283.05 32h0M321.1 45.36h0M338.53 33.04h0M341.09 24.32h0M321.85 81.24h0M243.53 84.34h0M302.04 91.13h0M257.46 104.26h0M329.31 74.38h0M303.09 17.09h0M290.25 2.34h0M291.81 8.48h0M299.15 94.71h0M294.63 52.43h0M328.78 142.41h0M289.5 136.61h0M279.24 106.22h0M244.05 97.88h0M284.17 94.19h0M325.32 47.76h0M314.8 131.28h0M329.69 46.16h0M255.35 98.61h0M266.97 77.6h0M315.82 152.74h0M234.8 104.78h0M247.68 119.44h0M229.34 131.69h0M324.33 125.22h0M310.24 132.48h0M304.93 21.09h0M295.25 104.32h0M247.44 103.21h0M311.5 4.22h0M323.51 6.76h0M268.78 124.52h0M281.67 96.87h0M307.19 60.86h0M292.29 139.68h0M340.38 142.15h0M326.68 62.21h0M237.65 100.53h0M316.32 11.5h0M335.93 68.01h0M293 12h0M339.55 116.22h0M327.77 119.7h0M294.83 63.32h0M286.48 61.7h0M291.3 90.4h0M237.09 150.13h0M284.19 128.86h0M283.51 145.95h0M272.91 21.34h0M235.36 118.91h0M256.87 90.9h0M304.06 9.99h0M265.04 12.08h0M286.06 138.07h0M256.06 1.45h0M256.1 136.34h0M322.49 123.22h0M267.49 49.3h0M275.08 151.33h0M339 91.38h0M308.17 45.98h0M270.53 108.74h0M271.44 67.28h0M297.67 112.81h0M261.96 3.17h0M318.76 91.46h0M335.56 1.99h0M257.42 151.68h0M256.78 90.92h0M248.57 119.68h0M282.28 70.5h0M328.4 30.01h0M247.81 154.63h0M305.73 26.9h0M315.27 83.11h0M280.64 94.76h0M341.16 79.92h0M239.58 89.42h0M257.58 36.26h0M275.47 69.71h0M334.32 6.07h0M267.52 143.35h0M294.13 20.57h0M292.64 98.59h0M270.7 44.96h0M309.51 4.42h0M253.01 61.51h0M287.86 143.54h0M256.35 31.47h0M261.45 103.82h0M268.2 6.3h0M321.74 150.64h0M285.74 102.14h0M341.85 11.59h0M327.33 66.07h0M238.31 127.69h0M293.1 19.02h0M271.63 17.14h0M240.48 138.49h0M250.81 58.07h0M301.1 149.38h0M304.69 41.78h0M331.74 4.76h0M242.46 95.01h0M331.51 89.28h0M312 18.72h0M306.7 74.01h0M287.62 36.32h0M292.62 51.64h0M302.18 107.74h0M304.93 5.2h0M254.9 89.55h0M269.17 128.32h0M340.87 21.84h0M250.07 121.67h0M248.18 74.85h0M274.37 116.88h0M247.1 108.01h0M317.56 22.27h0M314.7 123.92h0M268.03 149.04h0M332.88 13.36h0M277.91 63.59h0M322.01 119.9h0M279.8 73.47h0M333.87 64.53h0M333.37 29.26h0M258.8 27.56h0M260.83 119.05h0M248.61 148.39h0M287.98 86.88h0M310.12 103.26h0M309.03 53.19h0M298 63.79h0M321.03 129.32h0M285.78 23.4h0M284.28 92.56h0M248.4 107.53h0M296.83 12.44h0M338.94 112.48h0M271.51 130.42h0M235.46 146.44h0M280.8 99.57h0M279.84 5.99h0M294.32 91.17h0M276.57 145.3h0M306.89 2.48h0M256.84 27.59h0M267.44 87.33h0M252.25 98.45h0M296.05 44.57h0M226.12 139.81h0M316.47 57.86h0M270.79 115.87h0M246.22 122.58h0M309.93 45.45h0M283.55 81.36h0M304.91 106.85h0M260.48 100.63h0M250.58 92.67h0M258.26 132.3h0M334.16 65.18h0M293.67 95.77h0M319.54 99.59h0M329.86 15.61h0M340.63 61.33h0M330.22 88.85h0M283.03 38.87h0M328.27 7.07h0M333.08 103.49h0M259.35 148.37h0M333.1 73.05h0M259 101.51h0M318.88 82.26h0M315.99 135.47h0M289.99 46.1h0M303.26 44.77h0M257.25 125.47h0M295.26 80.82h0M289.02 131.56h0M321.74 43.59h0M240.45 107.75h0M281.71 56.96h0M310.46 30.88h0M290 146.03h0M285.19 108.03h0M245.82 88.36h0M273.69 86.9h0M290.26 65.11h0M251.39 102.98h0M287.67 87.92h0M269.05 131.24h0M270.37 128.58h0M328.47 74.89h0M292.78 36.97h0M298.71 46.04h0M310.9 129.17h0M274.55 60.12h0M306.31 42.27h0M285.44 68.89h0M250.56 136.09h0M274.24 86.3h0M326.81 4.53h0M304.5 108.71h0M339.96 100.72h0M324.96 82.68h0M254.98 29.63h0M339.4 57.6h0M311.18 127.21h0M329.81 58.54h0M257.64 81.84h0M328.33 11.01h0M260.55 66.37h0M269.43 152.75h0M300.93 65.67h0M316.26 132.45h0M269.88 50.9h0M314.28 112.66h0M297.52 51.51h0M301.77 141.18h0M269.36 114.73h0M259.94 139.46h0M249.3 31.96h0M282.79 27.31h0M270.22 77.14h0M279.11 102.11h0M294.33 129.1h0M286 134.7h0M306.37 86.74h0M340.61 63.94h0M328.55 70.9h0M337.81 150.32h0M309.35 98.26h0M246.77 117.01h0M300.5 49.49h0M296.08 22.68h0M302.28 121.68h0M244.61 114.05h0M338.3 21.54h0M238.23 116.92h0M269.45 138.92h0M309.89 114.58h0M269.58 142.85h0M263.44 87.74h0M298.57 101.79h0M264.69 60.53h0M293.04 100.39h0M338.62 4.12h0M271.51 24.5h0M324.51 113.68h0M275.58 106.02h0M305.71 82.13h0M292.76 62.39h0M298.6 69.42h0M268.53 152.91h0M243.6 145.97h0M272.63 66.56h0M340.13 16.16h0M332.76 29.03h0M260.87 60.21h0M324.92 97.42h0M326.72 74.09h0M251.62 83.46h0M238.82 99.39h0M317.68 45.4h0M258.32 146.1h0M233.04 132.19h0M313.13 53.27h0" stroke="#4c4cce" stroke-width="3" stroke-opacity="0.2" stroke-linecap="round" fill="none"/><path d="M304.37 18.01h0M313.67 128.28h0M312.44 127.6h0M293.38 104.12h0M285.51 59.14h0M256.41 83.61h0M338.52 132.36h0M274.41 110.39h0" stroke="#4c4cce" stroke-width="3" stroke-opacity="0.5" stroke-linecap="round" fill="none"/><path d="M319.8 24.32h0M254.44 61.91h0M248.21 151.05h0M249.27 98.59h0M250.03 97.59h0M330.95 131.06h0M227.27 53.39h0M281.77 61.6h0M323.04 75.56h0M330.95 93.87h0M258.59 142.98h0M235.35 50.82h0" stroke="#4c4cce" stroke-width="3" stroke-opacity="0.6" stroke-linecap="round" fill="none"/><path d="M236.7 93.85h0M250.68 154.9h0M310.73 153.06h0M320.13 3.49h0M291.45 103.86h0M290.84 104.75h0M218.12 136.34h0M305 142.06h0M314.3 85.85h0M334.04 30.81h0M293.36 55.59h0M236.2 86.9h0M256.18 86.84h0" stroke="#4c4cce" stroke-width="3" stroke-opacity="0.7" stroke-linecap="round" fill="none"/><path d="M229.4 141.08h0M242.92 119.67h0M265.33 108.21h0M273.91 116.85h0M338.72 23.05h0M334.2 78.01h0M277.88 120.08h0M339.82 102.15h0M306.87 53.89h0M336.64 48.88h0" stroke="#4c4cce" stroke-width="3" stroke-opacity="0.8" stroke-linecap="round" fill="none"/><path d="M269.85 139.14h0M326.79 68.46h0M279.78 144.22h0M323.06 125.9h0M257.31 101.98h0M255.7 102.37h0M258.28 104.12h0" stroke="#4c4cce" stroke-width="3" stroke-opacity="0.9" stroke-linecap="round" fill="none"/><path d="M230.03 30.79h0M208.71 43.76h0M227.36 84.75h0M242.74 18.06h0M223.25 126.21h0M208.7 30.65h0M199.65 77.61h0M221.36 44.79h0M233.02 80h0M206.28 139.11h0M215.35 59.04h0M207.98 42.34h0M210.99 121.46h0M245.07 21.21h0M236.03 9.07h0M225.81 92.6h0M203.92 75.13h0M235.82 25.48h0M199.94 148.71h0M218.7 53.38h0M205.15 102.09h0M217.05 149.17h0M212.56 41.11h0M226.81 101.43h0M220.46 72.02h0M238.96 50.94h0M198.94 55.63h0M195.23 123.19h0M237.12 72.78h0M240.69 36.87h0M231.5 38.67h0M220.77 135.17h0M230.57 72.16h0M224.19 123.13h0M226.45 51.96h0M209.62 40.14h0M209.39 52.86h0M231.68 107.85h0M213.01 128.65h0M227.22 100.55h0M224.49 136.01h0M246.64 29.35h0M232.23 107.78h0M205.55 43.55h0M199.87 105.71h0M203.42 121.05h0M213.92 131.98h0M232.16 33.51h0M229.61 17.56h0M238.99 3.23h0M214.82 33.1h0M241.28 6.74h0M220.6 142.53h0M202.56 139.24h0M195.19 98h0M216.29 27.1h0M199.28 153.34h0M218.93 150.42h0M235.1 70.25h0" stroke="#4c4cce" stroke-width="3.5" stroke-opacity="0.1" stroke-linecap="round" fill="none"/><path d="M264.79 74.78h0M334.48 143.13h0M283.82 63.09h0M244.57 121.35h0M266.67 47.46h0M290.17 86.26h0M291.34 23.63h0M272.52 55.13h0M262.36 89.28h0M321.91 150.53h0M291.81 110.15h0M260.07 106.89h0M278.54 123.23h0M236.56 88.49h0M317.53 126.28h0M259.67 81.73h0M312.26 13.14h0M272.01 46.71h0M284.48 152.78h0M342.31 23.32h0M328.94 90.17h0M328.11 149.33h0M264.56 148.84h0M281.32 39.12h0M232.37 150.6h0M267.75 12.22h0M286.16 105.25h0M304.56 148.89h0M302.87 148h0M296.8 93.62h0M264.29 87.96h0M324.08 51.83h0M244.92 136.39h0M257.9 77.02h0M319.53 100.31h0M264.81 131.28h0M266.76 146.06h0M252.26 66.67h0M298.14 122.23h0M271.34 9.78h0M281.96 108.67h0M312.89 50.82h0M256.83 112.83h0M337.47 12.68h0M245.23 98.75h0M237.74 141.3h0M265.24 87.59h0M332.79 30.03h0M263.13 68.34h0M277.81 8.27h0M261.43 12.39h0M311.28 123.91h0M243.81 97.36h0M245.46 116.47h0M325.05 114.1h0M277.01 90.91h0M273.31 57.84h0M305.41 28.85h0M293.31 28.91h0M282.56 104.27h0M325.5 71.98h0M247.07 82.68h0M262.22 127.88h0M283.08 146.13h0M316.67 122.62h0M336.56 105.58h0M261.06 130.3h0M314.25 124.64h0M336.98 144.3h0M243.4 65.22h0M270.38 27.63h0M276.54 40.96h0M321.63 117.07h0M261.33 28.57h0M291.43 49.63h0M338.65 138.9h0M326.29 105.98h0M323.94 121.42h0M241.46 87.52h0M318.15 33.98h0M325.19 29.7h0M279.78 137.65h0M333.36 124.24h0M305.27 150.9h0M334.17 17.77h0M261.73 22.14h0M287.83 120.92h0M293.73 92.96h0M275.46 112.5h0M278.44 137.69h0M295.54 97.67h0M319.79 37.94h0M300.63 57.25h0M238.32 127.38h0M319.46 32.08h0M312.71 128.05h0M254.84 151.01h0M270.64 120.78h0M275.76 25.9h0M303.19 98.32h0M248.07 121.09h0M277.34 10.65h0M323.86 129.7h0M267 117.95h0M281.97 97.61h0M260.93 138.42h0M278.3 5.14h0M280.14 87.31h0M251.61 141.85h0M284 12.51h0M333.33 106.63h0M282.52 150.41h0M274.58 130.32h0M300.6 46.04h0M326.83 11.62h0M304.73 103.42h0M323.37 67.14h0M342.23 87.94h0M337.58 62.51h0M253.8 76.2h0M277.74 91.5h0M312.78 34.02h0M321.35 26.45h0M288.21 105.75h0M250.94 42.95h0M266.3 98.37h0M300.54 112.73h0M252.13 77.1h0M301.49 108.23h0M252.44 27.71h0M271.76 25.57h0M274.62 35.44h0M262.66 58.77h0M299.18 3.66h0M306.68 33.93h0M294.37 74.71h0M242.78 110.57h0M294.54 47.28h0M319.49 77.2h0M328.28 56.57h0M319.39 140.48h0M266.48 68.39h0M276.76 139.89h0M274.24 142.65h0M285.47 21.52h0M255.05 27.84h0M280.87 76.06h0M281.78 101.37h0M288.31 63.11h0M319.56 71.35h0M288.89 26.1h0M297.99 33.84h0M288.6 23.01h0M319.18 132.53h0M313.48 31.69h0M330.61 99.95h0M302.75 23.28h0M328.64 69.85h0M297.69 82.93h0M232.83 118.76h0M319.99 66.61h0M303.2 17.48h0M287.85 63.93h0M316.78 38.36h0M261.02 42.07h0M240.2 115.4h0M305.79 148.86h0M341.7 93.31h0M288.03 148.71h0M232.59 130.1h0M328.89 77.49h0M265.84 41.15h0M248.46 32.54h0M273.08 124.77h0M300.2 66.05h0M294.04 134.79h0M337.39 86.06h0M273.52 15.63h0M328.13 116.79h0M286.34 112.97h0M339.36 112.22h0M255.66 110.32h0M312.13 111.81h0M340.79 23h0M332.59 87.87h0M327.3 127.8h0M301.62 76.76h0M326.53 40.13h0M256.45 99.75h0M278.54 14.87h0M341.85 75.58h0M237.32 92.63h0M287.61 32.32h0M274.93 127.98h0M297.32 16.34h0M259.19 129.95h0M330.11 129.95h0M260.29 25.83h0M275.39 69.26h0M264.32 32.91h0M279.8 81.04h0M288.92 46.87h0M301.56 128.54h0M295.14 34.2h0M327.79 59.15h0M290.93 55.2h0M311.12 143.14h0M319.68 88.36h0M248.98 42.93h0M274.79 108.36h0M288.86 112.82h0M329.5 109.84h0M324.52 95.58h0M339.33 71.3h0M238.58 88.32h0M281.96 144.94h0M256.12 130.27h0M312.21 19.97h0M314.17 65.81h0M285.19 129.11h0M314.9 155.66h0M314.11 145.23h0M249.51 99.81h0M336.93 52.32h0M337.71 99.83h0M240.71 146.43h0M260 104.46h0M341.85 56.26h0M337.01 86.89h0M250.08 98.34h0M294.02 120.91h0M311.36 7.87h0M260.21 39.12h0M302.56 104.89h0M318.42 138.32h0M268.69 11.99h0M326.04 146.6h0M305.93 97.77h0M283.84 150.67h0M321.93 71.96h0M252.79 86.9h0M335.04 32.24h0M325.14 145.1h0M239.4 139.58h0M257.69 79.55h0M253.98 98.46h0M246.71 62.5h0M283.28 2.74h0M339.08 83.39h0M237.36 110.08h0M304.74 101.34h0M333.75 57.46h0M309.64 69.77h0M251.25 40.24h0M274.55 42.99h0M292.57 112.35h0M276.54 74.15h0M281.12 129.47h0M276.3 20.62h0M249.27 88.09h0M293.38 151.3h0M286.22 131.32h0M340.5 27.28h0M294.54 40.13h0M317.21 88.5h0M326.23 45.65h0M257.59 95.83h0M242.02 136.74h0M256.86 95.18h0M324.95 122.88h0M302.17 155.44h0M337.56 107.4h0M228.53 144.68h0M297.78 113.44h0M303.42 110.79h0M242.39 99.19h0M267.25 72.91h0M248.25 97.33h0M276.9 60.54h0M275.26 3.8h0M255.18 39.6h0M283.42 27.27h0M314.2 68.69h0M316.61 38.1h0M315.12 71.47h0M323.61 113.05h0M308.67 79.08h0M292.03 1.69h0M246.81 90.15h0M254.58 100.28h0M236.8 113.12h0M333.56 95.02h0M338.33 126.2h0M259.74 106.37h0M312.85 44.13h0M296.78 69.97h0M318.27 62.11h0" stroke="#4c4cce" stroke-width="3.5" stroke-opacity="0.2" stroke-linecap="round" fill="none"/><path d="M284.95 143.94h0M303.51 71.67h0" stroke="#4c4cce" stroke-width="3.5" stroke-opacity="0.6" stroke-linecap="round" fill="none"/><path d="M264.72 154.69h0M275.68 8.83h0M290.71 106.27h0M307.99 52.83h0" stroke="#4c4cce" stroke-width="3.5" stroke-opacity="0.7" stroke-linecap="round" fill="none"/><path d="M311.97 7.9h0" stroke="#4c4cce" stroke-width="3.5" stroke-opacity="0.8" stroke-linecap="round" fill="none"/><path d="M262.04 46.14h0M277.21 144.79h0" stroke="#4c4cce" stroke-width="3.5" stroke-opacity="0.9" stroke-linecap="round" fill="none"/><path d="M223.82 116.42h0M218.68 43.32h0M221 55.01h0M217.67 109.19h0M209.64 120.85h0M204.11 66.78h0M215.88 58.35h0M240.58 14.96h0M248.55 20.95h0M222.73 80.08h0M196.16 154.39h0M231.98 37.31h0M224.13 92.05h0M227.82 78.7h0M207.93 136.04h0M231.11 93.1h0M199.13 82.5h0M231.88 92.83h0M225.74 133.54h0M219.43 123.19h0M202.88 141.67h0M214.08 111.34h0M242.34 36.98h0M216.41 148.67h0M241.45 38.91h0M231.87 52.88h0M192.66 154.09h0M209.82 109.72h0M233.61 79.75h0M216.11 96.19h0M213.41 92.25h0M221.95 148.12h0M222.81 112.76h0M227.28 41.01h0M218.97 150.86h0M210.24 34.28h0M203.72 149.85h0M212.54 130.83h0M232.02 95.74h0M242.02 33.96h0M221.96 37.28h0M233.94 59.2h0M221.38 56.54h0M241.94 29.61h0M197.83 144.37h0M214.45 90.07h0M217.81 106.33h0M213.06 146.23h0M225.91 53.15h0M233.31 75.67h0M203.19 65.54h0M225.23 108.84h0M233.66 24.77h0M223.61 136.16h0M210.87 3.92h0M208.98 53.6h0M213.79 64.24h0M247.05 13.23h0M239 72.09h0" stroke="#4c4cce" stroke-width="4" stroke-opacity="0.1" stroke-linecap="round" fill="none"/><path d="M266.82 119.13h0M279.12 66.8h0M259.79 150.82h0M295.53 64.33h0M236.22 151.15h0M339.13 60.25h0M333.34 123.3h0M303.16 14.25h0M289.96 156.1h0M326.16 111.77h0M305.13 116.49h0M282.12 116.46h0M241.94 77.34h0M274.45 62.5h0M259.46 80.67h0M311.75 18.87h0M305.32 26.1h0M251.73 150.02h0M291.8 23.94h0M339.3 68.47h0M311.35 94.7h0M303.68 91.59h0M323.33 16.79h0M308.81 94.87h0M251.51 99.81h0M269.29 23.09h0M270.5 110.3h0M255 154.66h0M266.1 39.44h0M247.2 99.81h0M325.02 125.84h0M276.57 139.16h0M329.37 113.45h0M332.61 76.89h0M311.41 75.27h0M309.31 120.18h0M247.02 124.24h0M335.9 25.36h0M294.02 108.93h0M250.2 145.53h0M278.12 30.47h0M246.17 46.47h0M292.72 55.62h0M297 138.41h0M326.4 139.6h0M252.67 95.15h0M276.61 37.79h0M318.8 106.54h0M267.42 108.98h0M273.2 145.27h0M265.51 9.8h0M258.93 54.47h0M335.34 151.94h0M275.46 38.33h0M256.89 60.05h0M284.46 25.66h0M302.62 74.4h0M312.41 127.32h0M235.19 111.13h0M238.95 89.71h0M300.28 5.74h0M309.36 9.84h0M238.8 135.89h0M339.47 48.06h0M256.91 2.75h0M266.69 37.22h0M313.04 79.97h0M255.04 49.76h0M331.1 137.01h0M302.5 105.65h0M329.2 39.54h0M340.49 69.66h0M335.86 62.98h0M314.28 12.75h0M278.46 128.07h0M309.88 111.04h0M274.45 94.49h0M327.24 37.76h0M304.04 19.97h0M317.54 37.74h0M296.15 17.43h0M245.22 138.69h0M322.45 126.48h0M317.96 86.72h0M281.27 53.96h0M306.01 135.18h0M255.08 20.68h0M291.76 59.48h0M306.61 37.55h0M278.95 120.01h0M247.66 153.55h0M252.29 89.68h0M256.97 53.01h0M275.71 60.81h0M291.27 26.75h0M279.98 104.85h0M257.41 126.56h0M294.15 100.09h0M228.98 143.69h0M279.9 128.61h0M242.55 77.96h0M248.41 87.43h0M245.31 138.38h0M268.13 96.35h0M292.86 44.07h0M253.73 147.49h0M333.88 50.56h0M312.22 89.54h0M233.85 129.18h0M302.34 70.85h0M295.73 132.77h0M324.23 46.19h0M262.84 5.98h0M293.62 42.47h0M291.74 147.86h0M322.93 50.62h0M319.18 66.67h0M318.48 39.98h0M337.62 67.48h0M327.04 85.04h0M316.68 51.48h0M277.54 76.88h0M315.32 125.96h0M259.11 23.12h0M281.59 60.5h0M276.51 153.97h0M336.52 27.26h0M253.86 4.02h0M300.07 127.1h0M322.35 74.4h0M282.79 124.4h0M310.94 48.09h0M273.47 27.66h0M266.62 123.84h0M329.54 80.63h0M305.88 152.42h0M316.7 81.72h0M293.91 87.05h0M306.84 5.11h0M323.91 68.51h0M244.76 146.57h0M248.41 116.78h0M311.89 125.18h0M292.86 152.9h0M338.29 54.24h0M302.24 137.9h0M311.32 46.94h0M294.44 103.32h0M253.19 19.09h0M323.84 73.2h0M284.05 62.48h0M225.26 145.51h0M294.03 104.45h0M297.84 66.53h0M256.35 39.21h0M334.01 142.22h0M310.13 34.64h0M261.2 29.4h0M303.47 27.78h0M259.13 139.15h0M277.64 15.05h0M271.4 13.31h0M264.11 32.13h0M261.98 42.97h0M325.07 89.93h0M247.51 126.89h0M256.55 134.75h0M253.72 45.29h0M306.83 38.02h0M336.5 119.35h0M302.54 74.43h0M297.67 24.72h0M314.73 12.57h0M326.39 80.6h0M259.86 144.43h0M283.96 142.03h0M289.91 140.66h0M295.15 93.55h0M249.32 156.05h0M297.17 63.57h0M282.87 17.62h0M315.07 75.04h0M271.99 133.22h0M266.58 102.9h0M249.98 143.93h0M296.85 2.07h0M279.25 107.09h0M266.19 34.73h0M294.18 141.01h0M275.33 12.05h0M256.99 28.58h0M297.14 82.99h0M298.48 116.26h0M236.81 127.37h0M258.14 138.7h0M311.95 82.87h0M287.3 103.61h0M291.5 5h0M232.13 144.72h0M299.26 42.84h0M317.35 137.93h0M299.49 30.22h0M259.75 45.66h0M254.85 97.49h0M251.51 78.61h0M233.26 139.94h0M280.09 16.6h0M284.02 69.66h0M256.85 69.55h0M253.45 146.66h0M251.98 118.57h0M273.1 44.95h0M231.86 152.16h0M282.59 20.52h0M313.36 146.69h0M275.8 36.71h0M310.64 63.65h0M324.13 119.45h0M311.8 145.04h0M227.38 141.17h0M253.22 114.82h0M267.87 53.25h0M275.77 141h0M315.47 131.25h0M275.83 79.84h0M240.98 83.58h0M319.76 132.92h0M292.41 97.02h0M257.96 147.26h0M337.56 87.18h0M255.76 146.03h0M291.25 33.26h0M312.72 109.31h0M294.7 58.64h0M329.29 127.77h0M305.98 6.8h0M303.87 5.67h0M242.69 150.44h0M308.84 45.33h0M295.96 97.14h0M237.17 132.82h0M275.6 79.75h0M288.86 111.58h0M229.52 126.51h0M282.27 110.93h0M326.7 147.83h0M275.89 49.03h0M240.07 138.33h0M290.59 110.48h0M299.44 108.08h0M248.66 91.19h0M269.85 3.77h0M341.02 40.81h0M285.32 81.2h0M329.53 68.49h0M296.07 69.04h0M339.76 93.78h0M269.04 129.14h0M306.15 96.39h0M276.26 66.5h0M315.33 72.6h0M325.67 35.16h0M279.88 129.11h0M308.36 18.87h0M232.73 117.2h0M280.38 117.29h0M290.45 111.87h0M241.62 83.5h0M250.73 150.71h0M285.51 48.17h0M269.89 111.49h0M281.24 51.6h0" stroke="#4c4cce" stroke-width="4" stroke-opacity="0.2" stroke-linecap="round" fill="none"/><path d="M336.09 89.91h0" stroke="#4c4cce" stroke-width="4" stroke-opacity="0.5" stroke-linecap="round" fill="none"/><path d="M228.61 74.69h0M263.2 102.12h0" stroke="#4c4cce" stroke-width="4" stroke-opacity="0.6" stroke-linecap="round" fill="none"/><path d="M326.62 131.64h0M242.69 121.08h0" stroke="#4c4cce" stroke-width="4" stroke-opacity="0.7" stroke-linecap="round" fill="none"/><path d="M265.36 110.44h0M324.2 38.3h0" stroke="#4c4cce" stroke-width="4" stroke-opacity="0.8" stroke-linecap="round" fill="none"/><path d="M296.3 16.03h0" stroke="#4c4cce" stroke-width="4" stroke-opacity="0.9" stroke-linecap="round" fill="none"/><path d="M304.32 135.32h0M265.09 102.2h0M264.39 99.03h0" stroke="#4c4cce" stroke-width="4.5" stroke-opacity="0.6" stroke-linecap="round" fill="none"/><path d="M295.91 12.78h0" stroke="#4c4cce" stroke-width="4.5" stroke-opacity="0.7" stroke-linecap="round" fill="none"/><path d="M274.16 58.84h0" stroke="#4c4cce" stroke-width="4.5" stroke-opacity="0.8" stroke-linecap="round" fill="none"/><path d="M253.53 58.03h0" stroke="#4c4cce" stroke-width="5" stroke-opacity="0.8" stroke-linecap="round" fill="none"/><path d="M287.46 45.89h0" stroke="#4c4cce" stroke-width="5.5" stroke-opacity="0.6" stroke-linecap="round" fill="none"/></g><defs><linearGradient id="mg12" x1="0" y1="0" x2="1" y2="0.3"><stop offset="0" stop-color="#e4e4f7"/><stop offset="0.45" stop-color="#d6d6f2"/><stop offset="1" stop-color="#cdcdf0"/></linearGradient><clipPath id="cp12"><rect x="529.4" y="1.3" width="155" height="154.9"/></clipPath><filter id="bl12" x="-50%" y="-50%" width="200%" height="200%"><feGaussianBlur stdDeviation="9"/></filter></defs><rect x="529.4" y="1.3" width="155" height="154.9" fill="url(#mg12)"/><g clip-path="url(#cp12)"><ellipse cx="535.4" cy="109.3" rx="24" ry="74" fill="#fafaff" opacity="0.85" filter="url(#bl12)"/></g><g filter="url(#sb2)"><path d="M598.32 49.67h0" stroke="#4c4cce" stroke-width="0.5" stroke-opacity="0.8" stroke-linecap="round" fill="none"/><path d="M615.76 130.03h0M654.69 38.79h0M673.94 44.73h0M602.76 86.38h0M626.59 126.78h0M620.63 79.82h0M595.09 71.81h0M624.91 56.87h0M656.13 111.54h0M615.67 46.18h0M666.07 103.45h0M621.9 99.65h0M653.1 51.81h0M629.43 31.48h0M629.89 31.16h0M601 72.95h0M640.73 95.57h0M640.46 95.86h0" stroke="#4c4cce" stroke-width="1" stroke-opacity="0.4" stroke-linecap="round" fill="none"/><path d="M648.24 20.16h0M646.15 20.26h0M578.62 7.11h0M603.04 77.41h0M602.49 76.99h0M604.63 34.04h0M583.4 93.97h0M582.22 94.9h0M619.03 105.18h0M618.04 13.45h0M618.52 13.8h0M675.99 15.43h0M679.02 106.92h0M650.16 75.95h0M650.19 76.24h0M665 53h0M599.03 39.36h0M576.33 113.25h0M645.35 130.02h0M579.61 123.69h0" stroke="#4c4cce" stroke-width="1" stroke-opacity="0.5" stroke-linecap="round" fill="none"/><path d="M581.94 43.17h0M597.61 97.19h0M630.57 57.08h0M586.09 83.07h0M665.13 59.71h0M676.3 98.18h0M599.67 128.9h0M632.46 87.2h0M653.28 79.99h0M620.29 89.81h0M587.41 38.39h0M684.11 108.47h0M684.19 109.07h0M660.62 67.95h0M660.86 68.39h0M660.87 67.17h0M589.1 59.93h0M589.75 59.05h0M607.11 111.6h0M606.33 111.25h0M607.74 111.93h0M610.23 4.93h0M594.1 39.38h0M593.75 38.53h0M667.04 8.29h0M639.23 94.27h0M668.15 56.48h0M637.67 131.43h0M655.86 155.77h0M606.31 150.02h0M606 149.49h0M605.98 150.66h0M673.14 25.48h0M631 120.86h0M631.83 121.47h0M671.34 75.75h0M595.16 23.13h0M665.42 134.54h0" stroke="#4c4cce" stroke-width="1" stroke-opacity="0.6" stroke-linecap="round" fill="none"/><path d="M619.66 82.74h0M586.85 75.32h0M593.42 155.2h0M594.35 154.52h0M617.83 149.27h0M645.62 0.42h0M605.52 117.16h0M604.35 117.2h0M577.06 121.57h0M577.7 121.31h0M674.43 93.84h0M589.89 27.93h0M589.02 27.18h0M663.85 111.33h0M651.62 108.5h0M651.79 108.73h0M628.83 128.48h0M628.74 127.78h0M629.59 128.82h0M604.76 127.37h0M683.29 70.32h0M606.12 128.88h0M605.63 129.02h0M606.3 128.23h0M673.12 37.43h0M684.4 117.05h0M650.75 22.12h0M618.4 29.31h0M583.16 86.93h0M681.97 113.83h0M635 99.15h0M634.41 99.44h0M619.11 36.01h0M589.95 4.23h0M635.81 20.34h0M634.9 20.72h0M673.34 131.08h0M673.77 154.1h0M606.73 90.35h0" stroke="#4c4cce" stroke-width="1" stroke-opacity="0.7" stroke-linecap="round" fill="none"/><path d="M613.54 105.8h0M678.16 2.73h0M648.01 112.18h0M579.43 55.37h0M579.14 54.86h0M638.15 79.76h0M624.99 124.95h0M597.93 49.23h0M597.91 48.49h0M668.67 93.49h0M655.72 8.2h0M651.29 95.3h0M667.6 86.82h0M660.53 106.94h0M681.28 50.13h0M642.81 106.15h0M677.47 39.22h0M585.06 88.37h0M652.36 116.52h0M651.35 10.52h0M601.65 108.08h0" stroke="#4c4cce" stroke-width="1" stroke-opacity="0.8" stroke-linecap="round" fill="none"/><path d="M615.74 128.85h0M662.82 106.74h0M593.66 96.28h0M616.26 13.13h0M602.63 75.02h0M665.41 51.06h0M583.9 76.87h0M584.55 77.44h0M676.74 52.65h0M654.98 39.58h0M677.2 66.72h0M676.81 66.55h0M672.99 45.43h0M671.91 44.78h0M636.18 105.44h0M603.09 86.89h0M682.51 96.03h0M653.68 77.26h0M645.94 82.95h0M646.7 82.6h0M594.18 138.87h0M580.51 43.65h0M578.79 44.65h0M650.09 34.2h0M642.31 15.23h0M659.5 56.37h0M576.76 58.51h0M598.58 115.78h0M585.74 74.68h0M586.34 74.84h0M625.83 127.67h0M624.97 128.48h0M619.68 79.05h0M674.61 127.52h0M664.76 81.97h0M595.5 71.43h0M625.19 56.01h0M623.94 55.72h0M667.84 95.43h0M656.37 112.32h0M657.24 111.88h0M616.16 45.29h0M652.63 88.31h0M653.17 89.14h0M665.35 103.44h0M602.57 122.29h0M619.51 75.79h0M620.45 74.86h0M651.14 82.06h0M631.75 132.26h0M617.13 142.76h0M672.75 15.05h0M659.18 147.16h0M658.29 10.58h0M620.93 99.21h0M620.19 99.47h0M652.12 51.52h0M615.87 83.65h0M637.85 116.13h0M638.68 116.19h0M638.6 116.62h0M627.07 48.16h0M682.64 145.87h0M639.77 94.97h0M646.43 29.85h0M589.52 102.08h0M646.82 58.03h0" stroke="#4c4cce" stroke-width="1.5" stroke-opacity="0.4" stroke-linecap="round" fill="none"/><path d="M643.59 115.25h0M683.5 21.31h0M647.29 19.99h0M572.04 127.27h0M628.82 2.79h0M629.8 1.28h0M578.41 7.81h0M682.4 22.45h0M683.11 22.16h0M681.37 22.97h0M594.38 25.42h0M651.19 38.53h0M652.5 40.54h0M634.58 31.29h0M642.83 82.33h0M661.55 137.3h0M680.39 65.01h0M604.94 34.64h0M673.32 146.39h0M654.01 75.38h0M656.17 75.2h0M596.79 41.53h0M681.3 31.47h0M582.68 94.05h0M600.68 19.27h0M573.51 56.47h0M635.43 10.46h0M630.23 114.56h0M597.02 157.4h0M594.67 90.11h0M595.18 89.59h0M595.17 89.44h0M637.29 135.35h0M617.66 14.19h0M623.87 26.48h0M648.22 65.38h0M644.83 7.31h0M658.77 1.93h0M664.38 103.23h0M664.95 102.38h0M663.53 102.59h0M643.97 138.92h0M644.59 138.82h0M677.86 56.23h0M613.13 5.05h0M577.96 122.73h0M576.22 123.8h0M585.94 5.8h0M608.04 121.22h0M644.17 94.1h0M644.99 92.82h0M594.97 30.45h0M597.35 30.65h0M605.61 37.3h0M606.64 37.53h0M675.84 14.53h0M676.99 14.79h0M674.15 34.63h0M659.51 49.63h0M659.01 50.44h0M637.43 130.92h0M662.75 153.77h0M678.29 106.11h0M680.65 46.92h0M641.62 130.66h0M649.31 76.13h0M645.52 8.22h0M644.94 8.69h0M644.33 7.67h0M670.14 147.02h0M667.92 79.21h0M629.05 90.19h0M598.14 39h0M609.09 99.13h0M566.28 70.74h0M661.71 106.35h0M608.15 151.05h0M614.95 56.57h0M681.29 27.66h0M606.09 28.79h0M645.49 130.8h0M625.82 133.68h0M626.12 23.62h0M580.49 123.28h0M581.03 123.97h0M682.44 62.37h0M681.48 63.92h0M600.59 70.96h0M648.2 94.9h0M581.93 103.95h0M605.38 147.42h0M615.33 8.83h0M615.92 100.39h0M582.03 78.87h0M654.81 95.76h0M592.07 21.56h0M592.4 20.91h0M591.64 21.09h0M601.79 71.69h0M600.76 72.52h0M602.28 70.9h0M607.57 12.06h0M606.89 12.58h0M579.85 21.11h0M639.04 100.6h0M625.06 6.36h0M624.69 7.09h0" stroke="#4c4cce" stroke-width="1.5" stroke-opacity="0.5" stroke-linecap="round" fill="none"/><path d="M581.23 43.56h0M581.92 42.58h0M601.84 52.84h0M598.76 97.95h0M597.9 98.42h0M660.05 38.78h0M644.3 53.65h0M651.24 130.53h0M582.13 85.15h0M632.23 56.04h0M598.29 46.44h0M585.39 82.92h0M586.51 82.88h0M666.6 59.68h0M677.11 98.07h0M678.36 98.12h0M599.23 128.04h0M659.85 33.59h0M631.86 86.56h0M627.05 86.93h0M681.46 122.2h0M680.66 122.04h0M681.52 123.11h0M677.17 80.68h0M653.89 80.02h0M594.79 21.67h0M648.9 98.87h0M644.62 65.78h0M643.94 65.79h0M644.52 66.76h0M670.3 81.76h0M671.23 82.32h0M676.31 54.7h0M676.95 54.85h0M621.14 90.14h0M605.06 23.85h0M665.55 14.38h0M666.44 16.74h0M677.41 12.95h0M587.41 37.72h0M586.21 38.21h0M664.75 20.25h0M659.54 37.18h0M659.12 38.03h0M638.17 65.37h0M647.68 38.31h0M609.25 5.26h0M609.56 152.73h0M647.2 143.21h0M646.22 142.83h0M646.47 143.32h0M662.25 116.35h0M626.76 94.82h0M674.98 7.73h0M611.36 123.01h0M651.01 71.05h0M607.27 61.26h0M656.53 68.99h0M655.91 69.64h0M666.85 61.79h0M589.77 60.04h0M591.16 96.62h0M672.25 95.41h0M606.48 132.17h0M598.43 49.96h0M675.5 38.6h0M648.63 13.68h0M619.68 111.52h0M663.73 75.11h0M635.96 73.31h0M609.24 143.45h0M661.2 87.48h0M584.95 136.64h0M678.17 28.03h0M647.87 108.94h0M647.8 109.53h0M578.9 88.74h0M594.45 38.54h0M559.99 48.82h0M560.25 48.08h0M666.57 8.6h0M667.13 8.38h0M633.35 125.84h0M601.55 121.81h0M601.62 120.66h0M639.32 94.98h0M638.68 95.23h0M653.44 45.72h0M667.63 55.53h0M666.76 61.26h0M678 3.58h0M584.83 122.33h0M644.59 110.25h0M638.4 132.13h0M664.2 63.92h0M656.5 155.83h0M673.45 65.94h0M666.17 75.84h0M630.93 121.87h0M579.71 140.11h0M659.06 88.23h0M658.87 88.98h0M621.21 1.17h0M672.19 75.35h0M610.21 116.09h0M663.93 81.71h0M647.61 120.57h0M616.86 95.9h0M572.32 24.46h0" stroke="#4c4cce" stroke-width="1.5" stroke-opacity="0.6" stroke-linecap="round" fill="none"/><path d="M623.89 86.29h0M654.81 70.77h0M620.24 83.9h0M620.62 82.85h0M586 75.69h0M593.39 75.48h0M608.35 69h0M593.48 154.28h0M617.03 149.88h0M582.68 28.41h0M645.49 128.72h0M645.38 1.32h0M647.17 137.72h0M604.97 117.85h0M669.15 119.17h0M668.67 119.68h0M668.96 118.38h0M664.38 154.07h0M623.06 35h0M624.15 35.26h0M577.03 120.69h0M644.34 43.35h0M595.02 6.94h0M633.42 52.86h0M589.57 27.23h0M675.08 86.97h0M672.58 74.81h0M666.28 115.88h0M586.37 83.6h0M677.8 53.28h0M666.99 102.88h0M684.33 108.83h0M660.54 44.46h0M626.31 57.97h0M634.42 22.97h0M662.83 72.24h0M672.55 6.22h0M651.35 109.17h0M605.3 126.55h0M604.77 125.63h0M618.35 82.31h0M589.11 92.36h0M603.76 9.22h0M655.71 104.1h0M586.47 125.96h0M585.66 126.16h0M593.26 114.5h0M638.39 132.7h0M682.36 20.67h0M672.96 36.59h0M672.89 37.45h0M628.59 73.6h0M614.39 14.64h0M575.7 5.25h0M683.7 118.13h0M655.84 37.86h0M657.07 37.68h0M621.65 31.09h0M601.23 90.14h0M666.63 98.49h0M583.29 86.14h0M583.65 85.08h0M661.38 23.77h0M681.79 113h0M652.97 74.98h0M633.82 99.02h0M672.79 4.95h0M672.43 2.51h0M613.2 82.04h0M677.84 55.88h0M678.49 55.77h0M677.16 55.46h0M606.34 32.51h0M605.16 66.09h0M602.07 76h0M646.92 53.13h0M604.72 50.78h0M585.8 70.95h0M633.91 100.69h0M589.79 4.85h0M647.56 121.55h0M619.94 18.83h0M635.37 20.02h0M619.17 66.61h0M595.28 103.94h0M623.39 116.17h0M582.35 50h0M684.17 56.49h0M646.31 70.58h0M656.75 54.18h0M628.65 62.81h0M629.03 63.17h0M583.89 60.2h0M600.18 144.46h0M583.95 36.08h0M674.15 130.84h0M585.84 102.2h0M633.72 43.41h0M606.98 89.44h0" stroke="#4c4cce" stroke-width="1.5" stroke-opacity="0.7" stroke-linecap="round" fill="none"/><path d="M654.59 152.59h0M614.19 105.47h0M653.65 96.99h0M652.99 97.36h0M679.36 2.88h0M613.86 62.7h0M612.69 62.42h0M647.56 113h0M648.23 112.33h0M578.89 55.4h0M581.21 131.32h0M643.81 38.01h0M680.17 23.2h0M625.22 122.99h0M606.22 151.07h0M606.73 150.57h0M625.31 87.65h0M604.33 74.01h0M603.68 74.08h0M599.67 27.81h0M598.79 28.03h0M668.05 94.1h0M655.13 7.89h0M654.7 8.59h0M673.68 5.07h0M654.65 106.92h0M653.76 106.55h0M667.68 86.26h0M600.01 93.75h0M669.02 96.67h0M671 96.61h0M616.94 103.77h0M680.65 49.8h0M603.71 85.24h0M608.59 86.47h0M682.46 3.72h0M631.81 147.61h0M674.48 34.76h0M653.2 93.5h0M633.15 8.5h0M633.12 7.82h0M600.45 134.94h0M599.1 136.36h0M642.59 61.55h0M677.77 40.33h0M585.39 89.39h0M653.17 117.05h0M651.96 116.9h0M630.07 119.94h0M683.44 94.1h0M602.56 61.99h0M651.47 9.7h0M651.57 9.15h0M607.35 32.01h0M650.13 106.6h0" stroke="#4c4cce" stroke-width="1.5" stroke-opacity="0.8" stroke-linecap="round" fill="none"/><path d="M547.24 99.66h0M562.05 68.22h0M534.85 88.68h0M563.88 51.7h0M575.04 144.34h0M586.64 64.63h0M583.66 151.9h0M583.12 50.93h0M537.77 116.53h0M590.44 22.69h0M584.41 33.58h0M589.46 12.57h0M577.18 55.79h0M550.72 128.87h0M546.41 36.36h0M579.34 100.99h0M581.33 146.12h0M540.43 84.45h0M592.67 132.37h0M594.15 130.08h0M582.96 146.23h0M571.88 63.52h0M559.82 92.78h0M579.54 118.58h0M567.08 13.11h0M572.57 3.83h0M572.14 33.73h0M577.2 122.21h0M557.99 48.85h0M565.01 59.75h0M575.44 13.84h0M565.36 24.97h0M579.3 33.45h0M589.21 135.32h0M595.41 58.06h0M562.14 91.26h0M587.99 126.42h0M566.34 42.05h0M585.51 153.13h0M560.3 116.33h0M580.14 54.81h0M581.78 128.01h0M572.65 28.1h0M565.39 99.77h0M553.9 71.35h0M588.56 11.89h0M579.08 145.67h0M594.33 56.23h0M564.6 104.35h0M573.24 29.24h0M552.87 156.15h0M566.59 77.4h0M592.2 94.35h0M587.94 86.64h0M583.27 37h0M570.56 128.7h0M590.16 105.66h0M579.54 18.41h0M565.35 11.97h0M571.73 58.14h0M588.94 89.02h0M577.47 65.88h0M562.65 135.81h0M583.37 62.95h0M581.25 137.64h0M558.17 74.39h0M571.96 140.5h0M590.62 34.26h0M560.12 23.9h0M577.67 16.24h0M585.04 133.54h0M561.57 152.51h0M583.92 5.63h0M594.58 2.99h0M560.03 90.78h0M557.23 144.25h0M580.28 77.77h0M578.92 55.56h0M582.48 151.31h0M554.56 85.73h0M591.35 74.43h0" stroke="#4c4cce" stroke-width="2" stroke-opacity="0.1" stroke-linecap="round" fill="none"/><path d="M633.32 42.55h0M668.33 58.45h0M672.44 6.01h0M665.84 10.99h0M674.59 25.5h0M664.49 81.94h0M652.31 80.22h0M612.49 7.31h0M606.92 1.98h0M598.99 102.84h0M635.95 152.08h0M636.62 103.82h0M623.4 106.49h0M600.35 151.59h0M612.39 146.63h0M634.99 53.38h0M606.75 2.61h0M672.21 148.78h0M616.91 155.42h0M659.8 138.63h0M617.12 77.68h0M682.36 74.53h0M624 73.26h0M676.89 69.79h0M669.34 21.33h0M629.71 4.93h0M634.79 73.85h0M599.89 70.29h0M613.57 139.02h0M645.28 42.97h0M658.78 57.69h0M682.82 30.45h0M639.26 87.82h0M670.44 148.05h0M622.98 108.02h0M609.37 59.9h0M642.47 138h0M620.62 112.99h0M673.86 32.09h0M609.97 121.01h0M631.07 47.78h0M610.43 43.16h0M624.17 46.19h0M610.28 135.21h0M602.67 137.9h0M650.97 137.65h0M631.72 135.39h0M653.09 147h0M649.6 11.98h0M628.86 13.79h0M658.87 10.62h0M629.86 81.74h0M663.32 143.64h0M656.38 36.8h0M604.57 136.17h0M640.19 122.13h0M611.09 147.26h0M660.94 84.84h0M624.93 101.82h0M634.77 61.5h0M678.46 88.55h0M645.69 31.39h0M641.85 25.28h0M608.83 9.15h0M683.68 63.14h0M666.68 155.01h0M614.49 48.66h0M606.56 126.92h0M654.02 56.57h0M605.85 152.06h0M630.62 56.96h0M630.43 125.22h0M666.31 110.03h0M642.54 19.45h0M662.61 96.85h0M648.11 124.82h0M617.39 76.21h0M666.92 113.31h0M602.18 62.34h0M607.13 74.13h0M672.66 23h0M630.26 104.13h0M663.71 3.41h0M601.5 111.93h0M604.75 49.6h0M602.73 96.39h0M666.94 90.95h0M607.09 48.12h0M672.9 55.7h0M623.65 3.82h0M615.12 114.51h0M643.7 92.31h0M610.01 50.42h0M646.09 41.62h0M656.43 112.34h0M654.26 21.67h0M675.07 50.27h0M663.91 96.98h0M634.74 89.13h0M649.03 45.95h0M640.9 144.85h0M655.17 45.94h0M624.95 108.61h0M625.96 140.73h0M615.24 154.06h0M633.5 30.05h0M631.69 88.98h0M617.26 146.18h0M618.33 23.64h0M624.87 29.21h0M626.88 153.37h0M612.14 16.05h0M654.81 35.28h0M610.31 133.62h0M640.46 99.36h0M601.68 117.66h0M598.37 13.52h0M616.05 21.03h0M662.79 89.98h0M641.1 94.13h0M673.16 21.16h0M667.6 131.06h0M643.02 75.59h0M616.53 155.11h0M610.33 124.09h0M598.94 101.94h0M615.86 78.52h0M647.87 64.39h0M684.12 85.65h0M632.78 55.81h0M619.87 99.86h0M623.03 117.05h0M658.21 102.36h0M666.59 57.9h0M645.83 111.82h0M640.03 5.86h0M684.34 1.81h0M667.21 31.06h0M668.99 10.62h0M623.12 4.31h0M648.96 39.63h0M616.05 155.34h0M682.21 3.07h0M634.79 65.51h0M599.17 144.09h0M627.48 86.52h0M672.34 97.98h0M670.9 75.98h0M654.41 56.54h0M651.66 59.46h0M603.3 105.53h0M669.41 137.69h0M605.82 19.87h0M668.74 42.7h0M684.16 69.38h0M653.22 22.69h0M639.56 45.53h0M664.48 29.6h0M675.53 140.16h0M650.76 6.59h0M649.25 124.25h0M679.18 137.98h0M614.64 74.25h0M649.64 37.19h0M676.35 106.02h0M629.19 10.93h0M665.4 76.94h0M639.18 122.54h0M678.09 79.11h0M645.57 119.9h0M663.13 121.45h0M645.26 153.48h0M629.95 29.68h0M625.79 38.41h0M655.57 79.36h0M658.5 12.75h0M682.41 107.96h0M638.77 155.97h0M669.35 127.65h0M667.4 57.92h0M648.6 81.26h0M649.85 75.71h0M651.49 71.32h0M633.84 12.38h0M637.72 136.52h0M677.03 104.6h0M619.4 141.84h0M653.55 50.16h0M624.85 85.92h0M658.85 111.58h0M615.65 35.76h0M646 80.63h0M597.47 24.04h0M600.46 61.25h0M663.47 23.88h0M654.66 100.83h0M667.17 6.08h0M673.05 11.05h0M624.46 94.55h0M678.61 22.96h0M636.27 105.04h0M634.13 98.89h0M640.74 27.51h0M640.63 27.71h0" stroke="#4c4cce" stroke-width="2" stroke-opacity="0.2" stroke-linecap="round" fill="none"/><path d="M653.41 149.34h0M653.62 147.77h0M629.77 60.21h0M620.14 11.67h0M617.14 70.6h0M676.25 65.77h0M577.59 46.08h0M576.41 46.47h0M620.51 69.37h0M652.74 61.13h0M623.28 72.69h0M638.43 34.63h0M635.08 27.37h0M579.01 43.56h0M626.39 26.2h0M623.12 81.24h0M646.88 46.52h0M646.53 47.72h0M650.29 131.72h0M669.93 69.35h0M586.19 74.1h0M596.01 96.89h0M597.57 96.86h0M640.39 117.29h0M630.86 59.48h0M608.89 12.97h0M680.43 35.2h0M593.3 106.48h0M660.6 43.82h0M660.89 42.59h0M662.26 43.72h0M629.46 58.24h0M668.81 94.97h0M595.09 10.57h0M627.25 135.31h0M646.34 73.02h0M630.54 131.07h0M628.85 130.97h0M666.82 109.64h0M584.85 26.55h0M624.47 144.86h0M637.83 31.22h0M656.08 62.08h0M651.79 149.75h0M582.46 124.52h0M628.09 46.99h0M599.85 70.78h0M659.44 118.64h0M681.81 146.15h0M641.63 102.55h0M601.78 57.73h0M604.86 58.48h0M607.59 31.1h0M599.6 112.67h0" stroke="#4c4cce" stroke-width="2" stroke-opacity="0.4" stroke-linecap="round" fill="none"/><path d="M645.14 114.56h0M645.22 113.51h0M638.59 13.76h0M649.41 97.25h0M610.94 85.57h0M623.45 58.05h0M645.62 148h0M663.77 148.87h0M640.33 127.04h0M639.63 127.24h0M603.48 46.88h0M628.88 1.5h0M572.25 39.55h0M615.36 19.78h0M614.17 62.03h0M581.67 148.74h0M576.82 23.84h0M652.01 39.63h0M630.07 72.74h0M657.59 91.44h0M653.06 103.78h0M651.47 83.1h0M651.66 86.21h0M663.36 28.69h0M574.65 77.91h0M628.1 107.13h0M679.74 82.17h0M626.04 23.87h0M584.17 2.5h0M596.99 156.16h0M673.63 69.01h0M582.75 81.54h0M581.97 80.25h0M664.8 32.85h0M684.29 116.72h0M683.31 116.03h0M685.81 116.29h0M651.24 151.76h0M623.74 25.49h0M626.19 86.7h0M684.13 75.15h0M643.76 4.94h0M600.27 87.18h0M600.02 85.87h0M599.41 88.19h0M579.67 11.22h0M614.48 85.5h0M577.12 123.14h0M643.95 93.37h0M596.05 30.86h0M611.91 95.57h0M606.86 127.57h0M641.26 151.53h0M641.33 131.63h0M585.11 140.29h0M598.73 144.72h0M657.17 93.83h0M655.94 92.9h0M675.46 143.23h0M670.62 74.5h0M609.18 151.61h0M608.93 150.76h0M571.33 9.59h0M576.56 70.54h0M614.29 55.74h0M613.83 56.56h0M591.53 100.64h0M626.41 124.9h0M597.01 7.47h0M664.27 58.18h0M662.5 56.68h0M669.29 53.85h0M675.59 115.13h0M668.28 88.26h0M603.75 100.45h0M631.13 116.78h0M613.88 61.14h0M636.66 8.8h0M682.08 63.17h0M580.95 104.05h0M580.01 103.82h0M629.05 83.46h0M640.4 70.75h0M583 28.34h0M661.87 35.28h0M657.39 132.98h0M658.74 133.14h0M629.85 125.7h0" stroke="#4c4cce" stroke-width="2" stroke-opacity="0.5" stroke-linecap="round" fill="none"/><path d="M638.57 49.97h0M636.75 47.33h0M588.73 111.88h0M653.24 50.26h0M601.1 94.57h0M600.18 93.59h0M642.81 19.78h0M650.79 51.29h0M651.82 50.51h0M631.99 57.25h0M619.55 16.82h0M644.2 34.61h0M600.13 45.95h0M666.91 87.68h0M665.85 59.95h0M663.69 86.73h0M593.46 95.84h0M610.44 144.54h0M609.52 145.72h0M650.13 24.48h0M658.36 14.26h0M682.32 22.99h0M631.58 109.59h0M679.46 37.02h0M595.13 71.32h0M665.75 15.72h0M651.83 59.92h0M632.21 105.52h0M645.59 65.92h0M646.92 39.13h0M631.21 149.23h0M591.96 49.83h0M592.36 50.86h0M626.23 95.56h0M625.47 94.79h0M650.14 93.95h0M597.46 78.32h0M672.71 72.54h0M667.91 39.69h0M599.51 50.68h0M666.46 61.63h0M631.9 82.65h0M673.28 56.05h0M661.43 88.28h0M592.22 32.1h0M618.52 82.94h0M654.71 150.3h0M661.72 98.65h0M585.74 50.74h0M579.73 88.6h0M629.89 9.06h0M610.12 18.39h0M600.75 49.82h0M632.53 124.65h0M631.51 123.86h0M672.23 124.37h0M677.78 2.54h0M661.1 141.57h0M662.58 49.48h0M663.78 30.11h0M645.41 110.74h0M664.51 63.05h0M650.06 93.29h0M628.73 122.68h0M620.72 2.24h0M679.45 18.79h0M609.56 102.75h0M642.9 23.04h0M666.16 134.56h0M665.84 49.89h0M662.18 20.18h0M659.15 21.38h0M664.4 80.5h0M658.15 98.69h0M592.03 129.44h0M573.3 24.83h0M574.12 24.91h0" stroke="#4c4cce" stroke-width="2" stroke-opacity="0.6" stroke-linecap="round" fill="none"/><path d="M625.78 92.09h0M665.64 4.78h0M607.15 68.08h0M615.94 50.48h0M604.95 148.18h0M646.98 128.23h0M626.49 32.57h0M625.12 35.27h0M623.44 5.49h0M666.14 56.37h0M675.19 94.52h0M635.85 85.7h0M636.73 87.05h0M645.95 14.36h0M674.03 86.46h0M673.55 87.12h0M641.74 56.95h0M672.95 149.88h0M672.98 147.05h0M672.13 75.42h0M621.04 76.63h0M677.36 98.5h0M585.47 83.43h0M682.31 13.74h0M619.53 41.13h0M618.97 40.47h0M598.78 70.2h0M650.51 15.77h0M588.76 2.23h0M589.71 2.55h0M587.73 2.93h0M607.61 152.28h0M679.52 12.14h0M679.09 13.33h0M628.68 31.63h0M648 125.72h0M575.56 26.68h0M644.25 2.6h0M620.44 49.06h0M642.18 35.1h0M592.38 113.92h0M638.52 131.98h0M614.19 15.61h0M656.86 38.75h0M649.91 21.18h0M661 28.77h0M672.12 4.04h0M621.62 59.25h0M662.93 86.76h0M590.33 2.93h0M606.21 65.95h0M646.16 53.79h0M619.65 90.53h0M622.76 150.63h0M619.75 34.8h0M575.7 81.28h0M576.74 82.57h0M575.39 80.13h0M613 28.69h0M678.24 14.98h0M664.58 88.17h0M631.99 68.11h0M683.29 99.36h0M653.54 66.73h0M628.43 63.97h0M583.49 59.18h0M600.8 136.42h0M612.18 32.17h0M604.49 139.37h0" stroke="#4c4cce" stroke-width="2" stroke-opacity="0.7" stroke-linecap="round" fill="none"/><path d="M667.46 80.5h0M613.29 63.29h0M632.59 69.36h0M660.09 57.39h0M636.65 79.94h0M637.07 78.67h0M640.34 92.87h0M660.81 137.34h0M625.84 124.08h0M629.33 36.24h0M630.21 36.11h0M575.45 93.74h0M661.28 53.52h0M662.63 53.23h0M668.43 89.02h0M669.93 96.92h0M616.19 104.4h0M566.33 118.16h0M567.08 119.49h0M566.39 117.3h0M659.16 71.34h0M633.06 146.68h0M633.99 8.64h0M600.59 135.82h0M574.65 52.45h0M655.77 84.62h0M601.36 71.56h0M646.71 2.99h0M561.46 82.19h0M663.25 138.52h0M646.41 77.05h0M650.13 25.73h0M649.16 24.76h0M648.5 25.62h0M623.91 29.32h0M622.33 29.24h0M668.73 75.62h0M670.39 129.66h0M629.96 107.37h0M602.3 123.6h0M650.66 41.81h0M607.32 72.16h0M649.75 105.86h0" stroke="#4c4cce" stroke-width="2" stroke-opacity="0.8" stroke-linecap="round" fill="none"/><path d="M583.63 154.53h0M591.55 3.9h0M580.85 75.73h0M595.19 92.42h0M589.91 44.37h0M571.86 89.3h0M574.99 56.1h0M592.73 139.91h0M590.24 68.21h0M584.28 83.51h0M564.89 66.63h0M580.54 109.31h0M586.41 76.95h0M553.8 73.87h0M592.15 133.12h0M580.24 100.93h0M586.36 68.22h0M565.19 47h0M532.35 69.99h0M593.5 7.72h0M547.37 133.49h0M580.21 124.67h0M560.3 45.29h0M535.95 83.64h0M587.39 53.89h0M592.67 37.1h0M542.78 25.38h0M584.33 80.3h0M542.19 114.15h0M582.99 93.62h0M547.44 138.91h0M566.89 66.91h0M556.02 32.67h0M589.21 4.1h0M531.32 72.11h0M589.15 16.42h0M589.12 82.67h0M593.03 3.61h0M574.81 60.6h0M587.15 51.01h0M580.27 103.96h0M592.24 124.97h0M578.09 136.29h0M555.74 156.16h0M589.93 88.23h0M541.16 129.3h0M587.19 32.84h0M592.85 139.41h0M595 140.74h0M571.54 115.28h0M593.82 149.5h0M593.83 116.82h0M564.26 141.59h0M579.04 76.94h0M585.64 151.4h0M558.85 65.46h0M586.47 73.48h0M584.76 79.16h0M543.11 108.81h0" stroke="#4c4cce" stroke-width="2.5" stroke-opacity="0.1" stroke-linecap="round" fill="none"/><path d="M676.15 46.59h0M613.33 89.9h0M650.12 130.65h0M650.36 82.49h0M642.38 155.37h0M615.93 82.29h0M676.18 98.24h0M635.85 58.06h0M624.95 142.93h0M656.32 49.18h0M647.73 60.45h0M678.55 119.16h0M667.62 142.98h0M664.44 120.15h0M650.64 110.06h0M675.47 125.26h0M610.21 18.35h0M637.4 145.32h0M667.16 18.87h0M652.56 91.58h0M662.63 41.63h0M641.14 59.65h0M604.66 78.01h0M661.74 111.53h0M596.53 68.05h0M622.79 3.83h0M654.33 102.39h0M631.94 101.32h0M674.82 56.53h0M666.72 152.08h0M654.34 50.7h0M649.07 139.85h0M657.25 13.7h0M647.88 47.14h0M626.04 34.53h0M667.18 94.98h0M645.87 56.55h0M619.94 149.43h0M673.97 13.87h0M659.9 15.34h0M616.79 2.82h0M663.07 138.3h0M604.52 95.21h0M642.04 103.74h0M667.71 16.71h0M653.68 127.91h0M682.61 52.67h0M636.98 82.09h0M617.7 108.8h0M595.94 23.76h0M657.6 4.46h0M598.47 90.28h0M603.96 151.09h0M621.36 84.23h0M659.06 5.27h0M674.5 6.94h0M649.53 19.37h0M678.39 153.12h0M655.53 130.18h0M682.1 20.84h0M669.07 35.88h0M609.01 132.48h0M681.33 60.44h0M660.45 131.24h0M680.19 10.36h0M646.98 73.64h0M671.68 30.54h0M638.47 147.61h0M613.2 88.59h0M660.4 22.7h0M633.6 88.25h0M606.3 112.7h0M656.57 145.13h0M624.67 107.98h0M619.45 100.65h0M618.72 64.24h0M622.58 111.35h0M672.27 140.22h0M667.2 131.52h0M632.78 153.04h0M623.03 69.23h0M650.8 48.55h0M664.17 12.19h0M634.04 29.18h0M621.79 2.42h0M674.01 136.46h0M606.91 4.55h0M642.17 92.23h0M661.4 104.44h0M675.9 154.62h0M675.67 38.9h0M653.8 12.04h0M623.37 86.14h0M627.62 132.5h0M612.37 36.05h0M644.86 104h0M626.59 136.41h0M599.06 8.79h0M635.18 48.33h0M680.08 103.34h0M677.32 18.45h0M597.22 129.24h0M634.55 25.6h0M643.98 60.06h0M665.91 124.99h0M680.77 9.21h0M649.67 16.31h0M662.2 12h0M611.47 21.22h0M609.47 30.46h0M602.35 89.7h0M636.47 32.8h0M672.88 79.51h0M618.55 93.03h0M617.13 38.43h0M660.02 101.35h0M677.05 5.8h0M683.07 129.88h0M612.74 138.39h0M651.46 151.09h0M681.25 136.68h0M643.46 147.42h0M625.5 43.44h0M674.41 34.43h0M614.76 121.67h0M652.19 89.76h0M681.5 103.56h0M662.25 108.86h0M613.93 60.37h0M631.28 80.44h0M678.53 63.09h0M657.37 81.44h0M637.41 107.99h0M682.24 57.73h0M683.98 23.18h0M645.92 106.47h0M672.68 98.23h0M661.61 71.72h0M637.22 77.78h0M630.34 105.29h0M614.31 135.77h0M665.38 34.21h0M601.56 52.23h0M681.15 145.92h0M617.29 152.53h0M681.77 150.84h0M649.27 58.36h0M599.24 29.83h0M652.16 57.35h0M642.47 135.84h0M611.54 143.58h0M598.69 81.76h0M674.09 110.05h0M645.24 71.53h0M633.76 38.19h0M624.67 149.56h0M676.63 143.17h0M623.06 153.5h0M610.11 58.18h0M602.23 38.17h0M618.59 107.55h0M608.12 122.52h0M599.89 61.82h0M619.45 137.79h0M639.69 46.21h0M598.05 11.25h0M661.59 140.67h0M657.89 7.07h0M646.79 141.13h0M683.9 1.62h0M614.79 99.66h0M650.17 70.83h0M603.27 6.07h0M599.61 51.54h0M668.63 43.35h0M640.66 39.83h0M675.81 146.42h0M599.45 18.78h0M636.73 4.25h0M636.17 18.32h0M632.26 80.78h0M641.68 3.34h0M624.55 129.5h0M644.73 106.36h0M671.42 74.31h0M614.9 100.61h0M661.22 58.94h0M671.16 53.14h0M677.8 142.42h0M609.34 79.26h0M640.99 5.38h0M682.98 138.4h0M657.41 21.92h0M646.02 25.58h0M633.14 98.12h0M680.08 45.7h0M609.64 126.64h0M637.06 131.61h0M681.95 67.92h0M642.22 63.72h0M599.45 93.65h0M665 109.47h0M644.98 1.86h0M667.4 49.84h0M661.99 110.51h0M608.2 108.75h0M639.63 123.41h0M614.18 148.88h0M614.66 99.09h0M656.25 125.11h0M637.3 105.63h0M634.21 82.06h0M633.33 2.35h0M647.39 67.89h0M609.71 107.25h0M600.45 52.08h0M629.09 132.69h0M628.51 150.05h0M682 27.25h0M642.45 66.96h0M670.16 68.45h0M611.85 16.15h0M622.28 146.35h0M642.65 99.62h0M637.73 22.44h0M648.85 28.53h0M601.67 107.67h0M604.28 132.68h0M647.85 7.04h0M636.84 15.34h0M647.25 139.32h0M615.09 59.39h0M638.62 119.3h0M637.4 150.79h0M662.69 106.31h0M679.81 22.2h0M617.22 10.73h0M612.16 21.66h0M598.7 153.08h0M665.75 123.31h0M676.8 56.38h0M633.92 138.18h0M600.87 54.21h0M683.18 95.82h0M679.14 135.09h0" stroke="#4c4cce" stroke-width="2.5" stroke-opacity="0.2" stroke-linecap="round" fill="none"/><path d="M632.07 132.09h0M598.75 99.63h0M675.39 52.76h0M595.79 23.66h0M616.24 19.8h0M651.64 69.5h0M613.69 95.37h0M596.36 122.05h0M657.74 85.1h0M652.31 128.58h0M596.34 9.97h0M647.52 71.62h0M643.5 77.6h0M677.96 144.41h0M565.75 54.95h0M673.45 14.14h0M601.2 67.81h0M643.04 102.65h0M641.57 102.06h0M639.3 144.82h0M603.11 58.92h0M632.78 5.38h0M610.75 13.46h0" stroke="#4c4cce" stroke-width="2.5" stroke-opacity="0.4" stroke-linecap="round" fill="none"/><path d="M641.6 127.86h0M656.56 5.37h0M624.71 131.62h0M652.45 84.54h0M625.29 128.8h0M654.72 74.44h0M642.38 18.54h0M626.02 25.06h0M682.89 18.66h0M565.85 19.73h0M583.79 79.85h0M582.33 156.04h0M666.65 106.8h0M624.4 86.82h0M644.85 5.97h0M647.26 63.82h0M635.05 89.48h0M633.09 149.24h0M651.59 106.53h0M661.53 153.46h0M674.17 153.06h0M639.03 88.12h0M638.05 86.97h0M633.3 2.04h0M632.52 1.08h0M640.59 70.42h0M673.62 142.1h0M677.89 135.96h0M662.69 58.05h0M588.81 27.69h0M632.79 130.35h0M653.2 69.29h0M624.95 23.39h0M671.51 92.78h0M595.69 52.8h0M646.71 131.43h0M620.82 60.96h0M621.1 59.15h0" stroke="#4c4cce" stroke-width="2.5" stroke-opacity="0.5" stroke-linecap="round" fill="none"/><path d="M625.41 81.7h0M638.44 48.21h0M624.4 70.5h0M610.98 70.7h0M598.86 85.72h0M658.88 62.96h0M612.87 59.38h0M598.72 44.6h0M647.05 112.75h0M593 141.3h0M625.6 89.22h0M608.85 143.76h0M670.22 14.78h0M650.8 59.86h0M595.95 70.99h0M668.29 121.92h0M602.39 123.9h0M592.27 48.79h0M581.45 47.27h0M651.28 116.34h0M613.06 145.85h0M606.27 17.09h0M590.1 81h0M630.87 7.09h0M647.9 14.66h0M640.12 2.77h0M591.59 153.32h0M617.08 80.8h0M621.65 151.93h0M632.04 115.98h0M636.31 97.77h0M667.92 76.03h0M667.38 74.74h0M649.21 45.46h0M650.32 44.8h0M628.49 54.05h0M602.02 103.97h0M657.24 5.59h0M621.04 40.3h0M626.7 66.87h0M627.98 65.92h0M643.25 24.48h0M659.3 99.29h0M678.99 46.02h0M619.58 60.15h0" stroke="#4c4cce" stroke-width="2.5" stroke-opacity="0.6" stroke-linecap="round" fill="none"/><path d="M604.72 75.81h0M624.82 74.63h0M653.92 69.61h0M614.84 49.97h0M678.12 71.83h0M598.83 24.93h0M600.6 25.32h0M667.64 22.33h0M682.15 87.67h0M608.63 129.9h0M625.27 33.16h0M645.33 54.25h0M672.85 148.22h0M617.76 40.56h0M682.82 96h0M608.67 152.22h0M609.31 150.5h0M625.72 56.82h0M603.4 16.9h0M604.47 17.96h0M601.86 18.38h0M664.24 7.75h0M577.35 5.26h0M624.34 140.92h0M678.87 75.22h0M635.03 32.42h0M592.83 29.83h0M677.76 16.92h0M639.39 73.07h0M635 100.22h0M683.54 125.89h0M629.57 99.07h0M645.15 71.59h0M633.11 38.63h0M583.04 37.02h0M583.9 36.35h0M612.98 144.24h0" stroke="#4c4cce" stroke-width="2.5" stroke-opacity="0.7" stroke-linecap="round" fill="none"/><path d="M632.14 89.45h0M668.33 79.57h0M660.63 55.92h0M661.21 136.3h0M660.4 135.74h0M638.86 78.79h0M625 87.33h0M658.33 111.09h0M676.47 14.72h0M595.71 83.63h0M618.43 25.66h0M585.27 49.67h0M602.24 8.62h0M586.8 92.56h0M629.92 100.35h0M677.93 122.3h0M634.83 29.32h0M624.18 115.82h0M652.56 94.58h0M675.91 145.92h0M672 128.69h0M599.81 83.57h0M594.96 93.27h0M662.62 93.42h0M595.32 54.57h0" stroke="#4c4cce" stroke-width="2.5" stroke-opacity="0.8" stroke-linecap="round" fill="none"/><path d="M545.96 145.6h0M594.02 122h0M560.61 99.91h0M573.21 33.75h0M559.32 100.07h0M592.83 116.75h0M530.56 55.37h0M548.36 59.07h0M569.63 20.37h0M529.66 32.11h0M551.48 33h0M593.87 57.96h0M572.7 118.58h0M562.46 83.05h0M545.21 153.96h0M576.23 17.44h0M590.56 131.03h0M571.2 78.07h0M569.44 120.66h0M588.4 74.64h0M566.09 46.11h0M570.79 74.59h0M562.67 107.67h0M591.45 90.84h0M590.38 106.56h0M570.75 40.56h0M561.89 74.67h0M582.54 8.05h0M557.22 123.96h0M594.85 34.77h0M532.79 112.72h0M549.57 30.25h0M569.95 28.12h0M581.29 112.75h0M568.79 126.53h0M583.3 74.54h0M547.24 137.74h0M564 116.31h0M574.64 108.67h0M578.69 60.88h0M592.4 42.75h0M578.19 147.39h0M556.69 89.42h0M535.3 68.04h0M578.5 7.89h0M557.86 124.14h0M593.32 116.04h0M577.55 5.66h0M580.3 118.05h0M559.95 65.4h0M545.14 90.65h0M594.67 97.22h0M564.05 97.06h0M573.69 107.36h0M569.7 21.83h0M578.89 144.26h0M575.96 117.63h0M590.18 119.64h0M581.15 142.08h0M561.93 124.29h0M565.09 77.23h0M584.71 79.47h0M551.95 14.12h0M587.66 115.97h0M560.78 29.09h0M534.87 139.47h0M586.58 137.38h0M587.14 20.76h0M562.89 45.4h0M582.93 110.35h0M585.36 149.78h0M595.6 74.84h0M590.89 74.31h0M595.39 14.05h0" stroke="#4c4cce" stroke-width="3" stroke-opacity="0.1" stroke-linecap="round" fill="none"/><path d="M633.33 8.99h0M676.13 114.65h0M630.03 28.18h0M675.97 67.68h0M622.42 77.7h0M622.44 61.28h0M639.68 32.1h0M675.58 137.45h0M653.52 9.14h0M644.6 34.18h0M676.54 141.95h0M668.61 117h0M671.79 32.18h0M665.65 121.02h0M649.6 22.57h0M637.07 108.11h0M602.15 90.63h0M666 94.88h0M596.88 14.66h0M636.56 79.04h0M618.68 65.86h0M681.47 85.39h0M683.3 17.89h0M648.02 80.94h0M668.41 13.95h0M683.72 98.04h0M653.87 84.83h0M668.63 138.92h0M666.14 41.82h0M625.44 71.31h0M651.37 72.87h0M651.06 77.77h0M634.89 35.93h0M665.81 37.76h0M651.87 34.06h0M604.54 134.74h0M641.19 142.07h0M683.64 38.61h0M651.98 48.27h0M657.67 5.47h0M641.16 122.56h0M612.94 93.8h0M640.26 133.51h0M667.79 146.81h0M619.29 90.41h0M602.22 14.93h0M681.03 2.11h0M650.81 138.86h0M629.86 86.19h0M605.99 118.58h0M678.93 106.32h0M626.4 151.67h0M635.89 86h0M680.39 15.8h0M617.3 90.23h0M647.44 45.37h0M674.25 108.84h0M670.79 115.23h0M606.22 69.78h0M682.26 151.31h0M653.39 50.35h0M613.25 13.83h0M612.62 143.93h0M670.38 98.25h0M610.77 108.98h0M675.62 136.96h0M620.09 120.9h0M647.75 17.5h0M624.09 10.38h0M681.83 5.62h0M683.66 141h0M643.27 53.38h0M653.16 95h0M675.22 74.74h0M642.75 49.25h0M608.49 44.24h0M670.26 143.46h0M656.49 51.54h0M655.33 8.67h0M611.49 17.45h0M681.93 123.35h0M677.6 133.71h0M619.69 149.64h0M649.72 103.95h0M672.69 145.92h0M621.08 43.35h0M652.1 34.64h0M618.85 70.29h0M653.16 145.13h0M604.07 120.54h0M672.56 49.49h0M618.16 31.11h0M630.39 38.81h0M678.16 109.63h0M659.83 20.89h0M678.38 29.98h0M643.65 78.32h0M673.74 84.4h0M622.84 45.28h0M645.33 67.53h0M666.57 24.25h0M641.86 109.25h0M657.91 113.7h0M620.41 12.14h0M620.31 83.78h0M614.37 81.27h0M667.66 33.45h0M649.92 123.55h0M656.85 101.27h0M618.15 64.92h0M630.39 92.92h0M659.66 106.01h0M683.03 124.99h0M680.16 56.08h0M608.94 44.45h0M678.41 116.29h0M656.26 69.26h0M668.06 117.17h0M651.46 75.28h0M646.03 87.97h0M658.55 30.21h0M642.35 70.75h0M677.97 70.16h0M657.86 144.78h0M634.15 109.87h0M632.99 153.73h0M651.37 115.98h0M672.7 139.9h0M597.58 75.4h0M676.17 55.17h0M646.62 42.98h0M657.08 151.96h0M606.89 105.48h0M638.08 57.02h0M644.01 98.57h0M660.3 41.99h0M605.98 127.15h0M611.48 3.11h0M630.16 130.89h0M633.83 137.5h0M615.29 116.98h0M635.53 58.23h0M673.5 59.77h0M654.52 80.06h0M668.82 33.07h0M653.38 149.88h0M614.02 74.08h0M639.33 32.59h0M616.84 90.87h0M655.19 115.19h0M629.85 74.63h0M682.78 97.11h0M678.53 131.16h0M646.97 140.05h0M649.59 75.82h0M602.68 28.14h0M600.37 65.33h0M661 39.26h0M638.62 109.78h0M630.38 53.53h0M615.33 111.25h0M626.14 68.21h0M619.17 48.61h0M628.18 37.87h0M682.65 24.31h0M658.03 51.21h0M644.26 38.43h0M618.28 27.57h0M668.15 93.64h0M661.63 86.35h0M598.5 12.25h0M637.26 88.38h0M623.76 96.93h0M640.67 103.01h0M613.12 154.93h0M639.47 100.42h0M638.1 128.75h0M676.76 34.17h0M615.93 104.28h0M614.99 12.28h0M637.22 59.46h0M677.29 136.41h0M608.85 134.91h0M630.2 15.3h0M657.75 144.56h0M652.17 49.22h0M613.63 141.64h0M604.17 54.66h0M613.39 144.12h0M681.51 3.67h0M615.99 123.71h0M602.44 40.52h0M653.62 87.91h0M600.82 10.39h0M663.55 54.02h0M676.06 148.87h0M665.63 6.15h0M677.63 98.94h0M645.71 7.07h0M649.68 71.29h0M652.81 22.82h0M634.06 115.77h0M595.65 20.68h0M639.13 154.53h0M681.31 36.4h0M647.93 116.27h0M642.51 54.26h0M601.12 146.76h0M647.49 139.25h0M672.18 155.96h0M636.23 60.68h0M647.81 35.7h0M630.57 4.14h0M651.3 127.5h0M677.25 30.17h0M641.96 103.01h0M650.24 113.43h0M596.1 27.19h0M649.94 12.32h0M613.38 114.91h0M677.9 152.62h0M619.76 124.92h0M651.3 116.64h0M666.04 86.34h0M635.34 150.34h0M638.99 88.93h0M629.81 79.81h0M644.09 50.54h0M677.45 65.49h0M666.7 77.52h0M600.82 46.3h0M661.66 32.99h0M640.92 10.11h0M622.5 107.12h0M616.76 114.98h0M639.09 146.29h0M612.65 51.6h0M630.28 84.95h0M641.3 52.99h0M674.78 55.76h0M630.82 64.42h0M628.08 67.13h0M645.81 3.65h0M617.52 105.33h0M628.7 96.75h0M618.76 151.23h0M678.42 29.39h0M642.41 18.61h0M667.54 9.44h0M637.99 133.26h0M665.79 121.17h0M598.11 127.75h0M602.4 20.41h0M659.94 146.38h0M658.22 79.7h0M663.3 90.25h0M642.5 17.89h0M634.72 12.82h0M653.66 87.53h0M618.04 122.85h0M680.93 16.84h0M614.06 129.17h0M655.03 115.97h0M635.91 114.95h0M615.15 124.34h0M645.18 32.3h0M615.24 134.6h0M677.1 16.63h0M668.71 48.24h0M637.42 39.84h0M670.76 84.54h0M624.96 90.29h0M596.04 86.19h0M654.26 130.94h0" stroke="#4c4cce" stroke-width="3" stroke-opacity="0.2" stroke-linecap="round" fill="none"/><path d="M569.43 46.55h0M615.62 64.55h0M620.37 40.86h0M614.36 96.92h0M615.43 98.57h0M609.64 58.38h0M654.12 128.91h0M655.92 128.75h0M615.76 84.85h0M600.44 69.55h0" stroke="#4c4cce" stroke-width="3" stroke-opacity="0.4" stroke-linecap="round" fill="none"/><path d="M614 19.13h0M615.48 18.5h0M661.7 80.28h0M673.06 74.88h0M627.41 29.16h0M676.32 87.78h0M625.6 88.49h0M606.34 58.74h0M606.46 125.94h0M666.02 73.42h0M667.43 73.64h0M667.99 27.25h0M630.99 130.14h0M632.59 131.4h0M648.3 94.24h0M669.58 21.85h0" stroke="#4c4cce" stroke-width="3" stroke-opacity="0.5" stroke-linecap="round" fill="none"/><path d="M626.11 69.85h0M626.24 67.81h0M590.91 10.32h0M626.21 88.06h0M590.66 61.29h0M589.24 61.18h0M651.96 58.61h0M651.51 85.51h0M634.95 53.73h0M634.78 12.55h0M617.18 82.24h0M633.19 114.85h0M572.07 92.23h0M653.11 16.43h0M578.09 15.62h0M629.59 80.99h0M661.46 21.36h0M640.85 20.94h0" stroke="#4c4cce" stroke-width="3" stroke-opacity="0.6" stroke-linecap="round" fill="none"/><path d="M676.89 73.39h0M683.64 88.44h0M569.43 89.13h0M644.66 52.58h0M582.51 151.74h0M634.36 83.85h0M668.67 96.07h0M575.17 84.45h0M595.43 55.29h0M676.95 15.59h0M634.42 19.19h0M640.88 73.69h0M640.88 71.33h0M623.78 90.55h0" stroke="#4c4cce" stroke-width="3" stroke-opacity="0.7" stroke-linecap="round" fill="none"/><path d="M661.2 57.81h0M628.36 65.31h0M631.86 53.21h0M676.17 47.95h0M635.08 27.13h0M602.91 90.87h0M630.5 108.5h0M643.13 133.39h0" stroke="#4c4cce" stroke-width="3" stroke-opacity="0.8" stroke-linecap="round" fill="none"/><path d="M555.79 151.82h0M566.71 59.8h0M542.06 139.08h0M559.21 31.73h0M559.88 26.06h0M558.69 114.7h0M573.32 154.89h0M566.13 15.11h0M593.36 156.17h0M591.75 142.96h0M589.88 111.73h0M562.53 35.75h0M562.03 82.3h0M554.04 138.28h0M571.11 10.37h0M579.3 111.36h0M563.04 49.36h0M594.9 120.43h0M589.07 152.56h0M576.1 103.27h0M536.22 48.4h0M560.43 16.63h0M566.9 22.31h0M593.46 102.65h0M549.51 6.72h0M561.6 117.28h0M593.21 119h0M588.09 140.97h0M585.43 100.66h0M579.03 46.94h0M591.74 151.83h0M582.27 13.07h0M588.95 103.04h0M591.3 65.17h0M564.72 80.99h0M581.92 93.75h0M583.29 78.62h0M587.64 85.99h0M578.92 28.11h0M575.13 83.95h0M580.65 6.28h0M572.89 75.61h0M582.41 79.91h0M536.7 137.08h0M593.45 105.46h0M584.44 34.38h0M588.61 98.79h0M591.49 43.95h0M570.22 47.71h0M587.8 115.5h0M587.69 44.99h0M584.58 75.78h0M592.08 112.9h0M571.17 90.61h0M565.03 12.41h0M567.55 138.07h0M583.44 34.92h0M562.76 7.07h0M562.58 2.7h0M568.94 84.48h0M580.1 115.12h0M584.92 52.71h0M570.56 4.68h0M585.79 55.43h0M576.91 85.73h0M561.62 126.84h0M554.58 111.55h0M589.2 18.34h0M593.31 13.47h0M574.5 43.92h0M573.56 98.45h0M567.61 11.79h0M585.01 80.32h0M576.83 110.37h0M584.42 57.04h0M571.77 37.12h0M593.85 141.8h0M569.61 25.88h0M559.69 44.46h0M592.66 142.75h0M590.13 104.65h0M589.55 114.67h0M593.48 113.13h0M593.22 154.92h0M554.91 46.44h0M552.47 53.08h0M565.66 32.56h0M581.95 116.22h0M581.57 106.84h0" stroke="#4c4cce" stroke-width="3.5" stroke-opacity="0.1" stroke-linecap="round" fill="none"/><path d="M601.96 26.22h0M631.95 89.01h0M647.76 70.47h0M671.15 141.45h0M669.84 141.11h0M645.83 94.57h0M669.41 45.3h0M637.21 71.4h0M604.56 104.4h0M607.55 150.88h0M635.31 76.86h0M619.09 102.77h0M664.56 78.97h0M669.07 59.6h0M663.68 1.93h0M644.13 43.49h0M671.45 5.74h0M679.44 102.94h0M634.96 45.61h0M657.26 27.57h0M635.22 82.08h0M658.21 36.17h0M621.26 134.19h0M672.62 128.65h0M666.84 81.68h0M610.29 32.41h0M664.66 44.65h0M656.52 128.3h0M650.11 42.96h0M647.61 108.68h0M673.13 120.73h0M675.87 107.26h0M653.35 78.54h0M662.04 62.32h0M662.05 79.32h0M621.08 41.68h0M628.46 143.64h0M637.16 65.36h0M613.53 38.54h0M676.45 16.29h0M604.15 88.9h0M636.76 23.99h0M645.27 87.63h0M650.39 39.39h0M669.7 71.1h0M674.79 108.1h0M660.54 132.42h0M670.34 94.83h0M612.76 152.03h0M630.75 89.57h0M676.93 135.84h0M652.45 129.58h0M644.59 28.35h0M645.01 2.04h0M652.83 29.82h0M597.06 76.73h0M679.33 120.07h0M618.73 70.11h0M636.71 53.05h0M679.15 51.65h0M650.37 59.2h0M644.43 124.42h0M644.89 55.69h0M661 28.52h0M598.94 133.78h0M653.93 18.58h0M634.59 103.84h0M634.15 106.53h0M683.63 39.53h0M630.2 71.95h0M682.32 36.18h0M637.56 141.41h0M635.31 63.22h0M647.01 126.72h0M625.42 145.37h0M607.35 2.76h0M673.7 108.2h0M644.28 24.79h0M637.73 135.61h0M640.11 79.81h0M682.81 22.01h0M667.46 92.86h0M666.55 44.82h0M613.23 28.21h0M665.24 90.08h0M633.54 114.81h0M675.38 139.28h0M668.06 66.69h0M650.31 118.26h0M599.89 129.08h0M660.38 118.21h0M608.49 27.68h0M671.41 5.01h0M608.3 11.9h0M628.99 58.92h0M633.84 156.01h0M642.87 60.41h0M611.35 88.18h0M631.04 36.26h0M657.17 103.75h0M663.38 39.42h0M668.67 103.28h0M633.99 82.78h0M662 9.2h0M636.13 39.74h0M630.93 48.72h0M644.08 113.05h0M663.67 97.07h0M682.05 14.5h0M654.61 32.04h0M656.47 111.49h0M681.88 135.98h0M648.98 105.78h0M645.59 139.53h0M609.22 90.13h0M671.85 20.11h0M617.07 146.2h0M670.44 24.6h0M681.39 127.33h0M602.44 145.62h0M612.27 95.45h0M625.16 84.52h0M609.61 2.33h0M622.91 97.88h0M675.7 22.68h0M632.21 151.51h0M651.32 9.63h0M614.1 142.9h0M626.79 19.57h0M623.68 145.7h0M614.31 140.64h0M635.94 82.42h0M647.1 53.32h0M615.55 115.99h0M608.92 52.36h0M621.23 71.31h0M666.36 12.96h0M650.38 110.79h0M605.26 35.51h0M597.58 29.86h0M649.46 128.82h0M644.48 35.21h0M596.63 60.9h0M614.83 69.17h0M644.88 99.93h0M649.8 115.03h0M641.3 67.36h0M602.88 152.53h0M611.45 132.67h0M643.94 119.76h0M625.67 107.33h0M612.16 153.74h0M633.25 7.6h0M668.72 49.29h0M626.87 58.37h0M661.95 56.64h0M639.69 4.83h0M619.81 75.27h0M617.54 91.93h0M610.25 26.67h0M649.46 115.93h0M665.72 10.63h0M678.5 27.96h0M611.41 20.23h0M662.12 84.28h0M607.73 4.23h0M648.35 149.78h0M607.31 10.09h0M616.99 96.66h0M680.86 130.55h0M629.46 34.16h0M654.44 115.5h0M665.51 110.83h0M673.71 144.5h0M639.14 107.56h0M653.7 81.06h0M619.82 129.12h0M667.76 102.59h0M620.67 62.52h0M603.34 119.24h0M678.65 70.04h0M659.13 95.44h0M642.41 144.99h0M609.44 49.63h0M645.85 56.1h0M614.18 68.91h0M637.72 114.22h0M614.14 142.05h0M628.47 113.59h0M638.09 4.49h0M665.3 105.19h0M605.2 63.32h0M606.82 118.37h0M679.03 76.29h0M647.85 82.88h0M649.4 137.68h0M654.07 134.32h0M609.6 49.33h0M664.71 16.78h0M606.09 97.29h0M682.4 122.6h0M615.66 76.74h0M634.17 1.65h0M648.68 130.04h0M604.78 8.65h0M652.53 9h0M617.9 154.6h0M638.45 119.66h0M660.26 130.6h0M613.74 77.31h0M608.99 74.18h0M657.92 110.74h0M613.2 85.87h0M611.42 153.07h0M641.06 55.24h0M660.98 50.45h0M674.17 21.04h0M623.1 31.32h0M647.71 72.64h0M642.05 78.31h0M601.29 106.9h0M616.41 112.01h0M599.66 150.75h0M626.04 102.55h0M596.16 58.34h0M683.12 65.83h0M633.97 145.69h0M641.12 151.26h0M602.49 63h0M645.87 113.03h0M660.2 2.17h0M668.63 17.99h0M676.74 32.95h0M639.62 143.3h0M682.03 153.75h0M630.72 5.43h0M619.45 143.53h0M624.81 47.46h0M605.3 111.58h0M623.93 51.44h0M630.36 149.39h0M607.36 54.55h0M631.52 50.71h0M652.68 109.49h0M611.18 128.76h0M647.94 78.27h0M605.53 110.99h0M645.29 8.88h0M618.17 40.68h0M652.03 106.89h0M667.06 120.65h0M639.87 110.8h0M653.05 145.71h0M620.93 38.37h0M667.09 137.78h0M667.98 98.7h0M653.44 54.76h0M661.78 40.29h0" stroke="#4c4cce" stroke-width="3.5" stroke-opacity="0.2" stroke-linecap="round" fill="none"/><path d="M654.18 70.16h0M615.03 86.2h0" stroke="#4c4cce" stroke-width="3.5" stroke-opacity="0.4" stroke-linecap="round" fill="none"/><path d="M642.11 93.78h0M653.36 75.37h0M631.76 148.43h0" stroke="#4c4cce" stroke-width="3.5" stroke-opacity="0.5" stroke-linecap="round" fill="none"/><path d="M576.84 43.32h0M641.02 38.81h0M605.88 109.71h0M607.28 49.97h0" stroke="#4c4cce" stroke-width="3.5" stroke-opacity="0.6" stroke-linecap="round" fill="none"/><path d="M592.72 75.81h0M622.43 71.69h0M604.12 115.46h0M634.87 17.52h0M662.01 80.97h0M673.95 126.84h0M623.63 17.14h0" stroke="#4c4cce" stroke-width="3.5" stroke-opacity="0.7" stroke-linecap="round" fill="none"/><path d="M611.43 105.82h0M659.61 44.3h0M666.53 42.65h0" stroke="#4c4cce" stroke-width="3.5" stroke-opacity="0.8" stroke-linecap="round" fill="none"/><path d="M558.52 57.58h0M592.66 46.48h0M543.43 108.65h0M594.36 32.04h0M575.2 43.35h0M548.92 92.14h0M564.05 98.65h0M576.33 134.29h0M585.47 80.5h0M577.77 41.02h0M579.7 140.14h0M554.45 47.06h0M591.69 118.62h0M583.94 33.32h0M578.6 43.34h0M568.82 24.51h0M532.01 131.72h0M587.09 29.82h0M567.11 24.91h0M588.48 153.21h0M573.37 94.87h0M590.48 15.2h0M591.99 126.13h0M576 21.98h0M593.64 152.86h0M581.63 121.89h0M593.53 35.11h0M567.35 117.84h0M572.52 8.75h0M590.13 42.63h0M573.09 73.33h0M574.7 119.36h0M583.41 1.31h0M561.99 69.89h0M591.52 123.18h0M579.98 56.68h0M560.75 135.4h0M548.26 47.79h0M552.56 131.95h0M592.88 14.5h0M578 26.9h0M567.6 79.18h0M595.19 56.15h0M563.38 83.57h0M588.38 30.32h0M586.07 41.69h0M582.12 52.01h0M569.92 59.33h0M559.69 36.04h0M579.84 33.78h0M584.44 59.49h0M591.49 17.16h0M584.24 15.78h0M589.69 23.57h0M538.27 77.86h0M590.74 64.83h0" stroke="#4c4cce" stroke-width="4" stroke-opacity="0.1" stroke-linecap="round" fill="none"/><path d="M662.41 90.46h0M599.71 65.59h0M673.17 51.01h0M597.06 90.19h0M637.1 21.14h0M637.21 44.03h0M649.94 25.93h0M646.05 14.47h0M674.13 105.15h0M657.79 72.72h0M651.82 131.02h0M652.37 85.25h0M683.75 60.91h0M648.68 31.9h0M666.73 30.8h0M614.1 39.57h0M630.64 92.46h0M659 27.86h0M662.29 59.97h0M635.78 69.52h0M606.04 65.49h0M615.94 82.59h0M603.86 8.42h0M681.83 22.47h0M674.28 146.03h0M645.12 35.91h0M654.07 97.09h0M606.68 27.46h0M609.49 143.75h0M679.36 105.52h0M669.63 26.07h0M632.66 125.57h0M668.57 47.29h0M661.39 38.9h0M672.95 87.93h0M678.8 120.07h0M645.92 26.08h0M605.73 82.89h0M648.66 64.44h0M628.54 80.49h0M600.03 79.56h0M652.63 120.77h0M622.68 36.21h0M644.86 53.2h0M680.15 136.65h0M601.09 83.06h0M638.1 35.54h0M622.15 20.61h0M659.98 17.92h0M607.3 70.93h0M628.97 57.7h0M610.42 26.25h0M677.89 111.12h0M631.32 76.42h0M675.33 54.82h0M667.03 85.63h0M605.57 151.74h0M624.38 35.79h0M665.49 98.22h0M641.09 61.72h0M610.83 84.94h0M667.5 31.66h0M683.28 80.84h0M646.35 5.26h0M602.95 88.86h0M656.69 46.49h0M600.27 149.8h0M665.84 72.81h0M607.45 48.07h0M683.74 150.42h0M644.13 124.29h0M655.07 43.98h0M628.41 56.02h0M630.92 65.26h0M670.93 62.98h0M651.8 4.89h0M647.63 137.72h0M637 116.05h0M608.75 119.95h0M644.88 62.25h0M615.43 113.4h0M607.7 126.05h0M613.75 44.22h0M625.16 81.4h0M603.89 101.75h0M633.39 70.23h0M639.16 73.57h0M682.56 32.62h0M649.85 100.62h0M683.27 115.3h0M645.54 115.03h0M651.23 72.69h0M650.27 90.13h0M647.72 125.35h0M600.33 81.53h0M630.35 92.03h0M661.11 18.29h0M599.21 31.51h0M650.63 22.42h0M641.26 25.82h0M623.51 98.83h0M654.53 111.39h0M607.45 53.87h0M642.15 62.42h0M681.19 48.77h0M649.81 66.95h0M600.98 126.09h0M671.49 101.41h0M642.29 6.47h0M616.05 69.84h0M638.71 121.3h0M669.95 93.51h0M664.31 108.7h0M665 58.52h0M647.44 63.22h0M649.37 29.86h0M657.51 38.02h0M660.47 124.06h0M653.96 100.11h0M643.4 112.97h0M626.78 155.76h0M606.72 100.94h0M620.53 20.82h0M642.08 33.07h0M639.04 104.96h0M651.44 114.87h0M664.12 68.97h0M666.3 113.53h0M669.05 15.2h0M636.09 15.74h0M606.54 53.4h0M626.31 107.96h0M616.95 63.01h0M643.78 155.97h0M621.25 147.81h0M625.71 143.91h0M674.59 112.61h0M632.54 109.39h0M652.33 135.31h0M608.56 77.5h0M622.65 120.93h0M654.74 42.02h0M670.23 154.65h0M628.26 52.53h0M630.38 35.98h0M611.9 110.51h0M673.08 61.74h0M610.45 38.5h0M650.11 147.7h0M602.35 51.29h0M656.89 45.83h0M676.53 109.09h0M642.6 2.88h0M613.34 1.58h0M653.58 38.24h0M615.89 150.95h0M656.55 55.16h0M640.53 122.86h0M675.71 89.41h0M634.91 144.44h0M644.7 15.12h0M671.46 32.41h0M658.04 155.95h0M655.68 140.18h0M629.26 58.7h0M622.12 111.76h0M642.2 44.25h0M623.15 71.9h0M603.03 32.2h0M616.03 152.08h0M650.79 26.83h0M598.82 62.11h0M682.02 57.32h0M602.91 71.74h0M606.68 40.64h0M678.96 141.65h0M645.73 8.59h0M642.71 70.19h0M636.16 139.13h0M599.63 67.91h0M631.68 30.63h0M640.99 57.34h0M617.7 43.08h0M661.42 134.3h0M606.19 83.38h0M660.82 14.16h0M683.52 46.56h0M662.65 130.5h0M672.16 120.78h0M659.2 88.85h0M642.21 135.67h0M658.66 118.86h0M662.89 155.42h0M628.96 63.8h0M662.02 83.45h0M665.27 117.18h0M629.31 86.37h0M647.52 124.95h0M642.72 45.61h0M675.58 2.21h0M637.12 118.24h0M613.69 34.24h0M683.88 64.32h0M661.83 71.21h0M643.79 1.87h0M684.14 139.47h0M658.84 50.95h0M666.41 50.72h0M640.75 136.62h0M643.67 134.81h0M677.36 153.21h0M651.27 65.58h0M659.62 149.09h0M654.37 74.74h0M637.64 91.09h0M680.78 154.98h0M595.97 64.95h0M615.83 101.07h0M596.54 25.1h0M645.88 8.29h0M670.86 149.23h0M609.59 139.93h0M647.13 149.5h0M655.45 83.31h0M598.93 112.99h0M637.32 18.4h0M615.22 34.21h0M615.8 97.47h0M611.87 140.77h0M658.5 110.84h0M656.81 91.74h0M657.06 116.29h0M662.84 43.89h0M624.6 76.32h0M656.24 76.71h0" stroke="#4c4cce" stroke-width="4" stroke-opacity="0.2" stroke-linecap="round" fill="none"/><path d="M651.57 71.29h0" stroke="#4c4cce" stroke-width="4" stroke-opacity="0.4" stroke-linecap="round" fill="none"/><path d="M648.5 34.34h0" stroke="#4c4cce" stroke-width="4" stroke-opacity="0.5" stroke-linecap="round" fill="none"/><path d="M599.07 5.29h0M575.7 102.41h0M669.94 58.52h0" stroke="#4c4cce" stroke-width="4" stroke-opacity="0.6" stroke-linecap="round" fill="none"/><path d="M570.24 91.33h0M674.62 124.75h0" stroke="#4c4cce" stroke-width="4" stroke-opacity="0.7" stroke-linecap="round" fill="none"/><path d="M598.02 79.58h0M636.94 27.46h0M666.33 63.63h0" stroke="#4c4cce" stroke-width="4" stroke-opacity="0.8" stroke-linecap="round" fill="none"/><path d="M659.96 36.4h0" stroke="#4c4cce" stroke-width="4.5" stroke-opacity="0.4" stroke-linecap="round" fill="none"/><path d="M611.97 33.92h0" stroke="#4c4cce" stroke-width="4.5" stroke-opacity="0.6" stroke-linecap="round" fill="none"/><path d="M632.36 4.66h0M661.25 99.38h0" stroke="#4c4cce" stroke-width="4.5" stroke-opacity="0.8" stroke-linecap="round" fill="none"/><path d="M677.51 150.88h0" stroke="#4c4cce" stroke-width="5" stroke-opacity="0.5" stroke-linecap="round" fill="none"/><path d="M632.57 2.57h0M632.72 4.61h0" stroke="#4c4cce" stroke-width="5" stroke-opacity="0.8" stroke-linecap="round" fill="none"/></g><rect x="187.3" y="1.4" width="155.2" height="154.8" filter="url(#grain2)" opacity="0.28"/><rect x="187.4" y="1.6" width="155.1" height="154.7" fill="none" stroke="#4a4a4a" stroke-width="1.3"/><rect x="529.4" y="1.3" width="155.2" height="154.8" filter="url(#grain2)" opacity="0.28"/><rect x="529.5" y="1.5" width="155.1" height="154.7" fill="none" stroke="#4a4a4a" stroke-width="1.3"/><rect x="226.35" y="40.5" width="77.1" height="76.85" fill="none" stroke="#d41c52" stroke-width="1.25"/><circle cx="261" cy="49.3" r="1.1" fill="#4a4acc" fill-opacity="0.75"/><circle cx="268.2" cy="55.4" r="1.1" fill="#4a4acc" fill-opacity="0.75"/><circle cx="256.5" cy="64.9" r="1.1" fill="#4a4acc" fill-opacity="0.75"/><circle cx="295.4" cy="68.6" r="1.1" fill="#4a4acc" fill-opacity="0.75"/><circle cx="267.6" cy="71.5" r="1.1" fill="#4a4acc" fill-opacity="0.75"/><circle cx="280.1" cy="74.7" r="1.1" fill="#4a4acc" fill-opacity="0.75"/><circle cx="248.6" cy="79.2" r="1.1" fill="#4a4acc" fill-opacity="0.75"/><circle cx="294.9" cy="79.2" r="1.1" fill="#4a4acc" fill-opacity="0.75"/><circle cx="263.9" cy="84.5" r="1.1" fill="#4a4acc" fill-opacity="0.75"/><circle cx="280.6" cy="84.8" r="1.1" fill="#4a4acc" fill-opacity="0.75"/><circle cx="243" cy="90.1" r="1.1" fill="#4a4acc" fill-opacity="0.75"/><circle cx="291.5" cy="96.4" r="1.1" fill="#4a4acc" fill-opacity="0.75"/><circle cx="273.2" cy="98.3" r="1.1" fill="#4a4acc" fill-opacity="0.75"/><circle cx="257.6" cy="100.4" r="1.1" fill="#4a4acc" fill-opacity="0.75"/><circle cx="288.6" cy="104.1" r="1.1" fill="#4a4acc" fill-opacity="0.75"/><circle cx="284.3" cy="59.4" r="1.1" fill="#4a4acc" fill-opacity="0.75"/><circle cx="261" cy="49.3" r="3.3" fill="none" stroke="#d41c52" stroke-width="0.95"/><circle cx="268.2" cy="55.4" r="3.3" fill="none" stroke="#d41c52" stroke-width="0.95"/><circle cx="256.5" cy="64.9" r="3.3" fill="none" stroke="#d41c52" stroke-width="0.95"/><circle cx="295.4" cy="68.6" r="3.3" fill="none" stroke="#d41c52" stroke-width="0.95"/><circle cx="267.6" cy="71.5" r="3.3" fill="none" stroke="#d41c52" stroke-width="0.95"/><circle cx="280.1" cy="74.7" r="3.3" fill="none" stroke="#d41c52" stroke-width="0.95"/><circle cx="248.6" cy="79.2" r="3.3" fill="none" stroke="#d41c52" stroke-width="0.95"/><circle cx="294.9" cy="79.2" r="3.3" fill="none" stroke="#d41c52" stroke-width="0.95"/><circle cx="263.9" cy="84.5" r="3.3" fill="none" stroke="#d41c52" stroke-width="0.95"/><circle cx="280.6" cy="84.8" r="3.3" fill="none" stroke="#d41c52" stroke-width="0.95"/><circle cx="243" cy="90.1" r="3.3" fill="none" stroke="#d41c52" stroke-width="0.95"/><circle cx="291.5" cy="96.4" r="3.3" fill="none" stroke="#d41c52" stroke-width="0.95"/><circle cx="273.2" cy="98.3" r="3.3" fill="none" stroke="#d41c52" stroke-width="0.95"/><circle cx="257.6" cy="100.4" r="3.3" fill="none" stroke="#d41c52" stroke-width="0.95"/><circle cx="288.6" cy="104.1" r="3.3" fill="none" stroke="#d41c52" stroke-width="0.95"/><circle cx="284.5" cy="59.4" r="3.0" fill="none" stroke="#d41c52" stroke-width="1.5"/><text x="281" y="68.9" font-family="Liberation Sans" font-size="7.2" text-anchor="middle" fill="#cc1048" font-weight="bold" textLength="4.59" lengthAdjust="spacingAndGlyphs" >2</text><line x1="230.1" y1="113" x2="242.9" y2="113" stroke="#d41c52" stroke-width="1.4"/><rect x="568.35" y="40.5" width="77.1" height="76.85" fill="none" stroke="#d41c52" stroke-width="1.25"/><circle cx="603" cy="49.3" r="1.1" fill="#4a4acc" fill-opacity="0.75"/><circle cx="610.2" cy="55.4" r="1.1" fill="#4a4acc" fill-opacity="0.75"/><circle cx="598.5" cy="64.9" r="1.1" fill="#4a4acc" fill-opacity="0.75"/><circle cx="637.4" cy="68.6" r="1.1" fill="#4a4acc" fill-opacity="0.75"/><circle cx="609.6" cy="71.5" r="1.1" fill="#4a4acc" fill-opacity="0.75"/><circle cx="622.1" cy="74.7" r="1.1" fill="#4a4acc" fill-opacity="0.75"/><circle cx="590.6" cy="79.2" r="1.1" fill="#4a4acc" fill-opacity="0.75"/><circle cx="636.9" cy="79.2" r="1.1" fill="#4a4acc" fill-opacity="0.75"/><circle cx="605.9" cy="84.5" r="1.1" fill="#4a4acc" fill-opacity="0.75"/><circle cx="622.6" cy="84.8" r="1.1" fill="#4a4acc" fill-opacity="0.75"/><circle cx="585" cy="90.1" r="1.1" fill="#4a4acc" fill-opacity="0.75"/><circle cx="633.5" cy="96.4" r="1.1" fill="#4a4acc" fill-opacity="0.75"/><circle cx="615.2" cy="98.3" r="1.1" fill="#4a4acc" fill-opacity="0.75"/><circle cx="599.6" cy="100.4" r="1.1" fill="#4a4acc" fill-opacity="0.75"/><circle cx="630.6" cy="104.1" r="1.1" fill="#4a4acc" fill-opacity="0.75"/><circle cx="626.3" cy="59.4" r="1.1" fill="#4a4acc" fill-opacity="0.75"/><circle cx="603" cy="49.3" r="3.3" fill="none" stroke="#d41c52" stroke-width="0.95" stroke-dasharray="1.2 0.9"/><circle cx="610.2" cy="55.4" r="3.3" fill="none" stroke="#d41c52" stroke-width="0.95" stroke-dasharray="1.2 0.9"/><circle cx="598.5" cy="64.9" r="3.3" fill="none" stroke="#d41c52" stroke-width="0.95" stroke-dasharray="1.2 0.9"/><circle cx="637.4" cy="68.6" r="3.3" fill="none" stroke="#d41c52" stroke-width="0.95" stroke-dasharray="1.2 0.9"/><circle cx="609.6" cy="71.5" r="3.3" fill="none" stroke="#d41c52" stroke-width="0.95" stroke-dasharray="1.2 0.9"/><circle cx="622.1" cy="74.7" r="3.3" fill="none" stroke="#d41c52" stroke-width="0.95" stroke-dasharray="1.2 0.9"/><circle cx="590.6" cy="79.2" r="3.3" fill="none" stroke="#d41c52" stroke-width="0.95" stroke-dasharray="1.2 0.9"/><circle cx="636.9" cy="79.2" r="3.3" fill="none" stroke="#d41c52" stroke-width="0.95" stroke-dasharray="1.2 0.9"/><circle cx="605.9" cy="84.5" r="3.3" fill="none" stroke="#d41c52" stroke-width="0.95" stroke-dasharray="1.2 0.9"/><circle cx="622.6" cy="84.8" r="3.3" fill="none" stroke="#d41c52" stroke-width="0.95" stroke-dasharray="1.2 0.9"/><circle cx="585" cy="90.1" r="3.3" fill="none" stroke="#d41c52" stroke-width="0.95" stroke-dasharray="1.2 0.9"/><circle cx="633.5" cy="96.4" r="3.3" fill="none" stroke="#d41c52" stroke-width="0.95" stroke-dasharray="1.2 0.9"/><circle cx="615.2" cy="98.3" r="3.3" fill="none" stroke="#d41c52" stroke-width="0.95" stroke-dasharray="1.2 0.9"/><circle cx="599.6" cy="100.4" r="3.3" fill="none" stroke="#d41c52" stroke-width="0.95" stroke-dasharray="1.2 0.9"/><circle cx="630.6" cy="104.1" r="3.3" fill="none" stroke="#d41c52" stroke-width="0.95" stroke-dasharray="1.2 0.9"/><circle cx="626.5" cy="59.4" r="3.0" fill="none" stroke="#d41c52" stroke-width="1.5"/><text x="623" y="68.9" font-family="Liberation Sans" font-size="7.2" text-anchor="middle" fill="#cc1048" font-weight="bold" textLength="4.59" lengthAdjust="spacingAndGlyphs" >2</text><line x1="572.1" y1="113" x2="584.9" y2="113" stroke="#d41c52" stroke-width="1.4"/><text x="192" y="13.8" font-family="Liberation Sans" font-size="12.5" text-anchor="start" fill="#111" font-weight="bold" >c</text><text x="209.7" y="13.3" font-family="Liberation Sans" font-size="9.6" text-anchor="start" fill="#d41c52" font-weight="bold" textLength="39.8" lengthAdjust="spacingAndGlyphs" >4.06 GHz</text><text x="534.6" y="13.8" font-family="Liberation Sans" font-size="12.5" text-anchor="start" fill="#111" font-weight="bold" >f</text><text x="551.5" y="13.7" font-family="Liberation Sans" font-size="9.6" text-anchor="start" fill="#d41c52" font-weight="bold" textLength="39.8" lengthAdjust="spacingAndGlyphs" >3.54 GHz</text><rect x="352.25" y="1.25" width="78.25" height="78" fill="#f0f0fa"/><rect x="352.25" y="1.25" width="78.25" height="78" filter="url(#grain2)" opacity="0.22"/><ellipse cx="379.6" cy="59.6" rx="2.8" ry="2.2" fill="#7c7cdc" fill-opacity="0.55" filter="url(#sb2)"/><circle cx="382.25" cy="10.5" r="2.4" fill="#8c8ce0" fill-opacity="0.4"/><circle cx="382.25" cy="10.5" r="1.4" fill="#5050cc" fill-opacity="0.85"/><circle cx="391.25" cy="17.5" r="2.4" fill="#8c8ce0" fill-opacity="0.4"/><circle cx="391.25" cy="17.5" r="1.4" fill="#5050cc" fill-opacity="0.85"/><circle cx="405" cy="20.75" r="2.4" fill="#8c8ce0" fill-opacity="0.4"/><circle cx="405" cy="20.75" r="1.4" fill="#5050cc" fill-opacity="0.85"/><circle cx="378" cy="26.25" r="2.4" fill="#8c8ce0" fill-opacity="0.4"/><circle cx="378" cy="26.25" r="1.4" fill="#5050cc" fill-opacity="0.85"/><circle cx="388.75" cy="32.75" r="2.4" fill="#8c8ce0" fill-opacity="0.4"/><circle cx="388.75" cy="32.75" r="1.4" fill="#5050cc" fill-opacity="0.85"/><circle cx="401.25" cy="36.5" r="2.4" fill="#8c8ce0" fill-opacity="0.4"/><circle cx="401.25" cy="36.5" r="1.4" fill="#5050cc" fill-opacity="0.85"/><circle cx="416.25" cy="40.5" r="2.4" fill="#8c8ce0" fill-opacity="0.4"/><circle cx="416.25" cy="40.5" r="1.4" fill="#5050cc" fill-opacity="0.85"/><circle cx="370" cy="41" r="2.4" fill="#8c8ce0" fill-opacity="0.4"/><circle cx="370" cy="41" r="1.4" fill="#5050cc" fill-opacity="0.85"/><circle cx="385.5" cy="46.5" r="2.4" fill="#8c8ce0" fill-opacity="0.4"/><circle cx="385.5" cy="46.5" r="1.4" fill="#5050cc" fill-opacity="0.85"/><circle cx="401.25" cy="47" r="2.4" fill="#8c8ce0" fill-opacity="0.4"/><circle cx="401.25" cy="47" r="1.4" fill="#5050cc" fill-opacity="0.85"/><circle cx="363.75" cy="52" r="2.4" fill="#8c8ce0" fill-opacity="0.4"/><circle cx="363.75" cy="52" r="1.4" fill="#5050cc" fill-opacity="0.85"/><circle cx="394.25" cy="60.75" r="2.4" fill="#8c8ce0" fill-opacity="0.4"/><circle cx="394.25" cy="60.75" r="1.4" fill="#5050cc" fill-opacity="0.85"/><circle cx="413" cy="58.25" r="2.4" fill="#8c8ce0" fill-opacity="0.4"/><circle cx="413" cy="58.25" r="1.4" fill="#5050cc" fill-opacity="0.85"/><circle cx="410" cy="66.25" r="2.4" fill="#8c8ce0" fill-opacity="0.4"/><circle cx="410" cy="66.25" r="1.4" fill="#5050cc" fill-opacity="0.85"/><circle cx="417.5" cy="31.5" r="1.4" fill="#9a9ae0"/><rect x="352.25" y="1.25" width="78.25" height="78" fill="none" stroke="#d63c6c" stroke-width="1.5"/><text x="357.1" y="14.2" font-family="Liberation Sans" font-size="11.5" text-anchor="start" fill="#d41c52" font-weight="bold" >d</text><text x="389.75" y="10.6" font-family="Liberation Sans" font-size="7.2" text-anchor="middle" fill="#d41c52" font-weight="bold" >0</text><text x="399.25" y="15.6" font-family="Liberation Sans" font-size="7.2" text-anchor="middle" fill="#d41c52" font-weight="bold" >1</text><text x="412.25" y="20.1" font-family="Liberation Sans" font-size="7.2" text-anchor="middle" fill="#d41c52" font-weight="bold" >2</text><text x="382.25" y="69" font-family="Liberation Sans" font-size="7.2" text-anchor="middle" fill="#d41c52" font-weight="bold" >D</text><text x="397.25" y="69.5" font-family="Liberation Sans" font-size="7.2" text-anchor="middle" fill="#d41c52" font-weight="bold" >E</text><text x="414.25" y="74" font-family="Liberation Sans" font-size="7.2" text-anchor="middle" fill="#d41c52" font-weight="bold" >F</text><rect x="417.6" y="23.65" width="1.4" height="1.2" fill="#d41c52"/><rect x="420.5" y="23.65" width="1.4" height="1.2" fill="#d41c52"/><rect x="423.4" y="23.65" width="1.4" height="1.2" fill="#d41c52"/><rect x="364.5" y="56.8" width="1.4" height="1.2" fill="#d41c52"/><rect x="367.4" y="56.8" width="1.4" height="1.2" fill="#d41c52"/><rect x="370.3" y="56.8" width="1.4" height="1.2" fill="#d41c52"/><line x1="357.25" y1="74.25" x2="370" y2="74.25" stroke="#d41c52" stroke-width="1.3"/><rect x="441.5" y="1.4" width="77.8" height="77.8" fill="#fdf0da" stroke="#a4a4a4" stroke-width="1.1"/><rect x="458.05" y="5.5" width="13.4" height="13.2" fill="#fcd7bd"/><rect x="472.55" y="10.25" width="13.4" height="13.2" fill="#fcd7bd"/><rect x="486.8" y="13.5" width="13.4" height="13.2" fill="#fcd7bd"/><rect x="501.3" y="18.5" width="13.4" height="13.2" fill="#fcd7bd"/><rect x="453.8" y="18.5" width="13.4" height="13.2" fill="#fcd7bd"/><rect x="467.55" y="24.75" width="13.4" height="13.2" fill="#fcd7bd"/><rect x="482.55" y="28" width="13.4" height="13.2" fill="#fcd7bd"/><rect x="496.8" y="32.25" width="13.4" height="13.2" fill="#fcd7bd"/><rect x="449.55" y="34" width="13.4" height="13.2" fill="#fcd7bd"/><rect x="464.3" y="38" width="13.4" height="13.2" fill="#fcd7bd"/><rect x="478.3" y="42.25" width="13.4" height="13.2" fill="#fcd7bd"/><rect x="491.8" y="46.75" width="13.4" height="13.2" fill="#fcd7bd"/><rect x="445.8" y="46.75" width="13.4" height="13.2" fill="#fcd7bd"/><rect x="460.05" y="53" width="13.4" height="13.2" fill="#fcd7bd"/><rect x="474.3" y="56.75" width="13.4" height="13.2" fill="#fcd7bd"/><rect x="488.05" y="61" width="13.4" height="13.2" fill="#fcd7bd"/><circle cx="464.75" cy="12" r="3.4" fill="#fde6c8" fill-opacity="0.6"/><circle cx="464.75" cy="12" r="2.4" fill="#fde9e2" stroke="#f6a88e" stroke-width="0.9"/><circle cx="464.75" cy="12" r="1.1" fill="#f6b8b4"/><circle cx="479.25" cy="16.75" r="3.4" fill="#fde6c8" fill-opacity="0.6"/><circle cx="479.25" cy="16.75" r="2.4" fill="#fde9e2" stroke="#f6a88e" stroke-width="0.9"/><circle cx="479.25" cy="16.75" r="1.1" fill="#f6b8b4"/><circle cx="493.5" cy="20" r="3.4" fill="#fde6c8" fill-opacity="0.6"/><circle cx="493.5" cy="20" r="2.4" fill="#fde9e2" stroke="#f6a88e" stroke-width="0.9"/><circle cx="493.5" cy="20" r="1.1" fill="#f6b8b4"/><circle cx="508" cy="25" r="3.4" fill="#fde6c8" fill-opacity="0.6"/><circle cx="508" cy="25" r="2.4" fill="#fde9e2" stroke="#f6a88e" stroke-width="0.9"/><circle cx="508" cy="25" r="1.1" fill="#f6b8b4"/><circle cx="460.5" cy="25" r="3.4" fill="#fde6c8" fill-opacity="0.6"/><circle cx="460.5" cy="25" r="2.4" fill="#fde9e2" stroke="#f6a88e" stroke-width="0.9"/><circle cx="460.5" cy="25" r="1.1" fill="#f6b8b4"/><circle cx="474.25" cy="31.25" r="3.4" fill="#fde6c8" fill-opacity="0.6"/><circle cx="474.25" cy="31.25" r="2.4" fill="#fde9e2" stroke="#f6a88e" stroke-width="0.9"/><circle cx="474.25" cy="31.25" r="1.1" fill="#f6b8b4"/><circle cx="489.25" cy="34.5" r="3.4" fill="#fde6c8" fill-opacity="0.6"/><circle cx="489.25" cy="34.5" r="2.4" fill="#fde9e2" stroke="#f6a88e" stroke-width="0.9"/><circle cx="489.25" cy="34.5" r="1.1" fill="#f6b8b4"/><circle cx="503.5" cy="38.75" r="3.4" fill="#fde6c8" fill-opacity="0.6"/><circle cx="503.5" cy="38.75" r="2.4" fill="#fde9e2" stroke="#f6a88e" stroke-width="0.9"/><circle cx="503.5" cy="38.75" r="1.1" fill="#f6b8b4"/><circle cx="456.25" cy="40.5" r="3.4" fill="#fde6c8" fill-opacity="0.6"/><circle cx="456.25" cy="40.5" r="2.4" fill="#fde9e2" stroke="#f6a88e" stroke-width="0.9"/><circle cx="456.25" cy="40.5" r="1.1" fill="#f6b8b4"/><circle cx="471" cy="44.5" r="3.4" fill="#fde6c8" fill-opacity="0.6"/><circle cx="471" cy="44.5" r="2.4" fill="#fde9e2" stroke="#f6a88e" stroke-width="0.9"/><circle cx="471" cy="44.5" r="1.1" fill="#f6b8b4"/><circle cx="485" cy="48.75" r="3.4" fill="#fde6c8" fill-opacity="0.6"/><circle cx="485" cy="48.75" r="2.4" fill="#fde9e2" stroke="#f6a88e" stroke-width="0.9"/><circle cx="485" cy="48.75" r="1.1" fill="#f6b8b4"/><circle cx="498.5" cy="53.25" r="3.4" fill="#fde6c8" fill-opacity="0.6"/><circle cx="498.5" cy="53.25" r="2.4" fill="#fde9e2" stroke="#f6a88e" stroke-width="0.9"/><circle cx="498.5" cy="53.25" r="1.1" fill="#f6b8b4"/><circle cx="452.5" cy="53.25" r="3.4" fill="#fde6c8" fill-opacity="0.6"/><circle cx="452.5" cy="53.25" r="2.4" fill="#fde9e2" stroke="#f6a88e" stroke-width="0.9"/><circle cx="452.5" cy="53.25" r="1.1" fill="#f6b8b4"/><circle cx="466.75" cy="59.5" r="3.4" fill="#fde6c8" fill-opacity="0.6"/><circle cx="466.75" cy="59.5" r="2.4" fill="#fde9e2" stroke="#f6a88e" stroke-width="0.9"/><circle cx="466.75" cy="59.5" r="1.1" fill="#f6b8b4"/><circle cx="481" cy="63.25" r="3.4" fill="#fde6c8" fill-opacity="0.6"/><circle cx="481" cy="63.25" r="2.4" fill="#fde9e2" stroke="#f6a88e" stroke-width="0.9"/><circle cx="481" cy="63.25" r="1.1" fill="#f6b8b4"/><circle cx="494.75" cy="67.5" r="3.4" fill="#fde6c8" fill-opacity="0.6"/><circle cx="494.75" cy="67.5" r="2.4" fill="#fde9e2" stroke="#f6a88e" stroke-width="0.9"/><circle cx="494.75" cy="67.5" r="1.1" fill="#f6b8b4"/><text x="444.9" y="14.3" font-family="Liberation Sans" font-size="12.5" text-anchor="start" fill="#8c8c8c" font-weight="bold" >e</text><line x1="445.5" y1="74.25" x2="449.75" y2="74.25" stroke="#909090" stroke-width="1.2"/><rect x="20.0" y="179.5" width="217.2" height="72" fill="#ebebf8"/><rect x="20.0" y="179.5" width="217.2" height="72" filter="url(#grain)" opacity="0.35"/><rect x="240.7" y="179.5" width="216.9" height="72" fill="#ebebf8"/><rect x="240.7" y="179.5" width="216.9" height="72" filter="url(#grain)" opacity="0.35"/><rect x="461.5" y="179.5" width="217" height="72" fill="#ebebf8"/><rect x="461.5" y="179.5" width="217" height="72" filter="url(#grain)" opacity="0.35"/><ellipse cx="51.9" cy="188.2" rx="1.6" ry="1.3" fill="#5a5ad6" fill-opacity="0.85"/><ellipse cx="131.7" cy="195.2" rx="1.6" ry="1.3" fill="#5a5ad6" fill-opacity="0.85"/><ellipse cx="218.3" cy="198" rx="1.6" ry="1.3" fill="#5a5ad6" fill-opacity="0.85"/><ellipse cx="272.7" cy="188.6" rx="1.6" ry="1.3" fill="#5a5ad6" fill-opacity="0.85"/><ellipse cx="280.1" cy="195.2" rx="1.6" ry="1.3" fill="#5a5ad6" fill-opacity="0.85"/><ellipse cx="352.3" cy="195.2" rx="1.6" ry="1.3" fill="#5a5ad6" fill-opacity="0.85"/><ellipse cx="366.7" cy="198" rx="1.6" ry="1.3" fill="#5a5ad6" fill-opacity="0.85"/><ellipse cx="439.2" cy="198" rx="1.6" ry="1.3" fill="#5a5ad6" fill-opacity="0.85"/><ellipse cx="450.4" cy="207.8" rx="1.6" ry="1.3" fill="#5a5ad6" fill-opacity="0.85"/><ellipse cx="493.6" cy="188.9" rx="1.6" ry="1.3" fill="#5a5ad6" fill-opacity="0.85"/><ellipse cx="573.5" cy="195" rx="1.6" ry="1.3" fill="#5a5ad6" fill-opacity="0.85"/><ellipse cx="660" cy="198.5" rx="1.6" ry="1.3" fill="#5a5ad6" fill-opacity="0.85"/><text x="49.8" y="197.6" font-family="Liberation Sans" font-size="8" text-anchor="middle" fill="#d41c52" font-weight="bold" textLength="5.15" lengthAdjust="spacingAndGlyphs" >0</text><text x="128.6" y="204.6" font-family="Liberation Sans" font-size="8" text-anchor="middle" fill="#d41c52" font-weight="bold" textLength="5.15" lengthAdjust="spacingAndGlyphs" >1</text><text x="215.8" y="207.4" font-family="Liberation Sans" font-size="8" text-anchor="middle" fill="#d41c52" font-weight="bold" textLength="5.15" lengthAdjust="spacingAndGlyphs" >2</text><text x="270.3" y="198" font-family="Liberation Sans" font-size="8" text-anchor="middle" fill="#d41c52" font-weight="bold" textLength="5.15" lengthAdjust="spacingAndGlyphs" >0</text><text x="276.6" y="204.6" font-family="Liberation Sans" font-size="8" text-anchor="middle" fill="#d41c52" font-weight="bold" textLength="5.15" lengthAdjust="spacingAndGlyphs" >1</text><text x="349.1" y="204.6" font-family="Liberation Sans" font-size="8" text-anchor="middle" fill="#d41c52" font-weight="bold" textLength="5.15" lengthAdjust="spacingAndGlyphs" >1</text><text x="364.2" y="207.4" font-family="Liberation Sans" font-size="8" text-anchor="middle" fill="#d41c52" font-weight="bold" textLength="5.15" lengthAdjust="spacingAndGlyphs" >2</text><text x="436.7" y="207.4" font-family="Liberation Sans" font-size="8" text-anchor="middle" fill="#d41c52" font-weight="bold" textLength="5.15" lengthAdjust="spacingAndGlyphs" >2</text><text x="446.9" y="217.2" font-family="Liberation Sans" font-size="8" text-anchor="middle" fill="#d41c52" font-weight="bold" textLength="5.15" lengthAdjust="spacingAndGlyphs" >3</text><text x="491.2" y="198.3" font-family="Liberation Sans" font-size="8" text-anchor="middle" fill="#d41c52" font-weight="bold" textLength="5.15" lengthAdjust="spacingAndGlyphs" >0</text><text x="569.7" y="204.4" font-family="Liberation Sans" font-size="8" text-anchor="middle" fill="#d41c52" font-weight="bold" textLength="5.15" lengthAdjust="spacingAndGlyphs" >1</text><text x="656.9" y="207.9" font-family="Liberation Sans" font-size="8" text-anchor="middle" fill="#d41c52" font-weight="bold" textLength="5.15" lengthAdjust="spacingAndGlyphs" >2</text><line x1="23.6" y1="247.5" x2="35.3" y2="247.5" stroke="#d41c52" stroke-width="1.3"/><line x1="96" y1="247.5" x2="107.7" y2="247.5" stroke="#d41c52" stroke-width="1.3"/><line x1="168.4" y1="247.5" x2="180.1" y2="247.5" stroke="#d41c52" stroke-width="1.3"/><rect x="20.0" y="179.5" width="217.2" height="72" fill="none" stroke="#d41c52" stroke-width="1.4"/><line x1="92.4" y1="179.5" x2="92.4" y2="251.5" stroke="#d41c52" stroke-width="1.3"/><line x1="164.8" y1="179.5" x2="164.8" y2="251.5" stroke="#d41c52" stroke-width="1.3"/><line x1="244.3" y1="247.5" x2="256" y2="247.5" stroke="#d41c52" stroke-width="1.3"/><line x1="316.6" y1="247.5" x2="328.3" y2="247.5" stroke="#d41c52" stroke-width="1.3"/><line x1="388.9" y1="247.5" x2="400.6" y2="247.5" stroke="#d41c52" stroke-width="1.3"/><rect x="240.7" y="179.5" width="216.9" height="72" fill="none" stroke="#d41c52" stroke-width="1.4"/><line x1="313" y1="179.5" x2="313" y2="251.5" stroke="#d41c52" stroke-width="1.3"/><line x1="385.3" y1="179.5" x2="385.3" y2="251.5" stroke="#d41c52" stroke-width="1.3"/><line x1="465.1" y1="247.5" x2="476.8" y2="247.5" stroke="#d41c52" stroke-width="1.3"/><line x1="537.43" y1="247.5" x2="549.13" y2="247.5" stroke="#d41c52" stroke-width="1.3"/><line x1="609.77" y1="247.5" x2="621.47" y2="247.5" stroke="#d41c52" stroke-width="1.3"/><rect x="461.5" y="179.5" width="217" height="72" fill="none" stroke="#d41c52" stroke-width="1.4"/><line x1="533.83" y1="179.5" x2="533.83" y2="251.5" stroke="#d41c52" stroke-width="1.3"/><line x1="606.17" y1="179.5" x2="606.17" y2="251.5" stroke="#d41c52" stroke-width="1.3"/><polygon points="19,274 26.6,274 32.3,263.5 79.2,263.5 84.9,274 96.9,274 102.5,263.5 149.4,263.5 155.6,274 172.6,274 178.7,263.5 225.1,263.5 231.2,274 238.6,274" fill="#fbe3ea"/><polyline points="19,274 26.6,274 32.3,263.5 79.2,263.5 84.9,274 96.9,274 102.5,263.5 149.4,263.5 155.6,274 172.6,274 178.7,263.5 225.1,263.5 231.2,274 238.6,274" fill="none" stroke="#d41c52" stroke-width="1.3" stroke-linejoin="miter"/><polygon points="242,274 249,274 255.5,263.5 302.4,263.5 307.7,274 319.4,274 325.6,263.5 372.2,263.5 377.9,274 394.9,274 401.1,263.5 448,263.5 453.6,274 461,274" fill="#fbe3ea"/><polyline points="242,274 249,274 255.5,263.5 302.4,263.5 307.7,274 319.4,274 325.6,263.5 372.2,263.5 377.9,274 394.9,274 401.1,263.5 448,263.5 453.6,274 461,274" fill="none" stroke="#d41c52" stroke-width="1.3" stroke-linejoin="miter"/><polygon points="464.6,274 471.6,274 524.2,263.5 530.7,274 541.7,274 594.4,263.5 600.9,274 618.4,274 670.6,263.5 676.8,274 683.8,274" fill="#fbe3ea"/><polyline points="464.6,274 471.6,274 524.2,263.5 530.7,274 541.7,274 594.4,263.5 600.9,274 618.4,274 670.6,263.5 676.8,274 683.8,274" fill="none" stroke="#d41c52" stroke-width="1.3" stroke-linejoin="miter"/><text x="74.9" y="272.2" font-family="Liberation Sans" font-size="7.9" text-anchor="middle" fill="#d41c52" font-weight="bold" textLength="5.08" lengthAdjust="spacingAndGlyphs" >0</text><text x="148" y="272.2" font-family="Liberation Sans" font-size="7.9" text-anchor="middle" fill="#d41c52" font-weight="bold" textLength="5.08" lengthAdjust="spacingAndGlyphs" >1</text><text x="221.3" y="272.2" font-family="Liberation Sans" font-size="7.9" text-anchor="middle" fill="#d41c52" font-weight="bold" textLength="5.08" lengthAdjust="spacingAndGlyphs" >2</text><text x="294" y="272.2" font-family="Liberation Sans" font-size="7.9" text-anchor="middle" fill="#d41c52" font-weight="bold" textLength="12.93" lengthAdjust="spacingAndGlyphs" >0,1</text><text x="366.9" y="272.2" font-family="Liberation Sans" font-size="7.9" text-anchor="middle" fill="#d41c52" font-weight="bold" textLength="12.93" lengthAdjust="spacingAndGlyphs" >1,2</text><text x="440.1" y="272.2" font-family="Liberation Sans" font-size="7.9" text-anchor="middle" fill="#d41c52" font-weight="bold" textLength="12.93" lengthAdjust="spacingAndGlyphs" >2,3</text><text x="520.3" y="272.2" font-family="Liberation Sans" font-size="7.9" text-anchor="middle" fill="#d41c52" font-weight="bold" textLength="5.08" lengthAdjust="spacingAndGlyphs" >0</text><text x="593.6" y="272.2" font-family="Liberation Sans" font-size="7.9" text-anchor="middle" fill="#d41c52" font-weight="bold" textLength="5.08" lengthAdjust="spacingAndGlyphs" >1</text><text x="666.6" y="272.2" font-family="Liberation Sans" font-size="7.9" text-anchor="middle" fill="#d41c52" font-weight="bold" textLength="5.08" lengthAdjust="spacingAndGlyphs" >2</text><polygon points="20.3,318.1 20.3,315.1 22.9,315.1 25.7,316.6 28.4,313.7 31.4,311 34.3,305.3 37.2,305.9 39.9,305.9 42.8,307.5 45.7,306.3 48.6,306.7 51.6,306.7 54.5,304.3 57.4,304 60.3,307.6 63.2,304.9 66,306.7 69,306.9 71.9,306.9 74.8,306.9 77.7,306.7 80.6,308.8 83.6,313.7 86.5,316.6 89.4,316.6 92.3,315.8 95,315.5 98,315.3 100.9,310.5 103.9,302.5 106.7,302.5 109.7,303 112.7,304 115.8,303.4 118.6,301.9 121.4,300.8 124.4,303 127.2,304.5 130.2,300.8 133.1,302.3 136.1,302.3 138.9,302.3 141.9,300.4 144.7,302.3 147.7,303.4 150.3,304 153.4,311 156.2,317 159,315.5 161.8,313.8 164.8,316.4 167.6,315.5 170.4,314.2 173.5,316.8 176.3,311.6 179.3,305.1 182.1,302.3 185.1,301.5 187.9,301.2 191,302.3 193.8,303 196.8,304 199.6,304 202.6,302.5 205.4,305.1 208.2,303 211.3,302.3 214.1,302.3 217.1,304 219.9,303 222.7,301.9 225.5,305.1 228.6,311.6 231.4,316.4 234.2,317 237.2,317 237.2,318.1" fill="#ececfa"/><polygon points="243.6,318.1 243.6,315.4 246.4,314.9 248.9,314.6 252.1,307.7 254.9,294.5 257.6,293.5 260.5,291.6 263.4,292.6 266.1,292.2 269.3,291.9 272.2,293.2 274.9,292.2 277.8,292.2 280.6,292.2 283.8,293.5 286.5,293.5 289.4,293.5 292.6,291.6 295.3,292.9 298.2,293.5 301.1,297.2 304.2,308 307.1,315.4 309.9,315.7 312.8,316.2 315.7,315.7 318.6,315.7 321.6,307.5 324.5,295.7 327.6,288.7 330.2,289.5 333.3,292.8 336.3,292.2 339,291.2 341.9,289.5 344.7,287.1 347.6,291.6 350.7,288.7 353.5,290.8 356.4,292.8 359.4,288.7 362.3,289.1 365.2,289.1 368,288.7 370.9,292.8 373.8,305.5 376.8,316.7 379.7,315.7 382.7,317.3 385.6,316.7 388.5,317.3 391.3,315.1 394.2,313.2 397.1,301 399.9,288.1 402.8,285.5 405.4,285.5 408.5,288.1 411.4,287.1 414.2,286.1 417.1,287.5 420.1,289.5 423,287.1 425.9,288.1 428.7,288.1 431.6,290.2 434.4,289.5 437.5,287.5 440.4,290.8 443.2,290.8 446.1,293.6 449.2,304.5 452,314.7 454.9,317.3 454.9,318.1" fill="#ececfa"/><polygon points="463,318.1 463,316.6 465.5,316.6 467.7,316.6 470,316.3 472.6,316.6 475.5,316.3 478.5,314.1 481.3,315 484.1,315 487.1,314.1 490.1,313.8 492.9,312.1 495.9,313.6 498.8,312 501.6,312.6 504.6,311 507.4,312.1 510.4,311 513.3,310 516.2,307.6 519.1,307.6 521.9,308.3 524.9,315 527.9,316.6 530.7,316.6 533.7,315.5 536.5,316.6 539.5,315.5 542.4,315 545.2,315.8 548,314.6 550.9,314.6 553.7,311.6 556.7,314.6 559.5,312.6 562.5,311.3 565.3,310 568.5,313.4 571.4,309.5 574.3,310 577.2,308.2 580,308.3 583,305.8 585.8,306.4 588.7,307 591.6,304.7 594.5,311.2 597.4,315 600.3,317.2 603.2,315.8 606.1,315.8 609,316.9 611.9,317.2 614.8,315.8 617.7,315.8 620.6,316.9 623.5,314.1 626.4,315.2 629.3,313.8 632.2,312.4 635.1,313.8 638,312.4 640.9,310.9 643.8,312.1 646.7,311.7 649.6,311.2 652.5,310 655.4,308.3 658.4,307.8 661.3,306.6 664.2,304.4 667.1,304.4 670,312.4 672.9,314.1 675.8,316.3 678.7,315.5 678.7,318.1" fill="#ececfa"/><path d="M19.75 314h1.1v2.2h-1.1zM22.35 314h1.1v2.2h-1.1zM25.15 315.5h1.1v2.2h-1.1zM27.85 312.6h1.1v2.2h-1.1zM30.85 309.9h1.1v2.2h-1.1zM33.75 304.2h1.1v2.2h-1.1zM36.65 304.8h1.1v2.2h-1.1zM39.35 304.8h1.1v2.2h-1.1zM42.25 306.4h1.1v2.2h-1.1zM45.15 305.2h1.1v2.2h-1.1zM48.05 305.6h1.1v2.2h-1.1zM51.05 305.6h1.1v2.2h-1.1zM53.95 303.2h1.1v2.2h-1.1zM56.85 302.9h1.1v2.2h-1.1zM59.75 306.5h1.1v2.2h-1.1zM62.65 303.8h1.1v2.2h-1.1zM65.45 305.6h1.1v2.2h-1.1zM68.45 305.8h1.1v2.2h-1.1zM71.35 305.8h1.1v2.2h-1.1zM74.25 305.8h1.1v2.2h-1.1zM77.15 305.6h1.1v2.2h-1.1zM80.05 307.7h1.1v2.2h-1.1zM83.05 312.6h1.1v2.2h-1.1zM85.95 315.5h1.1v2.2h-1.1zM88.85 315.5h1.1v2.2h-1.1zM91.75 314.7h1.1v2.2h-1.1zM94.45 314.4h1.1v2.2h-1.1zM97.45 314.2h1.1v2.2h-1.1zM100.35 309.4h1.1v2.2h-1.1zM103.35 301.4h1.1v2.2h-1.1zM106.15 301.4h1.1v2.2h-1.1zM109.15 301.9h1.1v2.2h-1.1zM112.15 302.9h1.1v2.2h-1.1zM115.25 302.3h1.1v2.2h-1.1zM118.05 300.8h1.1v2.2h-1.1zM120.85 299.7h1.1v2.2h-1.1zM123.85 301.9h1.1v2.2h-1.1zM126.65 303.4h1.1v2.2h-1.1zM129.65 299.7h1.1v2.2h-1.1zM132.55 301.2h1.1v2.2h-1.1zM135.55 301.2h1.1v2.2h-1.1zM138.35 301.2h1.1v2.2h-1.1zM141.35 299.3h1.1v2.2h-1.1zM144.15 301.2h1.1v2.2h-1.1zM147.15 302.3h1.1v2.2h-1.1zM149.75 302.9h1.1v2.2h-1.1zM152.85 309.9h1.1v2.2h-1.1zM155.65 315.9h1.1v2.2h-1.1zM158.45 314.4h1.1v2.2h-1.1zM161.25 312.7h1.1v2.2h-1.1zM164.25 315.3h1.1v2.2h-1.1zM167.05 314.4h1.1v2.2h-1.1zM169.85 313.1h1.1v2.2h-1.1zM172.95 315.7h1.1v2.2h-1.1zM175.75 310.5h1.1v2.2h-1.1zM178.75 304h1.1v2.2h-1.1zM181.55 301.2h1.1v2.2h-1.1zM184.55 300.4h1.1v2.2h-1.1zM187.35 300.1h1.1v2.2h-1.1zM190.45 301.2h1.1v2.2h-1.1zM193.25 301.9h1.1v2.2h-1.1zM196.25 302.9h1.1v2.2h-1.1zM199.05 302.9h1.1v2.2h-1.1zM202.05 301.4h1.1v2.2h-1.1zM204.85 304h1.1v2.2h-1.1zM207.65 301.9h1.1v2.2h-1.1zM210.75 301.2h1.1v2.2h-1.1zM213.55 301.2h1.1v2.2h-1.1zM216.55 302.9h1.1v2.2h-1.1zM219.35 301.9h1.1v2.2h-1.1zM222.15 300.8h1.1v2.2h-1.1zM224.95 304h1.1v2.2h-1.1zM228.05 310.5h1.1v2.2h-1.1zM230.85 315.3h1.1v2.2h-1.1zM233.65 315.9h1.1v2.2h-1.1zM236.65 315.9h1.1v2.2h-1.1zM243.05 314.3h1.1v2.2h-1.1zM245.85 313.8h1.1v2.2h-1.1zM248.35 313.5h1.1v2.2h-1.1zM251.55 306.6h1.1v2.2h-1.1zM254.35 293.4h1.1v2.2h-1.1zM257.05 292.4h1.1v2.2h-1.1zM259.95 290.5h1.1v2.2h-1.1zM262.85 291.5h1.1v2.2h-1.1zM265.55 291.1h1.1v2.2h-1.1zM268.75 290.8h1.1v2.2h-1.1zM271.65 292.1h1.1v2.2h-1.1zM274.35 291.1h1.1v2.2h-1.1zM277.25 291.1h1.1v2.2h-1.1zM280.05 291.1h1.1v2.2h-1.1zM283.25 292.4h1.1v2.2h-1.1zM285.95 292.4h1.1v2.2h-1.1zM288.85 292.4h1.1v2.2h-1.1zM292.05 290.5h1.1v2.2h-1.1zM294.75 291.8h1.1v2.2h-1.1zM297.65 292.4h1.1v2.2h-1.1zM300.55 296.1h1.1v2.2h-1.1zM303.65 306.9h1.1v2.2h-1.1zM306.55 314.3h1.1v2.2h-1.1zM309.35 314.6h1.1v2.2h-1.1zM312.25 315.1h1.1v2.2h-1.1zM315.15 314.6h1.1v2.2h-1.1zM318.05 314.6h1.1v2.2h-1.1zM321.05 306.4h1.1v2.2h-1.1zM323.95 294.6h1.1v2.2h-1.1zM327.05 287.6h1.1v2.2h-1.1zM329.65 288.4h1.1v2.2h-1.1zM332.75 291.7h1.1v2.2h-1.1zM335.75 291.1h1.1v2.2h-1.1zM338.45 290.1h1.1v2.2h-1.1zM341.35 288.4h1.1v2.2h-1.1zM344.15 286h1.1v2.2h-1.1zM347.05 290.5h1.1v2.2h-1.1zM350.15 287.6h1.1v2.2h-1.1zM352.95 289.7h1.1v2.2h-1.1zM355.85 291.7h1.1v2.2h-1.1zM358.85 287.6h1.1v2.2h-1.1zM361.75 288h1.1v2.2h-1.1zM364.65 288h1.1v2.2h-1.1zM367.45 287.6h1.1v2.2h-1.1zM370.35 291.7h1.1v2.2h-1.1zM373.25 304.4h1.1v2.2h-1.1zM376.25 315.6h1.1v2.2h-1.1zM379.15 314.6h1.1v2.2h-1.1zM382.15 316.2h1.1v2.2h-1.1zM385.05 315.6h1.1v2.2h-1.1zM387.95 316.2h1.1v2.2h-1.1zM390.75 314h1.1v2.2h-1.1zM393.65 312.1h1.1v2.2h-1.1zM396.55 299.9h1.1v2.2h-1.1zM399.35 287h1.1v2.2h-1.1zM402.25 284.4h1.1v2.2h-1.1zM404.85 284.4h1.1v2.2h-1.1zM407.95 287h1.1v2.2h-1.1zM410.85 286h1.1v2.2h-1.1zM413.65 285h1.1v2.2h-1.1zM416.55 286.4h1.1v2.2h-1.1zM419.55 288.4h1.1v2.2h-1.1zM422.45 286h1.1v2.2h-1.1zM425.35 287h1.1v2.2h-1.1zM428.15 287h1.1v2.2h-1.1zM431.05 289.1h1.1v2.2h-1.1zM433.85 288.4h1.1v2.2h-1.1zM436.95 286.4h1.1v2.2h-1.1zM439.85 289.7h1.1v2.2h-1.1zM442.65 289.7h1.1v2.2h-1.1zM445.55 292.5h1.1v2.2h-1.1zM448.65 303.4h1.1v2.2h-1.1zM451.45 313.6h1.1v2.2h-1.1zM454.35 316.2h1.1v2.2h-1.1zM462.45 315.5h1.1v2.2h-1.1zM464.95 315.5h1.1v2.2h-1.1zM467.15 315.5h1.1v2.2h-1.1zM469.45 315.2h1.1v2.2h-1.1zM472.05 315.5h1.1v2.2h-1.1zM474.95 315.2h1.1v2.2h-1.1zM477.95 313h1.1v2.2h-1.1zM480.75 313.9h1.1v2.2h-1.1zM483.55 313.9h1.1v2.2h-1.1zM486.55 313h1.1v2.2h-1.1zM489.55 312.7h1.1v2.2h-1.1zM492.35 311h1.1v2.2h-1.1zM495.35 312.5h1.1v2.2h-1.1zM498.25 310.9h1.1v2.2h-1.1zM501.05 311.5h1.1v2.2h-1.1zM504.05 309.9h1.1v2.2h-1.1zM506.85 311h1.1v2.2h-1.1zM509.85 309.9h1.1v2.2h-1.1zM512.75 308.9h1.1v2.2h-1.1zM515.65 306.5h1.1v2.2h-1.1zM518.55 306.5h1.1v2.2h-1.1zM521.35 307.2h1.1v2.2h-1.1zM524.35 313.9h1.1v2.2h-1.1zM527.35 315.5h1.1v2.2h-1.1zM530.15 315.5h1.1v2.2h-1.1zM533.15 314.4h1.1v2.2h-1.1zM535.95 315.5h1.1v2.2h-1.1zM538.95 314.4h1.1v2.2h-1.1zM541.85 313.9h1.1v2.2h-1.1zM544.65 314.7h1.1v2.2h-1.1zM547.45 313.5h1.1v2.2h-1.1zM550.35 313.5h1.1v2.2h-1.1zM553.15 310.5h1.1v2.2h-1.1zM556.15 313.5h1.1v2.2h-1.1zM558.95 311.5h1.1v2.2h-1.1zM561.95 310.2h1.1v2.2h-1.1zM564.75 308.9h1.1v2.2h-1.1zM567.95 312.3h1.1v2.2h-1.1zM570.85 308.4h1.1v2.2h-1.1zM573.75 308.9h1.1v2.2h-1.1zM576.65 307.1h1.1v2.2h-1.1zM579.45 307.2h1.1v2.2h-1.1zM582.45 304.7h1.1v2.2h-1.1zM585.25 305.3h1.1v2.2h-1.1zM588.15 305.9h1.1v2.2h-1.1zM591.05 303.6h1.1v2.2h-1.1zM593.95 310.1h1.1v2.2h-1.1zM596.85 313.9h1.1v2.2h-1.1zM599.75 316.1h1.1v2.2h-1.1zM602.65 314.7h1.1v2.2h-1.1zM605.55 314.7h1.1v2.2h-1.1zM608.45 315.8h1.1v2.2h-1.1zM611.35 316.1h1.1v2.2h-1.1zM614.25 314.7h1.1v2.2h-1.1zM617.15 314.7h1.1v2.2h-1.1zM620.05 315.8h1.1v2.2h-1.1zM622.95 313h1.1v2.2h-1.1zM625.85 314.1h1.1v2.2h-1.1zM628.75 312.7h1.1v2.2h-1.1zM631.65 311.3h1.1v2.2h-1.1zM634.55 312.7h1.1v2.2h-1.1zM637.45 311.3h1.1v2.2h-1.1zM640.35 309.8h1.1v2.2h-1.1zM643.25 311h1.1v2.2h-1.1zM646.15 310.6h1.1v2.2h-1.1zM649.05 310.1h1.1v2.2h-1.1zM651.95 308.9h1.1v2.2h-1.1zM654.85 307.2h1.1v2.2h-1.1zM657.85 306.7h1.1v2.2h-1.1zM660.75 305.5h1.1v2.2h-1.1zM663.65 303.3h1.1v2.2h-1.1zM666.55 303.3h1.1v2.2h-1.1zM669.45 311.3h1.1v2.2h-1.1zM672.35 313h1.1v2.2h-1.1zM675.25 315.2h1.1v2.2h-1.1zM678.15 314.4h1.1v2.2h-1.1z" fill="#5454cc"/><line x1="19.3" y1="318.1" x2="237.2" y2="318.1" stroke="#111" stroke-width="1.4"/><line x1="240.75" y1="318.1" x2="457.7" y2="318.1" stroke="#111" stroke-width="1.4"/><line x1="461.2" y1="318.1" x2="679" y2="318.1" stroke="#111" stroke-width="1.4"/><path d="M685 318.1L677.6 315.5L679.5 318.1L677.6 320.70000000000005z" fill="#111"/><line x1="236.2" y1="320.3" x2="238.2" y2="315.90000000000003" stroke="#111" stroke-width="1.1"/><line x1="239.6" y1="320.3" x2="241.6" y2="315.90000000000003" stroke="#111" stroke-width="1.1"/><line x1="456.8" y1="320.3" x2="458.8" y2="315.90000000000003" stroke="#111" stroke-width="1.1"/><line x1="460.2" y1="320.3" x2="462.2" y2="315.90000000000003" stroke="#111" stroke-width="1.1"/><line x1="55.98" y1="318.1" x2="55.98" y2="320.40000000000003" stroke="#111" stroke-width="0.9"/><text x="55.98" y="328.9" font-family="Liberation Sans" font-size="7.6" text-anchor="middle" fill="#111" font-weight="normal" textLength="8.91" lengthAdjust="spacingAndGlyphs" >50</text><line x1="92.15" y1="318.1" x2="92.15" y2="320.40000000000003" stroke="#111" stroke-width="0.9"/><text x="92.15" y="328.9" font-family="Liberation Sans" font-size="7.6" text-anchor="middle" fill="#111" font-weight="normal" textLength="13.36" lengthAdjust="spacingAndGlyphs" >100</text><line x1="128.33" y1="318.1" x2="128.33" y2="320.40000000000003" stroke="#111" stroke-width="0.9"/><text x="128.33" y="328.9" font-family="Liberation Sans" font-size="7.6" text-anchor="middle" fill="#111" font-weight="normal" textLength="13.36" lengthAdjust="spacingAndGlyphs" >150</text><line x1="164.5" y1="318.1" x2="164.5" y2="320.40000000000003" stroke="#111" stroke-width="0.9"/><text x="164.5" y="328.9" font-family="Liberation Sans" font-size="7.6" text-anchor="middle" fill="#111" font-weight="normal" textLength="13.36" lengthAdjust="spacingAndGlyphs" >200</text><line x1="200.68" y1="318.1" x2="200.68" y2="320.40000000000003" stroke="#111" stroke-width="0.9"/><text x="200.68" y="328.9" font-family="Liberation Sans" font-size="7.6" text-anchor="middle" fill="#111" font-weight="normal" textLength="13.36" lengthAdjust="spacingAndGlyphs" >250</text><line x1="277.38" y1="318.1" x2="277.38" y2="320.40000000000003" stroke="#111" stroke-width="0.9"/><text x="277.38" y="328.9" font-family="Liberation Sans" font-size="7.6" text-anchor="middle" fill="#111" font-weight="normal" textLength="17.81" lengthAdjust="spacingAndGlyphs" >1650</text><line x1="313.55" y1="318.1" x2="313.55" y2="320.40000000000003" stroke="#111" stroke-width="0.9"/><text x="313.55" y="328.9" font-family="Liberation Sans" font-size="7.6" text-anchor="middle" fill="#111" font-weight="normal" textLength="17.81" lengthAdjust="spacingAndGlyphs" >1700</text><line x1="349.73" y1="318.1" x2="349.73" y2="320.40000000000003" stroke="#111" stroke-width="0.9"/><text x="349.73" y="328.9" font-family="Liberation Sans" font-size="7.6" text-anchor="middle" fill="#111" font-weight="normal" textLength="17.81" lengthAdjust="spacingAndGlyphs" >1750</text><line x1="385.9" y1="318.1" x2="385.9" y2="320.40000000000003" stroke="#111" stroke-width="0.9"/><text x="385.9" y="328.9" font-family="Liberation Sans" font-size="7.6" text-anchor="middle" fill="#111" font-weight="normal" textLength="17.81" lengthAdjust="spacingAndGlyphs" >1800</text><line x1="422.07" y1="318.1" x2="422.07" y2="320.40000000000003" stroke="#111" stroke-width="0.9"/><text x="422.07" y="328.9" font-family="Liberation Sans" font-size="7.6" text-anchor="middle" fill="#111" font-weight="normal" textLength="17.81" lengthAdjust="spacingAndGlyphs" >1850</text><line x1="497.18" y1="318.1" x2="497.18" y2="320.40000000000003" stroke="#111" stroke-width="0.9"/><text x="497.18" y="328.9" font-family="Liberation Sans" font-size="7.6" text-anchor="middle" fill="#111" font-weight="normal" textLength="17.81" lengthAdjust="spacingAndGlyphs" >3250</text><line x1="533.35" y1="318.1" x2="533.35" y2="320.40000000000003" stroke="#111" stroke-width="0.9"/><text x="533.35" y="328.9" font-family="Liberation Sans" font-size="7.6" text-anchor="middle" fill="#111" font-weight="normal" textLength="17.81" lengthAdjust="spacingAndGlyphs" >3300</text><line x1="569.52" y1="318.1" x2="569.52" y2="320.40000000000003" stroke="#111" stroke-width="0.9"/><text x="569.52" y="328.9" font-family="Liberation Sans" font-size="7.6" text-anchor="middle" fill="#111" font-weight="normal" textLength="17.81" lengthAdjust="spacingAndGlyphs" >3350</text><line x1="605.7" y1="318.1" x2="605.7" y2="320.40000000000003" stroke="#111" stroke-width="0.9"/><text x="605.7" y="328.9" font-family="Liberation Sans" font-size="7.6" text-anchor="middle" fill="#111" font-weight="normal" textLength="17.81" lengthAdjust="spacingAndGlyphs" >3400</text><line x1="641.88" y1="318.1" x2="641.88" y2="320.40000000000003" stroke="#111" stroke-width="0.9"/><text x="641.88" y="328.9" font-family="Liberation Sans" font-size="7.6" text-anchor="middle" fill="#111" font-weight="normal" textLength="17.81" lengthAdjust="spacingAndGlyphs" >3450</text><text x="349" y="338.7" font-family="Liberation Sans" font-size="7.6" text-anchor="middle" fill="#222" font-weight="normal" textLength="38.41" lengthAdjust="spacingAndGlyphs" >Time <tspan font-style="italic">t</tspan> [ns]</text><text x="7.4" y="307.1" font-family="Liberation Sans" font-size="7.5" text-anchor="middle" fill="#222" font-weight="normal" textLength="13.79" lengthAdjust="spacingAndGlyphs" transform="rotate(-90 7.4 307.1)">PSB</text><text x="14.7" y="307.3" font-family="Liberation Sans" font-size="7.6" text-anchor="middle" fill="#222" font-weight="normal" textLength="43.82" lengthAdjust="spacingAndGlyphs" transform="rotate(-90 14.7 307.3)">Signal [a.u.]</text><text x="1" y="6.6" font-family="Liberation Sans" font-size="12.5" text-anchor="start" fill="#111" font-weight="bold" >a</text><text x="1" y="96.8" font-family="Liberation Sans" font-size="12.5" text-anchor="start" fill="#111" font-weight="bold" >b</text><text x="352.6" y="93.2" font-family="Liberation Serif" font-size="12.5" text-anchor="start" fill="#111" font-weight="bold" >g</text><text x="1" y="188.2" font-family="Liberation Sans" font-size="12.5" text-anchor="start" fill="#111" font-weight="bold" >h</text><text x="0.8" y="267.6" font-family="Liberation Sans" font-size="12.5" text-anchor="start" fill="#111" font-weight="bold" >i</text><text x="0.3" y="289" font-family="Liberation Sans" font-size="12.5" text-anchor="start" fill="#111" font-weight="bold" >j</text></svg></body></html>
